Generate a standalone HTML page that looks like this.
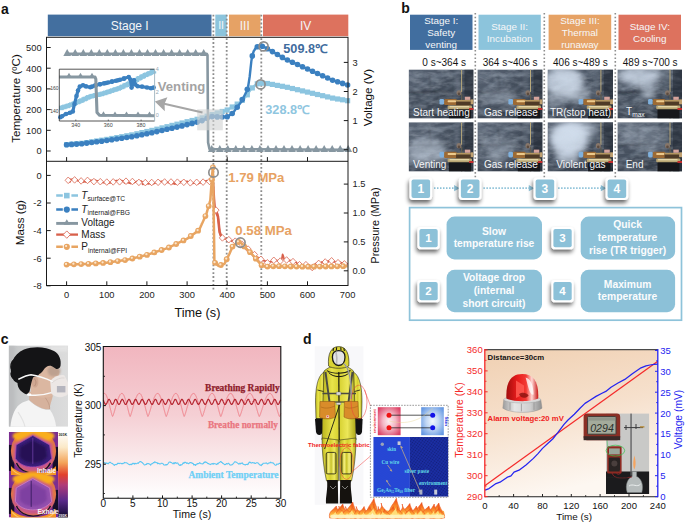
<!DOCTYPE html>
<html lang="en">
<head>
<meta charset="utf-8">
<title>Figure: thermal runaway monitoring, breathing sensing and fire alarm</title>
<style>
html,body{margin:0;padding:0;background:#fff;}
body{width:685px;height:524px;overflow:hidden;font-family:'Liberation Sans',Arial,sans-serif;}
svg{display:block;}
svg text{font-family:'Liberation Sans',Arial,Helvetica,sans-serif;}
.serif{font-family:'Liberation Serif','Times New Roman',serif !important;font-weight:bold;}
.lbl{font-weight:bold;font-size:14px;fill:#111;}
.tk{font-size:9.3px;fill:#222;}
.ax{font-size:11.6px;fill:#111;}
</style>
</head>
<body>
<svg width="685" height="524" viewBox="0 0 685 524">
<rect width="685" height="524" fill="#ffffff"/>
<g id="panel-a">
<text class="lbl" x="1" y="13.5">a</text>
<rect x="47.8" y="14.6" width="163.7" height="21.6" fill="#436f9f"/>
<text x="129.7" y="29.6" font-size="12" fill="#f4f6f8" text-anchor="middle">Stage I</text>
<rect x="215.3" y="14.6" width="11.5" height="21.6" fill="#8cc4dc"/>
<text x="221.1" y="29.2" font-size="10.5" fill="#f4f6f8" text-anchor="middle">II</text>
<rect x="229.0" y="14.6" width="31.5" height="21.6" fill="#e6a265"/>
<text x="244.8" y="29.6" font-size="12" fill="#f4f6f8" text-anchor="middle">III</text>
<rect x="263.0" y="14.6" width="85.3" height="21.6" fill="#dd725e"/>
<text x="305.6" y="29.6" font-size="12" fill="#f4f6f8" text-anchor="middle">IV</text>
<line x1="213.4" y1="14.8" x2="213.4" y2="289.5" stroke="#8c8c8c" stroke-width="1.8" stroke-dasharray="1.8 2.1"/>
<line x1="226.7" y1="14.8" x2="226.7" y2="289.5" stroke="#8c8c8c" stroke-width="1.8" stroke-dasharray="1.8 2.1"/>
<line x1="261.3" y1="14.8" x2="261.3" y2="289.5" stroke="#8c8c8c" stroke-width="1.8" stroke-dasharray="1.8 2.1"/>
<polyline points="66.6,144.6 68.2,144.4 69.8,144.3 71.4,144.2 73.0,144.0 74.6,143.9 76.2,143.8 77.8,143.6 79.4,143.5 81.1,143.3 82.7,143.2 84.3,143.0 85.9,142.7 87.5,142.5 89.1,142.2 90.7,142.0 92.3,141.7 93.9,141.5 95.5,141.2 97.1,140.9 98.7,140.7 100.3,140.4 101.9,140.2 103.5,139.9 105.1,139.7 106.8,139.4 108.4,139.1 110.0,138.8 111.6,138.6 113.2,138.3 114.8,138.0 116.4,137.7 118.0,137.4 119.6,137.1 121.2,136.8 122.8,136.6 124.4,136.3 126.0,136.0 127.6,135.7 129.2,135.4 130.8,135.1 132.4,134.7 134.1,134.4 135.7,134.0 137.3,133.7 138.9,133.3 140.5,132.9 142.1,132.6 143.7,132.2 145.3,131.9 146.9,131.5 148.5,131.2 150.1,130.8 151.7,130.4 153.3,130.1 154.9,129.7 156.5,129.3 158.1,128.9 159.7,128.5 161.4,128.1 163.0,127.7 164.6,127.3 166.2,126.9 167.8,126.5 169.4,126.1 171.0,125.7 172.6,125.3 174.2,124.9 175.8,124.5 177.4,124.1 179.0,123.7 180.6,123.3 182.2,122.9 183.8,122.5 185.4,122.1 187.1,121.7 188.7,121.3 190.3,121.0 191.9,120.6 193.5,120.2 195.1,119.8 196.7,119.4 198.3,119.0 199.9,118.6 201.5,118.1 203.1,117.6 204.7,117.0 206.3,116.5 207.9,115.9 209.5,115.4 211.1,114.9 212.7,114.4 214.4,113.9 216.0,113.4 217.6,112.9 219.2,112.4 220.8,111.9 222.4,111.5 224.0,111.0 225.6,110.5 227.2,110.0 228.8,109.1 230.4,108.1 232.0,107.2 233.6,106.2 235.2,105.2 236.8,104.3 238.4,103.3 240.0,102.4 241.7,100.9 243.3,99.2 244.9,97.6 246.5,95.9 248.1,93.6 249.7,91.2 251.3,88.9 252.9,87.2 254.5,85.6 256.1,84.4 257.7,83.7 259.3,82.9 260.9,83.1 262.5,83.2 264.1,83.3 265.7,83.4 267.4,83.5 269.0,83.8 270.6,84.1 272.2,84.4 273.8,84.7 275.4,85.0 277.0,85.3 278.6,85.6 280.2,85.9 281.8,86.2 283.4,86.5 285.0,86.8 286.6,87.1 288.2,87.5 289.8,87.9 291.4,88.3 293.0,88.6 294.7,89.0 296.3,89.4 297.9,89.8 299.5,90.2 301.1,90.5 302.7,90.9 304.3,91.3 305.9,91.7 307.5,92.1 309.1,92.5 310.7,92.8 312.3,93.2 313.9,93.6 315.5,94.0 317.1,94.4 318.7,94.8 320.3,95.2 322.0,95.6 323.6,96.0 325.2,96.3 326.8,96.7 328.4,97.1 330.0,97.5 331.6,97.9 333.2,98.2 334.8,98.5 336.4,98.8 338.0,99.0 339.6,99.3 341.2,99.6 342.8,99.9 344.4,100.1 346.0,100.4 347.6,100.7" fill="none" stroke="#8cc5e0" stroke-width="2.2" stroke-linejoin="round"/>
<rect x="64.0" y="142.0" width="5.2" height="5.2" fill="#8cc5e0"/>
<rect x="69.0" y="141.6" width="5.2" height="5.2" fill="#8cc5e0"/>
<rect x="74.0" y="141.1" width="5.2" height="5.2" fill="#8cc5e0"/>
<rect x="79.1" y="140.7" width="5.2" height="5.2" fill="#8cc5e0"/>
<rect x="84.1" y="140.0" width="5.2" height="5.2" fill="#8cc5e0"/>
<rect x="89.1" y="139.2" width="5.2" height="5.2" fill="#8cc5e0"/>
<rect x="94.1" y="138.4" width="5.2" height="5.2" fill="#8cc5e0"/>
<rect x="99.1" y="137.6" width="5.2" height="5.2" fill="#8cc5e0"/>
<rect x="104.2" y="136.8" width="5.2" height="5.2" fill="#8cc5e0"/>
<rect x="109.2" y="135.9" width="5.2" height="5.2" fill="#8cc5e0"/>
<rect x="114.2" y="135.0" width="5.2" height="5.2" fill="#8cc5e0"/>
<rect x="119.2" y="134.1" width="5.2" height="5.2" fill="#8cc5e0"/>
<rect x="124.2" y="133.2" width="5.2" height="5.2" fill="#8cc5e0"/>
<rect x="129.2" y="132.3" width="5.2" height="5.2" fill="#8cc5e0"/>
<rect x="134.3" y="131.2" width="5.2" height="5.2" fill="#8cc5e0"/>
<rect x="139.3" y="130.0" width="5.2" height="5.2" fill="#8cc5e0"/>
<rect x="144.3" y="128.9" width="5.2" height="5.2" fill="#8cc5e0"/>
<rect x="149.3" y="127.8" width="5.2" height="5.2" fill="#8cc5e0"/>
<rect x="154.3" y="126.6" width="5.2" height="5.2" fill="#8cc5e0"/>
<rect x="159.4" y="125.3" width="5.2" height="5.2" fill="#8cc5e0"/>
<rect x="164.4" y="124.1" width="5.2" height="5.2" fill="#8cc5e0"/>
<rect x="169.4" y="122.8" width="5.2" height="5.2" fill="#8cc5e0"/>
<rect x="174.4" y="121.6" width="5.2" height="5.2" fill="#8cc5e0"/>
<rect x="179.4" y="120.4" width="5.2" height="5.2" fill="#8cc5e0"/>
<rect x="184.5" y="119.1" width="5.2" height="5.2" fill="#8cc5e0"/>
<rect x="189.5" y="117.9" width="5.2" height="5.2" fill="#8cc5e0"/>
<rect x="194.5" y="116.7" width="5.2" height="5.2" fill="#8cc5e0"/>
<rect x="199.5" y="115.3" width="5.2" height="5.2" fill="#8cc5e0"/>
<rect x="204.5" y="113.6" width="5.2" height="5.2" fill="#8cc5e0"/>
<rect x="209.5" y="112.0" width="5.2" height="5.2" fill="#8cc5e0"/>
<rect x="214.6" y="110.4" width="5.2" height="5.2" fill="#8cc5e0"/>
<rect x="219.6" y="108.9" width="5.2" height="5.2" fill="#8cc5e0"/>
<rect x="224.6" y="107.4" width="5.2" height="5.2" fill="#8cc5e0"/>
<rect x="229.6" y="104.4" width="5.2" height="5.2" fill="#8cc5e0"/>
<rect x="234.6" y="101.5" width="5.2" height="5.2" fill="#8cc5e0"/>
<rect x="239.7" y="97.7" width="5.2" height="5.2" fill="#8cc5e0"/>
<rect x="244.7" y="92.2" width="5.2" height="5.2" fill="#8cc5e0"/>
<rect x="249.7" y="85.3" width="5.2" height="5.2" fill="#8cc5e0"/>
<rect x="254.7" y="81.2" width="5.2" height="5.2" fill="#8cc5e0"/>
<rect x="259.7" y="80.6" width="5.2" height="5.2" fill="#8cc5e0"/>
<rect x="264.8" y="80.9" width="5.2" height="5.2" fill="#8cc5e0"/>
<rect x="269.8" y="81.8" width="5.2" height="5.2" fill="#8cc5e0"/>
<rect x="274.8" y="82.8" width="5.2" height="5.2" fill="#8cc5e0"/>
<rect x="279.8" y="83.7" width="5.2" height="5.2" fill="#8cc5e0"/>
<rect x="284.8" y="84.7" width="5.2" height="5.2" fill="#8cc5e0"/>
<rect x="289.8" y="85.9" width="5.2" height="5.2" fill="#8cc5e0"/>
<rect x="294.9" y="87.1" width="5.2" height="5.2" fill="#8cc5e0"/>
<rect x="299.9" y="88.3" width="5.2" height="5.2" fill="#8cc5e0"/>
<rect x="304.9" y="89.5" width="5.2" height="5.2" fill="#8cc5e0"/>
<rect x="309.9" y="90.7" width="5.2" height="5.2" fill="#8cc5e0"/>
<rect x="314.9" y="91.9" width="5.2" height="5.2" fill="#8cc5e0"/>
<rect x="320.0" y="93.1" width="5.2" height="5.2" fill="#8cc5e0"/>
<rect x="325.0" y="94.3" width="5.2" height="5.2" fill="#8cc5e0"/>
<rect x="330.0" y="95.5" width="5.2" height="5.2" fill="#8cc5e0"/>
<rect x="335.0" y="96.4" width="5.2" height="5.2" fill="#8cc5e0"/>
<rect x="340.0" y="97.2" width="5.2" height="5.2" fill="#8cc5e0"/>
<rect x="345.0" y="98.1" width="5.2" height="5.2" fill="#8cc5e0"/>
<polyline points="66.6,144.8 67.4,144.7 68.2,144.7 69.0,144.6 69.8,144.6 70.6,144.5 71.4,144.4 72.2,144.4 73.0,144.3 73.8,144.3 74.6,144.2 75.4,144.1 76.2,144.1 77.0,144.0 77.8,144.0 78.6,143.9 79.4,143.8 80.3,143.8 81.1,143.7 81.9,143.7 82.7,143.6 83.5,143.5 84.3,143.4 85.1,143.3 85.9,143.2 86.7,143.1 87.5,143.0 88.3,142.9 89.1,142.8 89.9,142.7 90.7,142.6 91.5,142.5 92.3,142.4 93.1,142.3 93.9,142.2 94.7,142.1 95.5,142.0 96.3,141.9 97.1,141.8 97.9,141.7 98.7,141.6 99.5,141.5 100.3,141.4 101.1,141.3 101.9,141.2 102.7,141.1 103.5,141.0 104.3,140.9 105.1,140.8 105.9,140.7 106.8,140.5 107.6,140.4 108.4,140.3 109.2,140.2 110.0,140.1 110.8,139.9 111.6,139.8 112.4,139.7 113.2,139.6 114.0,139.5 114.8,139.3 115.6,139.2 116.4,139.1 117.2,139.0 118.0,138.8 118.8,138.7 119.6,138.6 120.4,138.5 121.2,138.4 122.0,138.2 122.8,138.1 123.6,138.0 124.4,137.9 125.2,137.8 126.0,137.6 126.8,137.5 127.6,137.4 128.4,137.3 129.2,137.1 130.0,137.0 130.8,136.9 131.6,136.7 132.4,136.5 133.2,136.4 134.1,136.2 134.9,136.1 135.7,135.9 136.5,135.7 137.3,135.6 138.1,135.4 138.9,135.3 139.7,135.1 140.5,134.9 141.3,134.8 142.1,134.6 142.9,134.5 143.7,134.3 144.5,134.1 145.3,134.0 146.1,133.8 146.9,133.7 147.7,133.5 148.5,133.3 149.3,133.2 150.1,133.0 150.9,132.9 151.7,132.7 152.5,132.5 153.3,132.4 154.1,132.2 154.9,132.0 155.7,131.8 156.5,131.7 157.3,131.5 158.1,131.3 158.9,131.1 159.7,130.9 160.6,130.8 161.4,130.6 162.2,130.4 163.0,130.2 163.8,130.1 164.6,129.9 165.4,129.7 166.2,129.5 167.0,129.3 167.8,129.2 168.6,129.0 169.4,128.8 170.2,128.6 171.0,128.4 171.8,128.3 172.6,128.1 173.4,127.9 174.2,127.7 175.0,127.6 175.8,127.4 176.6,127.2 177.4,127.0 178.2,126.8 179.0,126.6 179.8,126.4 180.6,126.2 181.4,126.0 182.2,125.8 183.0,125.6 183.8,125.4 184.6,125.2 185.4,125.0 186.2,124.8 187.1,124.6 187.9,124.4 188.7,124.2 189.5,124.1 190.3,123.9 191.1,123.7 191.9,123.5 192.7,123.3 193.5,123.1 194.3,122.9 195.1,122.7 195.9,122.5 196.7,122.3 197.5,122.1 198.3,121.9 199.1,121.7 199.9,121.5 200.7,121.2 201.5,120.9 202.3,120.5 203.1,120.1 203.9,119.8 204.7,119.4 205.5,119.1 206.3,118.7 207.1,118.3 207.9,118.0 208.7,117.6 209.5,117.3 210.3,117.1 211.1,116.8 211.9,116.6 212.7,116.4 213.5,116.5 214.4,116.6 215.2,116.7 216.0,116.7 216.8,116.8 217.6,116.9 218.4,117.0 219.2,117.1 220.0,117.0 220.8,117.0 221.6,117.0 222.4,117.0 223.2,116.9 224.0,116.9 224.8,116.9 225.6,116.9 226.4,116.9 227.2,116.8 228.0,116.3 228.8,115.8 229.6,115.2 230.4,114.7 231.2,114.2 232.0,113.7 232.8,113.1 233.6,112.1 234.4,111.0 235.2,109.9 236.0,108.8 236.8,107.8 237.6,106.7 238.4,105.6 239.2,104.6 240.0,103.5 240.9,102.2 241.7,100.7 242.5,99.2 243.3,97.8 244.1,96.3 244.9,94.8 245.7,93.3 246.5,91.8 247.3,89.3 248.1,86.8 248.9,81.7 249.7,76.5 250.5,69.0 251.3,61.6 252.1,56.5 252.9,53.9 253.7,51.2 254.5,50.0 255.3,48.7 256.1,47.5 256.9,47.0 257.7,46.5 258.5,46.0 259.3,45.5 260.1,45.7 260.9,45.9 261.7,46.1 262.5,46.3 263.3,46.5 264.1,46.9 264.9,47.4 265.7,47.8 266.5,48.3 267.4,48.7 268.2,49.2 269.0,49.7 269.8,50.1 270.6,50.6 271.4,51.0 272.2,51.5 273.0,52.0 273.8,52.4 274.6,52.9 275.4,53.3 276.2,53.8 277.0,54.3 277.8,54.7 278.6,55.2 279.4,55.6 280.2,56.1 281.0,56.6 281.8,57.0 282.6,57.5 283.4,57.9 284.2,58.4 285.0,58.9 285.8,59.3 286.6,59.6 287.4,60.0 288.2,60.4 289.0,60.7 289.8,61.1 290.6,61.4 291.4,61.8 292.2,62.2 293.0,62.5 293.8,62.9 294.7,63.2 295.5,63.6 296.3,64.0 297.1,64.3 297.9,64.7 298.7,65.1 299.5,65.4 300.3,65.8 301.1,66.1 301.9,66.5 302.7,66.9 303.5,67.2 304.3,67.6 305.1,67.9 305.9,68.3 306.7,68.7 307.5,69.0 308.3,69.4 309.1,69.8 309.9,70.1 310.7,70.5 311.5,70.8 312.3,71.2 313.1,71.6 313.9,71.9 314.7,72.3 315.5,72.6 316.3,73.0 317.1,73.4 317.9,73.7 318.7,74.1 319.5,74.4 320.3,74.8 321.2,75.1 322.0,75.5 322.8,75.9 323.6,76.2 324.4,76.6 325.2,76.9 326.0,77.3 326.8,77.7 327.6,78.0 328.4,78.4 329.2,78.7 330.0,79.1 330.8,79.5 331.6,79.8 332.4,80.1 333.2,80.4 334.0,80.6 334.8,80.9 335.6,81.1 336.4,81.4 337.2,81.7 338.0,81.9 338.8,82.2 339.6,82.4 340.4,82.7 341.2,82.9 342.0,83.2 342.8,83.4 343.6,83.7 344.4,83.9 345.2,84.2 346.0,84.5 346.8,84.7 347.6,85.0" fill="none" stroke="#3b80c0" stroke-width="2.4" stroke-linejoin="round"/>
<circle cx="66.6" cy="144.8" r="2.8" fill="#3b80c0"/>
<circle cx="71.6" cy="144.4" r="2.8" fill="#3b80c0"/>
<circle cx="76.6" cy="144.1" r="2.8" fill="#3b80c0"/>
<circle cx="81.7" cy="143.7" r="2.8" fill="#3b80c0"/>
<circle cx="86.7" cy="143.1" r="2.8" fill="#3b80c0"/>
<circle cx="91.7" cy="142.5" r="2.8" fill="#3b80c0"/>
<circle cx="96.7" cy="141.8" r="2.8" fill="#3b80c0"/>
<circle cx="101.7" cy="141.2" r="2.8" fill="#3b80c0"/>
<circle cx="106.8" cy="140.5" r="2.8" fill="#3b80c0"/>
<circle cx="111.8" cy="139.8" r="2.8" fill="#3b80c0"/>
<circle cx="116.8" cy="139.0" r="2.8" fill="#3b80c0"/>
<circle cx="121.8" cy="138.3" r="2.8" fill="#3b80c0"/>
<circle cx="126.8" cy="137.5" r="2.8" fill="#3b80c0"/>
<circle cx="131.8" cy="136.7" r="2.8" fill="#3b80c0"/>
<circle cx="136.9" cy="135.7" r="2.8" fill="#3b80c0"/>
<circle cx="141.9" cy="134.7" r="2.8" fill="#3b80c0"/>
<circle cx="146.9" cy="133.7" r="2.8" fill="#3b80c0"/>
<circle cx="151.9" cy="132.7" r="2.8" fill="#3b80c0"/>
<circle cx="156.9" cy="131.6" r="2.8" fill="#3b80c0"/>
<circle cx="162.0" cy="130.5" r="2.8" fill="#3b80c0"/>
<circle cx="167.0" cy="129.3" r="2.8" fill="#3b80c0"/>
<circle cx="172.0" cy="128.2" r="2.8" fill="#3b80c0"/>
<circle cx="177.0" cy="127.1" r="2.8" fill="#3b80c0"/>
<circle cx="182.0" cy="125.9" r="2.8" fill="#3b80c0"/>
<circle cx="187.1" cy="124.6" r="2.8" fill="#3b80c0"/>
<circle cx="192.1" cy="123.4" r="2.8" fill="#3b80c0"/>
<circle cx="197.1" cy="122.2" r="2.8" fill="#3b80c0"/>
<circle cx="202.1" cy="120.6" r="2.8" fill="#3b80c0"/>
<circle cx="207.1" cy="118.3" r="2.8" fill="#3b80c0"/>
<circle cx="212.1" cy="116.6" r="2.8" fill="#3b80c0"/>
<circle cx="217.2" cy="116.9" r="2.8" fill="#3b80c0"/>
<circle cx="222.2" cy="117.0" r="2.8" fill="#3b80c0"/>
<circle cx="227.2" cy="116.8" r="2.8" fill="#3b80c0"/>
<circle cx="232.2" cy="113.5" r="2.8" fill="#3b80c0"/>
<circle cx="237.2" cy="107.2" r="2.8" fill="#3b80c0"/>
<circle cx="242.3" cy="99.6" r="2.8" fill="#3b80c0"/>
<circle cx="247.3" cy="89.3" r="2.8" fill="#3b80c0"/>
<circle cx="252.3" cy="55.9" r="2.8" fill="#3b80c0"/>
<circle cx="257.3" cy="46.7" r="2.8" fill="#3b80c0"/>
<circle cx="262.3" cy="46.2" r="2.8" fill="#3b80c0"/>
<circle cx="267.4" cy="48.7" r="2.8" fill="#3b80c0"/>
<circle cx="272.4" cy="51.6" r="2.8" fill="#3b80c0"/>
<circle cx="277.4" cy="54.5" r="2.8" fill="#3b80c0"/>
<circle cx="282.4" cy="57.4" r="2.8" fill="#3b80c0"/>
<circle cx="287.4" cy="60.0" r="2.8" fill="#3b80c0"/>
<circle cx="292.4" cy="62.3" r="2.8" fill="#3b80c0"/>
<circle cx="297.5" cy="64.5" r="2.8" fill="#3b80c0"/>
<circle cx="302.5" cy="66.8" r="2.8" fill="#3b80c0"/>
<circle cx="307.5" cy="69.0" r="2.8" fill="#3b80c0"/>
<circle cx="312.5" cy="71.3" r="2.8" fill="#3b80c0"/>
<circle cx="317.5" cy="73.5" r="2.8" fill="#3b80c0"/>
<circle cx="322.6" cy="75.8" r="2.8" fill="#3b80c0"/>
<circle cx="327.6" cy="78.0" r="2.8" fill="#3b80c0"/>
<circle cx="332.6" cy="80.2" r="2.8" fill="#3b80c0"/>
<circle cx="337.6" cy="81.8" r="2.8" fill="#3b80c0"/>
<circle cx="342.6" cy="83.4" r="2.8" fill="#3b80c0"/>
<circle cx="347.6" cy="85.0" r="2.8" fill="#3b80c0"/>
<polyline points="66.6,53.7 206.7,53.7 207.5,55.1 208.1,142.4 209.5,149.1 347.6,149.7" fill="none" stroke="#8797a1" stroke-width="2.6" stroke-linejoin="round"/>
<path d="M67.2 49.0l3.9 6.9h-7.8z" fill="#8797a1"/>
<path d="M75.2 49.0l3.9 6.9h-7.8z" fill="#8797a1"/>
<path d="M83.3 49.0l3.9 6.9h-7.8z" fill="#8797a1"/>
<path d="M91.3 49.0l3.9 6.9h-7.8z" fill="#8797a1"/>
<path d="M99.3 49.0l3.9 6.9h-7.8z" fill="#8797a1"/>
<path d="M107.3 49.0l3.9 6.9h-7.8z" fill="#8797a1"/>
<path d="M115.4 49.0l3.9 6.9h-7.8z" fill="#8797a1"/>
<path d="M123.4 49.0l3.9 6.9h-7.8z" fill="#8797a1"/>
<path d="M131.4 49.0l3.9 6.9h-7.8z" fill="#8797a1"/>
<path d="M139.5 49.0l3.9 6.9h-7.8z" fill="#8797a1"/>
<path d="M147.5 49.0l3.9 6.9h-7.8z" fill="#8797a1"/>
<path d="M155.5 49.0l3.9 6.9h-7.8z" fill="#8797a1"/>
<path d="M163.6 49.0l3.9 6.9h-7.8z" fill="#8797a1"/>
<path d="M171.6 49.0l3.9 6.9h-7.8z" fill="#8797a1"/>
<path d="M179.6 49.0l3.9 6.9h-7.8z" fill="#8797a1"/>
<path d="M187.7 49.0l3.9 6.9h-7.8z" fill="#8797a1"/>
<path d="M195.7 49.0l3.9 6.9h-7.8z" fill="#8797a1"/>
<path d="M203.7 49.0l3.9 6.9h-7.8z" fill="#8797a1"/>
<path d="M211.7 145.0l3.9 6.9h-7.8z" fill="#8797a1"/>
<path d="M219.8 145.0l3.9 6.9h-7.8z" fill="#8797a1"/>
<path d="M227.8 145.0l3.9 6.9h-7.8z" fill="#8797a1"/>
<path d="M235.8 145.0l3.9 6.9h-7.8z" fill="#8797a1"/>
<path d="M243.9 145.0l3.9 6.9h-7.8z" fill="#8797a1"/>
<path d="M251.9 145.0l3.9 6.9h-7.8z" fill="#8797a1"/>
<path d="M259.9 145.0l3.9 6.9h-7.8z" fill="#8797a1"/>
<path d="M268.0 145.0l3.9 6.9h-7.8z" fill="#8797a1"/>
<path d="M276.0 145.0l3.9 6.9h-7.8z" fill="#8797a1"/>
<path d="M284.0 145.0l3.9 6.9h-7.8z" fill="#8797a1"/>
<path d="M292.0 145.0l3.9 6.9h-7.8z" fill="#8797a1"/>
<path d="M300.1 145.0l3.9 6.9h-7.8z" fill="#8797a1"/>
<path d="M308.1 145.0l3.9 6.9h-7.8z" fill="#8797a1"/>
<path d="M316.1 145.0l3.9 6.9h-7.8z" fill="#8797a1"/>
<path d="M324.2 145.0l3.9 6.9h-7.8z" fill="#8797a1"/>
<path d="M332.2 145.0l3.9 6.9h-7.8z" fill="#8797a1"/>
<path d="M340.2 145.0l3.9 6.9h-7.8z" fill="#8797a1"/>
<path d="M348.2 145.0l3.9 6.9h-7.8z" fill="#8797a1"/>
<rect x="197.2" y="109.3" width="25.6" height="21" fill="#d2d4d4" opacity="0.62"/>
<circle cx="263.6" cy="46.4" r="4.5" fill="none" stroke="#8e8e8e" stroke-width="1.7"/>
<circle cx="260.6" cy="84.4" r="4.5" fill="none" stroke="#8e8e8e" stroke-width="1.7"/>
<text x="283.3" y="53.3" font-size="12" font-weight="bold" fill="#3f6c9e" textLength="44.5" lengthAdjust="spacingAndGlyphs">509.8℃</text>
<text x="265.3" y="114" font-size="12" font-weight="bold" fill="#8fc6df" textLength="44.5" lengthAdjust="spacingAndGlyphs">328.8℃</text>
<rect x="59.3" y="69.2" width="95.3" height="51.8" fill="#ffffff"/>
<polyline points="59.3,107.9 62.7,107.9 62.7,106.9 66.1,106.9 66.1,105.9 69.5,105.9 69.5,104.7 72.9,104.7 72.9,103.4 76.3,103.4 76.3,102.0 79.7,102.0 79.7,100.6 83.1,100.6 83.1,99.0 86.5,99.0 86.5,97.4 89.9,97.4 89.9,96.2 93.3,96.2 93.3,95.4 96.7,95.4 96.7,94.7 100.1,94.7 100.1,93.9 103.5,93.9 103.5,92.9 106.9,92.9 106.9,91.8 110.3,91.8 110.3,90.6 113.7,90.6 113.7,89.5 117.1,89.5 117.1,88.4 120.5,88.4 120.5,86.9 123.9,86.9 123.9,85.2 127.3,85.2 127.3,83.6 130.7,83.6 130.7,81.9 134.1,81.9 134.1,80.2 137.5,80.2 137.5,78.3 140.9,78.3 140.9,76.5 144.3,76.5 144.3,74.8 147.7,74.8 147.7,73.4 151.1,73.4 151.1,71.9 154.5,71.9 154.5,71.2 154.6,71.2" fill="none" stroke="#8cc5e0" stroke-width="3.4"/>
<rect x="59.3" y="105.6" width="4.4" height="4.6" fill="#8cc5e0"/>
<rect x="62.2" y="104.6" width="4.4" height="4.6" fill="#8cc5e0"/>
<rect x="65.6" y="103.6" width="4.4" height="4.6" fill="#8cc5e0"/>
<rect x="69.0" y="102.4" width="4.4" height="4.6" fill="#8cc5e0"/>
<rect x="72.4" y="101.1" width="4.4" height="4.6" fill="#8cc5e0"/>
<rect x="75.8" y="99.7" width="4.4" height="4.6" fill="#8cc5e0"/>
<rect x="79.2" y="98.3" width="4.4" height="4.6" fill="#8cc5e0"/>
<rect x="82.6" y="96.7" width="4.4" height="4.6" fill="#8cc5e0"/>
<rect x="86.0" y="95.1" width="4.4" height="4.6" fill="#8cc5e0"/>
<rect x="89.4" y="93.9" width="4.4" height="4.6" fill="#8cc5e0"/>
<rect x="92.8" y="93.1" width="4.4" height="4.6" fill="#8cc5e0"/>
<rect x="96.2" y="92.4" width="4.4" height="4.6" fill="#8cc5e0"/>
<rect x="99.6" y="91.6" width="4.4" height="4.6" fill="#8cc5e0"/>
<rect x="103.0" y="90.6" width="4.4" height="4.6" fill="#8cc5e0"/>
<rect x="106.4" y="89.5" width="4.4" height="4.6" fill="#8cc5e0"/>
<rect x="109.8" y="88.3" width="4.4" height="4.6" fill="#8cc5e0"/>
<rect x="113.2" y="87.2" width="4.4" height="4.6" fill="#8cc5e0"/>
<rect x="116.6" y="86.1" width="4.4" height="4.6" fill="#8cc5e0"/>
<rect x="120.0" y="84.6" width="4.4" height="4.6" fill="#8cc5e0"/>
<rect x="123.4" y="82.9" width="4.4" height="4.6" fill="#8cc5e0"/>
<rect x="126.8" y="81.3" width="4.4" height="4.6" fill="#8cc5e0"/>
<rect x="130.2" y="79.6" width="4.4" height="4.6" fill="#8cc5e0"/>
<rect x="133.6" y="77.9" width="4.4" height="4.6" fill="#8cc5e0"/>
<rect x="137.0" y="76.0" width="4.4" height="4.6" fill="#8cc5e0"/>
<rect x="140.4" y="74.2" width="4.4" height="4.6" fill="#8cc5e0"/>
<rect x="143.8" y="72.5" width="4.4" height="4.6" fill="#8cc5e0"/>
<rect x="147.2" y="71.1" width="4.4" height="4.6" fill="#8cc5e0"/>
<rect x="150.2" y="69.6" width="4.4" height="4.6" fill="#8cc5e0"/>
<rect x="150.2" y="68.9" width="4.4" height="4.6" fill="#8cc5e0"/>
<polyline points="59.3,117.2 62.0,116.2 66.0,114.0 70.0,112.8 72.8,111.5 74.5,104.0 76.5,96.0 78.0,90.5 79.8,86.6 83.0,85.2 86.0,86.4 90.3,87.3 95.0,85.5 100.0,84.3 106.0,83.0 112.0,81.6 118.0,80.2 124.0,78.6 128.8,77.0 130.4,79.5 131.6,87.6 132.8,83.5 134.0,80.2 135.3,84.5 137.6,86.3 142.0,86.6 147.0,87.5 151.0,88.2 154.6,87.6" fill="none" stroke="#3b80c0" stroke-width="3.2" stroke-linejoin="round"/>
<circle cx="60.3" cy="117.2" r="2.3" fill="#3b80c0"/>
<circle cx="62.0" cy="116.2" r="2.3" fill="#3b80c0"/>
<circle cx="66.0" cy="114.0" r="2.3" fill="#3b80c0"/>
<circle cx="70.0" cy="112.8" r="2.3" fill="#3b80c0"/>
<circle cx="72.8" cy="111.5" r="2.3" fill="#3b80c0"/>
<circle cx="74.5" cy="104.0" r="2.3" fill="#3b80c0"/>
<circle cx="76.5" cy="96.0" r="2.3" fill="#3b80c0"/>
<circle cx="78.0" cy="90.5" r="2.3" fill="#3b80c0"/>
<circle cx="79.8" cy="86.6" r="2.3" fill="#3b80c0"/>
<circle cx="83.0" cy="85.2" r="2.3" fill="#3b80c0"/>
<circle cx="86.0" cy="86.4" r="2.3" fill="#3b80c0"/>
<circle cx="90.3" cy="87.3" r="2.3" fill="#3b80c0"/>
<circle cx="95.0" cy="85.5" r="2.3" fill="#3b80c0"/>
<circle cx="100.0" cy="84.3" r="2.3" fill="#3b80c0"/>
<circle cx="106.0" cy="83.0" r="2.3" fill="#3b80c0"/>
<circle cx="112.0" cy="81.6" r="2.3" fill="#3b80c0"/>
<circle cx="118.0" cy="80.2" r="2.3" fill="#3b80c0"/>
<circle cx="124.0" cy="78.6" r="2.3" fill="#3b80c0"/>
<circle cx="128.8" cy="77.0" r="2.3" fill="#3b80c0"/>
<circle cx="130.4" cy="79.5" r="2.3" fill="#3b80c0"/>
<circle cx="131.6" cy="87.6" r="2.3" fill="#3b80c0"/>
<circle cx="132.8" cy="83.5" r="2.3" fill="#3b80c0"/>
<circle cx="134.0" cy="80.2" r="2.3" fill="#3b80c0"/>
<circle cx="135.3" cy="84.5" r="2.3" fill="#3b80c0"/>
<circle cx="137.6" cy="86.3" r="2.3" fill="#3b80c0"/>
<circle cx="142.0" cy="86.6" r="2.3" fill="#3b80c0"/>
<circle cx="147.0" cy="87.5" r="2.3" fill="#3b80c0"/>
<circle cx="151.0" cy="88.2" r="2.3" fill="#3b80c0"/>
<circle cx="153.6" cy="87.6" r="2.3" fill="#3b80c0"/>
<circle cx="92.0" cy="86.6" r="2.3" fill="#3b80c0"/>
<circle cx="96.0" cy="85.3" r="2.3" fill="#3b80c0"/>
<circle cx="100.0" cy="84.3" r="2.3" fill="#3b80c0"/>
<circle cx="104.0" cy="83.4" r="2.3" fill="#3b80c0"/>
<circle cx="108.0" cy="82.5" r="2.3" fill="#3b80c0"/>
<circle cx="112.0" cy="81.6" r="2.3" fill="#3b80c0"/>
<circle cx="116.0" cy="80.7" r="2.3" fill="#3b80c0"/>
<circle cx="120.0" cy="79.7" r="2.3" fill="#3b80c0"/>
<circle cx="124.0" cy="78.6" r="2.3" fill="#3b80c0"/>
<polyline points="59.3,77.0 95.0,77.0 95.8,79.0 97.0,112.5 99.5,115.3 154.6,115.7" fill="none" stroke="#8797a1" stroke-width="3.1" stroke-linejoin="round"/>
<path d="M69.0 72.7l3.1 5.2h-6.2z" fill="#8797a1"/>
<path d="M80.5 72.7l3.1 5.2h-6.2z" fill="#8797a1"/>
<path d="M92.0 72.7l3.1 5.2h-6.2z" fill="#8797a1"/>
<path d="M103.5 111.2l3.1 5.2h-6.2z" fill="#8797a1"/>
<path d="M115.0 111.4l3.1 5.2h-6.2z" fill="#8797a1"/>
<path d="M126.5 111.4l3.1 5.2h-6.2z" fill="#8797a1"/>
<path d="M138.0 111.4l3.1 5.2h-6.2z" fill="#8797a1"/>
<path d="M149.5 111.4l3.1 5.2h-6.2z" fill="#8797a1"/>
<path d="M154.6 69.2H59.3V121.0H154.6" fill="none" stroke="#2a2a2a" stroke-width="0.8"/>
<line x1="154.6" y1="69.2" x2="154.6" y2="121.0" stroke="#9db3c0" stroke-width="0.9"/>
<text x="75.8" y="127.2" font-size="5.4" fill="#444" text-anchor="middle">340</text>
<line x1="75.8" y1="121.0" x2="75.8" y2="119.5" stroke="#2a2a2a" stroke-width="0.6"/>
<text x="108.3" y="127.2" font-size="5.4" fill="#444" text-anchor="middle">360</text>
<line x1="108.3" y1="121.0" x2="108.3" y2="119.5" stroke="#2a2a2a" stroke-width="0.6"/>
<text x="141.1" y="127.2" font-size="5.4" fill="#444" text-anchor="middle">380</text>
<line x1="141.1" y1="121.0" x2="141.1" y2="119.5" stroke="#2a2a2a" stroke-width="0.6"/>
<text x="58.6" y="89.7" font-size="5.0" fill="#444" text-anchor="end">160</text>
<text x="58.6" y="112.5" font-size="5.0" fill="#444" text-anchor="end">140</text>
<text x="155.8" y="71.0" font-size="5.4" fill="#8fa6b4">4</text>
<text x="155.8" y="93.7" font-size="5.4" fill="#8fa6b4">2</text>
<text x="155.8" y="117.4" font-size="5.4" fill="#8fa6b4">0</text>
<line x1="202.5" y1="112.6" x2="163" y2="103.4" stroke="#a6a6a6" stroke-width="2.1"/>
<path d="M154.8 101.5 L167.4 97.2 L164.6 103.8 L164.8 111.2 Z" fill="#a6a6a6"/>
<text x="157.8" y="91" font-size="13" font-weight="bold" fill="#a3a3a3" textLength="47.4" lengthAdjust="spacingAndGlyphs">Venting</text>
<polyline points="66.6,180.1 67.4,180.2 68.2,179.4 69.0,179.9 69.8,179.3 70.6,179.4 71.4,179.7 72.2,179.2 73.0,179.8 73.8,179.4 74.6,180.0 75.4,180.1 76.2,180.0 77.0,179.8 77.8,180.8 78.6,180.9 79.4,180.7 80.3,180.6 81.1,181.2 81.9,181.5 82.7,181.0 83.5,182.1 84.3,181.2 85.1,181.8 85.9,181.9 86.7,181.8 87.5,181.5 88.3,180.7 89.1,181.3 89.9,180.6 90.7,180.4 91.5,180.6 92.3,180.3 93.1,180.8 93.9,180.8 94.7,180.6 95.5,180.2 96.3,180.6 97.1,180.9 97.9,180.8 98.7,181.2 99.5,181.6 100.3,181.3 101.1,181.7 101.9,182.5 102.7,182.4 103.5,182.7 104.3,182.5 105.1,182.8 105.9,183.4 106.8,182.7 107.6,183.6 108.4,183.1 109.2,182.5 110.0,183.0 110.8,182.4 111.6,182.6 112.4,181.6 113.2,181.3 114.0,181.2 114.8,180.7 115.6,181.1 116.4,180.5 117.2,180.5 118.0,180.5 118.8,180.6 119.6,180.2 120.4,180.2 121.2,180.8 122.0,180.7 122.8,181.5 123.6,181.1 124.4,181.4 125.2,181.3 126.0,181.7 126.8,182.5 127.6,182.6 128.4,182.4 129.2,183.2 130.0,182.7 130.8,183.0 131.6,183.0 132.4,183.0 133.2,182.1 134.1,182.6 134.9,182.3 135.7,182.0 136.5,181.4 137.3,182.1 138.1,181.6 138.9,181.5 139.7,181.1 140.5,181.2 141.3,181.2 142.1,182.0 142.9,182.0 143.7,182.3 144.5,182.0 145.3,182.2 146.1,183.3 146.9,183.6 147.7,183.7 148.5,183.8 149.3,183.7 150.1,183.7 150.9,184.1 151.7,184.4 152.5,183.9 153.3,183.8 154.1,183.5 154.9,182.9 155.7,183.0 156.5,182.9 157.3,182.6 158.1,182.3 158.9,182.7 159.7,181.6 160.6,181.6 161.4,181.3 162.2,181.3 163.0,181.7 163.8,181.7 164.6,182.0 165.4,181.5 166.2,182.3 167.0,182.4 167.8,182.5 168.6,182.7 169.4,182.7 170.2,183.2 171.0,183.4 171.8,183.4 172.6,183.6 173.4,183.4 174.2,183.8 175.0,182.9 175.8,183.1 176.6,183.6 177.4,183.3 178.2,183.0 179.0,182.8 179.8,182.9 180.6,181.9 181.4,181.5 182.2,181.9 183.0,181.8 183.8,182.1 184.6,182.0 185.4,181.7 186.2,181.8 187.1,181.2 187.9,182.1 188.7,182.3 189.5,181.5 190.3,182.2 191.1,182.8 191.9,182.6 192.7,183.4 193.5,183.0 194.3,182.7 195.1,183.0 195.9,183.2 196.7,183.7 197.5,183.5 198.3,183.7 199.1,182.9 199.9,183.0 200.7,182.5 201.5,182.7 202.3,182.6 203.1,181.7 203.9,181.2 204.7,181.2 205.5,181.0 206.3,180.8 207.1,180.7 207.9,181.2 208.7,180.8 209.5,181.0 210.3,181.4 211.1,181.5 211.9,181.9 212.7,182.6 213.5,182.7 214.4,198.5 215.2,208.2 216.0,209.6 216.8,211.6 217.6,213.8 218.4,219.7 219.2,228.2 220.0,233.6 220.8,236.1 221.6,238.6 222.4,238.2 223.2,238.0 224.0,238.3 224.8,239.0 225.6,239.0 226.4,239.0 227.2,240.1 228.0,239.6 228.8,239.4 229.6,239.8 230.4,240.1 231.2,240.6 232.0,241.3 232.8,240.6 233.6,241.5 234.4,241.0 235.2,241.0 236.0,242.1 236.8,242.3 237.6,241.9 238.4,242.4 239.2,243.5 240.0,243.8 240.9,244.1 241.7,243.3 242.5,243.7 243.3,244.9 244.1,244.7 244.9,245.3 245.7,246.5 246.5,247.7 247.3,248.2 248.1,249.5 248.9,250.5 249.7,249.9 250.5,251.1 251.3,252.1 252.1,252.3 252.9,253.8 253.7,253.8 254.5,254.4 255.3,255.8 256.1,256.3 256.9,256.8 257.7,257.5 258.5,257.5 259.3,258.5 260.1,258.9 260.9,259.8 261.7,259.2 262.5,260.3 263.3,260.6 264.1,260.8 264.9,260.7 265.7,261.7 266.5,261.4 267.4,262.3 268.2,262.1 269.0,261.9 269.8,262.4 270.6,261.6 271.4,261.7 272.2,261.8 273.0,260.5 273.8,261.1 274.6,260.5 275.4,260.0 276.2,260.3 277.0,260.7 277.8,260.5 278.6,260.6 279.4,260.3 280.2,261.4 281.0,260.8 281.8,259.0 282.6,254.4 283.4,256.4 284.2,259.6 285.0,259.6 285.8,259.5 286.6,259.5 287.4,260.3 288.2,260.2 289.0,260.5 289.8,260.6 290.6,260.5 291.4,261.0 292.2,261.3 293.0,261.7 293.8,261.4 294.7,262.1 295.5,262.2 296.3,262.4 297.1,263.7 297.9,263.6 298.7,263.5 299.5,263.9 300.3,265.0 301.1,265.0 301.9,264.6 302.7,265.2 303.5,265.0 304.3,265.3 305.1,264.5 305.9,264.4 306.7,264.3 307.5,265.4 308.3,264.7 309.1,264.8 309.9,265.6 310.7,267.0 311.5,269.3 312.3,267.9 313.1,264.5 313.9,265.0 314.7,264.6 315.5,263.6 316.3,263.6 317.1,264.2 317.9,263.6 318.7,263.2 319.5,263.2 320.3,263.1 321.2,262.7 322.0,261.9 322.8,262.6 323.6,261.6 324.4,261.7 325.2,262.2 326.0,261.7 326.8,261.2 327.6,261.3 328.4,261.8 329.2,260.5 330.0,260.7 330.8,260.4 331.6,261.5 332.4,261.5 333.2,261.9 334.0,261.1 334.8,262.0 335.6,262.3 336.4,262.1 337.2,261.6 338.0,261.9 338.8,262.8 339.6,263.2 340.4,262.3 341.2,262.9 342.0,262.9 342.8,263.9 343.6,264.2 344.4,263.5 345.2,264.0 346.0,264.7 346.8,263.6 347.6,264.2" fill="none" stroke="#d8604b" stroke-width="1.7" stroke-linejoin="round"/>
<polyline points="216.4,212.7 218.0,216.8 219.6,232.0 221.6,237.5" fill="none" stroke="#d8604b" stroke-width="2.6" stroke-linejoin="round" stroke-linecap="round"/>
<circle cx="69.8" cy="181.4" r="1.3" fill="#d8604b"/>
<circle cx="124.8" cy="182.6" r="1.3" fill="#d8604b"/>
<circle cx="130.8" cy="183.1" r="1.3" fill="#d8604b"/>
<circle cx="142.9" cy="184.0" r="1.3" fill="#d8604b"/>
<circle cx="175.0" cy="183.6" r="1.3" fill="#d8604b"/>
<path d="M68.2 177.0l3.1 3.3l-3.1 3.3l-3.1-3.3z" fill="#ffffff" stroke="#d8604b" stroke-width="0.75"/>
<path d="M74.6 176.6l3.1 3.3l-3.1 3.3l-3.1-3.3z" fill="#ffffff" stroke="#d8604b" stroke-width="0.75"/>
<path d="M81.1 177.6l3.1 3.3l-3.1 3.3l-3.1-3.3z" fill="#ffffff" stroke="#d8604b" stroke-width="0.75"/>
<path d="M87.5 177.1l3.1 3.3l-3.1 3.3l-3.1-3.3z" fill="#ffffff" stroke="#d8604b" stroke-width="0.75"/>
<path d="M93.9 178.3l3.1 3.3l-3.1 3.3l-3.1-3.3z" fill="#ffffff" stroke="#d8604b" stroke-width="0.75"/>
<path d="M100.3 178.4l3.1 3.3l-3.1 3.3l-3.1-3.3z" fill="#ffffff" stroke="#d8604b" stroke-width="0.75"/>
<path d="M106.8 178.8l3.1 3.3l-3.1 3.3l-3.1-3.3z" fill="#ffffff" stroke="#d8604b" stroke-width="0.75"/>
<path d="M113.2 178.6l3.1 3.3l-3.1 3.3l-3.1-3.3z" fill="#ffffff" stroke="#d8604b" stroke-width="0.75"/>
<path d="M119.6 178.5l3.1 3.3l-3.1 3.3l-3.1-3.3z" fill="#ffffff" stroke="#d8604b" stroke-width="0.75"/>
<path d="M126.0 177.9l3.1 3.3l-3.1 3.3l-3.1-3.3z" fill="#ffffff" stroke="#d8604b" stroke-width="0.75"/>
<path d="M132.4 178.2l3.1 3.3l-3.1 3.3l-3.1-3.3z" fill="#ffffff" stroke="#d8604b" stroke-width="0.75"/>
<path d="M138.9 179.1l3.1 3.3l-3.1 3.3l-3.1-3.3z" fill="#ffffff" stroke="#d8604b" stroke-width="0.75"/>
<path d="M145.3 179.3l3.1 3.3l-3.1 3.3l-3.1-3.3z" fill="#ffffff" stroke="#d8604b" stroke-width="0.75"/>
<path d="M151.7 179.2l3.1 3.3l-3.1 3.3l-3.1-3.3z" fill="#ffffff" stroke="#d8604b" stroke-width="0.75"/>
<path d="M158.1 179.0l3.1 3.3l-3.1 3.3l-3.1-3.3z" fill="#ffffff" stroke="#d8604b" stroke-width="0.75"/>
<path d="M164.6 178.7l3.1 3.3l-3.1 3.3l-3.1-3.3z" fill="#ffffff" stroke="#d8604b" stroke-width="0.75"/>
<path d="M171.0 178.7l3.1 3.3l-3.1 3.3l-3.1-3.3z" fill="#ffffff" stroke="#d8604b" stroke-width="0.75"/>
<path d="M177.4 178.9l3.1 3.3l-3.1 3.3l-3.1-3.3z" fill="#ffffff" stroke="#d8604b" stroke-width="0.75"/>
<path d="M183.8 179.0l3.1 3.3l-3.1 3.3l-3.1-3.3z" fill="#ffffff" stroke="#d8604b" stroke-width="0.75"/>
<path d="M190.3 179.5l3.1 3.3l-3.1 3.3l-3.1-3.3z" fill="#ffffff" stroke="#d8604b" stroke-width="0.75"/>
<path d="M196.7 179.0l3.1 3.3l-3.1 3.3l-3.1-3.3z" fill="#ffffff" stroke="#d8604b" stroke-width="0.75"/>
<path d="M203.1 178.8l3.1 3.3l-3.1 3.3l-3.1-3.3z" fill="#ffffff" stroke="#d8604b" stroke-width="0.75"/>
<path d="M209.5 178.1l3.1 3.3l-3.1 3.3l-3.1-3.3z" fill="#ffffff" stroke="#d8604b" stroke-width="0.75"/>
<path d="M216.0 206.8l3.1 3.3l-3.1 3.3l-3.1-3.3z" fill="#ffffff" stroke="#d8604b" stroke-width="0.75"/>
<path d="M222.4 234.6l3.1 3.3l-3.1 3.3l-3.1-3.3z" fill="#ffffff" stroke="#d8604b" stroke-width="0.75"/>
<path d="M228.8 236.4l3.1 3.3l-3.1 3.3l-3.1-3.3z" fill="#ffffff" stroke="#d8604b" stroke-width="0.75"/>
<path d="M235.2 237.9l3.1 3.3l-3.1 3.3l-3.1-3.3z" fill="#ffffff" stroke="#d8604b" stroke-width="0.75"/>
<path d="M241.7 240.8l3.1 3.3l-3.1 3.3l-3.1-3.3z" fill="#ffffff" stroke="#d8604b" stroke-width="0.75"/>
<path d="M248.1 245.8l3.1 3.3l-3.1 3.3l-3.1-3.3z" fill="#ffffff" stroke="#d8604b" stroke-width="0.75"/>
<path d="M254.5 251.3l3.1 3.3l-3.1 3.3l-3.1-3.3z" fill="#ffffff" stroke="#d8604b" stroke-width="0.75"/>
<path d="M260.9 256.0l3.1 3.3l-3.1 3.3l-3.1-3.3z" fill="#ffffff" stroke="#d8604b" stroke-width="0.75"/>
<path d="M267.4 259.5l3.1 3.3l-3.1 3.3l-3.1-3.3z" fill="#ffffff" stroke="#d8604b" stroke-width="0.75"/>
<path d="M273.8 257.0l3.1 3.3l-3.1 3.3l-3.1-3.3z" fill="#ffffff" stroke="#d8604b" stroke-width="0.75"/>
<path d="M280.2 257.8l3.1 3.3l-3.1 3.3l-3.1-3.3z" fill="#ffffff" stroke="#d8604b" stroke-width="0.75"/>
<path d="M286.6 256.7l3.1 3.3l-3.1 3.3l-3.1-3.3z" fill="#ffffff" stroke="#d8604b" stroke-width="0.75"/>
<path d="M293.0 258.3l3.1 3.3l-3.1 3.3l-3.1-3.3z" fill="#ffffff" stroke="#d8604b" stroke-width="0.75"/>
<path d="M299.5 261.4l3.1 3.3l-3.1 3.3l-3.1-3.3z" fill="#ffffff" stroke="#d8604b" stroke-width="0.75"/>
<path d="M305.9 261.4l3.1 3.3l-3.1 3.3l-3.1-3.3z" fill="#ffffff" stroke="#d8604b" stroke-width="0.75"/>
<path d="M312.3 264.2l3.1 3.3l-3.1 3.3l-3.1-3.3z" fill="#ffffff" stroke="#d8604b" stroke-width="0.75"/>
<path d="M318.7 260.1l3.1 3.3l-3.1 3.3l-3.1-3.3z" fill="#ffffff" stroke="#d8604b" stroke-width="0.75"/>
<path d="M325.2 258.7l3.1 3.3l-3.1 3.3l-3.1-3.3z" fill="#ffffff" stroke="#d8604b" stroke-width="0.75"/>
<path d="M331.6 257.5l3.1 3.3l-3.1 3.3l-3.1-3.3z" fill="#ffffff" stroke="#d8604b" stroke-width="0.75"/>
<path d="M338.0 259.4l3.1 3.3l-3.1 3.3l-3.1-3.3z" fill="#ffffff" stroke="#d8604b" stroke-width="0.75"/>
<path d="M344.4 260.6l3.1 3.3l-3.1 3.3l-3.1-3.3z" fill="#ffffff" stroke="#d8604b" stroke-width="0.75"/>
<polyline points="66.6,264.6 66.8,264.6 67.0,264.5 67.2,264.5 67.4,264.5 67.6,264.5 67.8,264.5 68.0,264.5 68.2,264.5 68.4,264.5 68.6,264.5 68.8,264.5 69.0,264.5 69.2,264.5 69.4,264.5 69.6,264.5 69.8,264.5 70.0,264.5 70.2,264.5 70.4,264.4 70.6,264.4 70.8,264.4 71.0,264.4 71.2,264.4 71.4,264.4 71.6,264.4 71.8,264.4 72.0,264.4 72.2,264.4 72.4,264.4 72.6,264.4 72.8,264.4 73.0,264.4 73.2,264.4 73.4,264.4 73.6,264.4 73.8,264.3 74.0,264.3 74.2,264.3 74.4,264.3 74.6,264.3 74.8,264.3 75.0,264.3 75.2,264.3 75.4,264.3 75.6,264.3 75.8,264.3 76.0,264.3 76.2,264.3 76.4,264.3 76.6,264.3 76.8,264.3 77.0,264.3 77.2,264.3 77.4,264.2 77.6,264.2 77.8,264.2 78.0,264.2 78.2,264.2 78.4,264.2 78.6,264.2 78.8,264.2 79.0,264.2 79.2,264.2 79.4,264.2 79.6,264.2 79.8,264.2 80.1,264.2 80.3,264.2 80.5,264.2 80.7,264.2 80.9,264.1 81.1,264.1 81.3,264.1 81.5,264.1 81.7,264.1 81.9,264.1 82.1,264.1 82.3,264.1 82.5,264.1 82.7,264.1 82.9,264.1 83.1,264.1 83.3,264.1 83.5,264.1 83.7,264.1 83.9,264.1 84.1,264.1 84.3,264.0 84.5,264.0 84.7,264.0 84.9,264.0 85.1,264.0 85.3,264.0 85.5,264.0 85.7,264.0 85.9,264.0 86.1,264.0 86.3,264.0 86.5,264.0 86.7,264.0 86.9,264.0 87.1,264.0 87.3,263.9 87.5,263.9 87.7,263.9 87.9,263.9 88.1,263.9 88.3,263.9 88.5,263.9 88.7,263.9 88.9,263.8 89.1,263.8 89.3,263.8 89.5,263.8 89.7,263.8 89.9,263.8 90.1,263.8 90.3,263.8 90.5,263.7 90.7,263.7 90.9,263.7 91.1,263.7 91.3,263.7 91.5,263.7 91.7,263.7 91.9,263.6 92.1,263.6 92.3,263.6 92.5,263.6 92.7,263.6 92.9,263.6 93.1,263.6 93.3,263.6 93.5,263.5 93.7,263.5 93.9,263.5 94.1,263.5 94.3,263.5 94.5,263.5 94.7,263.5 94.9,263.5 95.1,263.4 95.3,263.4 95.5,263.4 95.7,263.4 95.9,263.4 96.1,263.4 96.3,263.4 96.5,263.4 96.7,263.3 96.9,263.3 97.1,263.3 97.3,263.3 97.5,263.3 97.7,263.3 97.9,263.3 98.1,263.3 98.3,263.2 98.5,263.2 98.7,263.2 98.9,263.2 99.1,263.2 99.3,263.2 99.5,263.2 99.7,263.2 99.9,263.1 100.1,263.1 100.3,263.1 100.5,263.1 100.7,263.1 100.9,263.1 101.1,263.1 101.3,263.1 101.5,263.0 101.7,263.0 101.9,263.0 102.1,263.0 102.3,263.0 102.5,263.0 102.7,263.0 102.9,262.9 103.1,262.9 103.3,262.9 103.5,262.9 103.7,262.9 103.9,262.9 104.1,262.9 104.3,262.9 104.5,262.8 104.7,262.8 104.9,262.8 105.1,262.8 105.3,262.8 105.5,262.8 105.7,262.8 105.9,262.8 106.1,262.7 106.3,262.7 106.5,262.7 106.8,262.7 107.0,262.7 107.2,262.7 107.4,262.6 107.6,262.6 107.8,262.6 108.0,262.5 108.2,262.5 108.4,262.5 108.6,262.4 108.8,262.4 109.0,262.4 109.2,262.4 109.4,262.3 109.6,262.3 109.8,262.3 110.0,262.2 110.2,262.2 110.4,262.2 110.6,262.2 110.8,262.1 111.0,262.1 111.2,262.1 111.4,262.0 111.6,262.0 111.8,262.0 112.0,262.0 112.2,261.9 112.4,261.9 112.6,261.9 112.8,261.8 113.0,261.8 113.2,261.8 113.4,261.8 113.6,261.7 113.8,261.7 114.0,261.7 114.2,261.6 114.4,261.6 114.6,261.6 114.8,261.6 115.0,261.5 115.2,261.5 115.4,261.5 115.6,261.4 115.8,261.4 116.0,261.4 116.2,261.3 116.4,261.3 116.6,261.3 116.8,261.3 117.0,261.2 117.2,261.2 117.4,261.2 117.6,261.1 117.8,261.1 118.0,261.1 118.2,261.1 118.4,261.0 118.6,261.0 118.8,261.0 119.0,260.9 119.2,260.9 119.4,260.9 119.6,260.9 119.8,260.8 120.0,260.8 120.2,260.8 120.4,260.7 120.6,260.7 120.8,260.7 121.0,260.7 121.2,260.6 121.4,260.6 121.6,260.6 121.8,260.5 122.0,260.5 122.2,260.5 122.4,260.5 122.6,260.4 122.8,260.4 123.0,260.4 123.2,260.3 123.4,260.3 123.6,260.3 123.8,260.3 124.0,260.2 124.2,260.2 124.4,260.2 124.6,260.1 124.8,260.1 125.0,260.1 125.2,260.0 125.4,260.0 125.6,260.0 125.8,260.0 126.0,259.9 126.2,259.9 126.4,259.9 126.6,259.8 126.8,259.8 127.0,259.8 127.2,259.7 127.4,259.7 127.6,259.6 127.8,259.6 128.0,259.5 128.2,259.5 128.4,259.4 128.6,259.4 128.8,259.3 129.0,259.3 129.2,259.2 129.4,259.2 129.6,259.1 129.8,259.1 130.0,259.0 130.2,259.0 130.4,258.9 130.6,258.9 130.8,258.8 131.0,258.8 131.2,258.7 131.4,258.7 131.6,258.6 131.8,258.6 132.0,258.5 132.2,258.5 132.4,258.4 132.6,258.4 132.8,258.3 133.0,258.3 133.2,258.2 133.4,258.2 133.7,258.1 133.9,258.1 134.1,258.0 134.3,258.0 134.5,258.0 134.7,257.9 134.9,257.9 135.1,257.8 135.3,257.8 135.5,257.7 135.7,257.7 135.9,257.6 136.1,257.6 136.3,257.5 136.5,257.5 136.7,257.4 136.9,257.4 137.1,257.3 137.3,257.3 137.5,257.2 137.7,257.2 137.9,257.1 138.1,257.1 138.3,257.0 138.5,257.0 138.7,256.9 138.9,256.9 139.1,256.8 139.3,256.8 139.5,256.7 139.7,256.7 139.9,256.6 140.1,256.6 140.3,256.5 140.5,256.5 140.7,256.4 140.9,256.4 141.1,256.3 141.3,256.3 141.5,256.2 141.7,256.2 141.9,256.1 142.1,256.1 142.3,256.0 142.5,256.0 142.7,255.9 142.9,255.9 143.1,255.8 143.3,255.8 143.5,255.7 143.7,255.7 143.9,255.6 144.1,255.6 144.3,255.5 144.5,255.5 144.7,255.4 144.9,255.4 145.1,255.3 145.3,255.3 145.5,255.2 145.7,255.2 145.9,255.2 146.1,255.1 146.3,255.1 146.5,255.0 146.7,255.0 146.9,254.9 147.1,254.8 147.3,254.8 147.5,254.7 147.7,254.6 147.9,254.6 148.1,254.5 148.3,254.4 148.5,254.4 148.7,254.3 148.9,254.2 149.1,254.2 149.3,254.1 149.5,254.0 149.7,254.0 149.9,253.9 150.1,253.8 150.3,253.8 150.5,253.7 150.7,253.6 150.9,253.6 151.1,253.5 151.3,253.4 151.5,253.4 151.7,253.3 151.9,253.2 152.1,253.2 152.3,253.1 152.5,253.0 152.7,253.0 152.9,252.9 153.1,252.8 153.3,252.8 153.5,252.7 153.7,252.6 153.9,252.6 154.1,252.5 154.3,252.4 154.5,252.4 154.7,252.3 154.9,252.2 155.1,252.2 155.3,252.1 155.5,252.0 155.7,252.0 155.9,251.9 156.1,251.8 156.3,251.8 156.5,251.7 156.7,251.6 156.9,251.6 157.1,251.5 157.3,251.4 157.5,251.4 157.7,251.3 157.9,251.2 158.1,251.2 158.3,251.1 158.5,251.0 158.7,251.0 158.9,250.9 159.1,250.8 159.3,250.8 159.5,250.7 159.7,250.6 159.9,250.6 160.1,250.5 160.4,250.4 160.6,250.4 160.8,250.3 161.0,250.2 161.2,250.2 161.4,250.1 161.6,250.0 161.8,250.0 162.0,249.9 162.2,249.8 162.4,249.8 162.6,249.7 162.8,249.6 163.0,249.6 163.2,249.5 163.4,249.4 163.6,249.4 163.8,249.3 164.0,249.2 164.2,249.2 164.4,249.1 164.6,249.0 164.8,249.0 165.0,248.9 165.2,248.8 165.4,248.8 165.6,248.7 165.8,248.6 166.0,248.5 166.2,248.5 166.4,248.4 166.6,248.3 166.8,248.3 167.0,248.2 167.2,248.1 167.4,248.1 167.6,248.0 167.8,247.9 168.0,247.9 168.2,247.8 168.4,247.7 168.6,247.7 168.8,247.6 169.0,247.5 169.2,247.4 169.4,247.3 169.6,247.2 169.8,247.1 170.0,247.0 170.2,246.9 170.4,246.8 170.6,246.7 170.8,246.6 171.0,246.5 171.2,246.4 171.4,246.3 171.6,246.2 171.8,246.1 172.0,246.0 172.2,245.9 172.4,245.8 172.6,245.7 172.8,245.6 173.0,245.5 173.2,245.4 173.4,245.3 173.6,245.2 173.8,245.1 174.0,245.1 174.2,245.0 174.4,244.9 174.6,244.8 174.8,244.7 175.0,244.6 175.2,244.5 175.4,244.4 175.6,244.3 175.8,244.2 176.0,244.1 176.2,244.0 176.4,243.9 176.6,243.8 176.8,243.7 177.0,243.6 177.2,243.5 177.4,243.4 177.6,243.3 177.8,243.2 178.0,243.1 178.2,243.0 178.4,242.9 178.6,242.8 178.8,242.7 179.0,242.6 179.2,242.5 179.4,242.4 179.6,242.3 179.8,242.2 180.0,242.1 180.2,242.0 180.4,241.9 180.6,241.8 180.8,241.7 181.0,241.6 181.2,241.5 181.4,241.4 181.6,241.4 181.8,241.3 182.0,241.2 182.2,241.1 182.4,241.0 182.6,240.9 182.8,240.8 183.0,240.7 183.2,240.6 183.4,240.5 183.6,240.4 183.8,240.3 184.0,240.2 184.2,240.1 184.4,240.0 184.6,239.9 184.8,239.8 185.0,239.7 185.2,239.6 185.4,239.5 185.6,239.4 185.8,239.3 186.0,239.2 186.2,239.1 186.4,239.0 186.6,238.9 186.8,238.8 187.1,238.7 187.3,238.6 187.5,238.4 187.7,238.3 187.9,238.1 188.1,238.0 188.3,237.9 188.5,237.7 188.7,237.6 188.9,237.4 189.1,237.3 189.3,237.1 189.5,237.0 189.7,236.8 189.9,236.7 190.1,236.6 190.3,236.4 190.5,236.3 190.7,236.1 190.9,236.0 191.1,235.8 191.3,235.7 191.5,235.5 191.7,235.4 191.9,235.3 192.1,235.1 192.3,235.0 192.5,234.8 192.7,234.7 192.9,234.5 193.1,234.4 193.3,234.2 193.5,234.1 193.7,234.0 193.9,233.8 194.1,233.7 194.3,233.5 194.5,233.4 194.7,233.2 194.9,233.1 195.1,232.9 195.3,232.8 195.5,232.7 195.7,232.5 195.9,232.4 196.1,232.2 196.3,232.1 196.5,231.9 196.7,231.8 196.9,231.6 197.1,231.5 197.3,231.4 197.5,231.2 197.7,231.1 197.9,230.9 198.1,230.8 198.3,230.6 198.5,230.5 198.7,230.3 198.9,230.2 199.1,230.1 199.3,229.6 199.5,229.2 199.7,228.7 199.9,228.3 200.1,227.8 200.3,227.4 200.5,227.0 200.7,226.5 200.9,226.1 201.1,225.6 201.3,225.2 201.5,224.8 201.7,224.3 201.9,223.9 202.1,223.4 202.3,223.0 202.5,222.5 202.7,222.1 202.9,221.7 203.1,221.2 203.3,220.8 203.5,220.3 203.7,219.9 203.9,219.5 204.1,219.0 204.3,218.6 204.5,218.1 204.7,217.7 204.9,217.2 205.1,216.8 205.3,216.4 205.5,215.9 205.7,215.5 205.9,215.0 206.1,214.6 206.3,214.2 206.5,213.5 206.7,212.8 206.9,212.1 207.1,211.4 207.3,210.7 207.5,210.0 207.7,209.3 207.9,208.6 208.1,207.9 208.3,207.2 208.5,206.5 208.7,205.8 208.9,205.1 209.1,204.4 209.3,203.8 209.5,203.1 209.7,202.4 209.9,201.7 210.1,201.0 210.3,200.3 210.5,197.6 210.7,194.9 210.9,192.1 211.1,189.4 211.3,186.7 211.5,184.0 211.7,181.3 211.9,178.6 212.1,175.8 212.3,173.1 212.5,171.2 212.7,169.3 212.9,167.3 213.1,178.7 213.3,190.1 213.5,201.4 213.7,216.6 214.0,231.8 214.2,247.0 214.4,262.1 214.6,262.3 214.8,262.5 215.0,262.7 215.2,262.9 215.4,263.1 215.6,263.3 215.8,263.4 216.0,263.6 216.2,263.8 216.4,264.0 216.6,264.2 216.8,264.4 217.0,264.6 217.2,264.8 217.4,264.9 217.6,265.1 217.8,265.3 218.0,265.5 218.2,265.7 218.4,265.9 218.6,265.8 218.8,265.8 219.0,265.7 219.2,265.6 219.4,265.5 219.6,265.5 219.8,265.4 220.0,265.3 220.2,265.3 220.4,265.2 220.6,265.1 220.8,265.1 221.0,265.0 221.2,264.9 221.4,264.9 221.6,264.8 221.8,264.7 222.0,264.7 222.2,264.6 222.4,264.5 222.6,264.5 222.8,264.4 223.0,264.3 223.2,264.3 223.4,264.2 223.6,264.1 223.8,264.1 224.0,264.0 224.2,263.9 224.4,263.9 224.6,263.5 224.8,263.1 225.0,262.7 225.2,262.3 225.4,261.9 225.6,261.5 225.8,261.1 226.0,260.7 226.2,260.3 226.4,259.9 226.6,259.5 226.8,259.1 227.0,258.7 227.2,258.3 227.4,257.9 227.6,257.5 227.8,257.1 228.0,256.7 228.2,256.3 228.4,255.9 228.6,255.5 228.8,255.1 229.0,254.7 229.2,254.3 229.4,253.9 229.6,253.5 229.8,253.0 230.0,252.5 230.2,252.1 230.4,251.6 230.6,251.1 230.8,250.6 231.0,250.2 231.2,249.7 231.4,249.2 231.6,248.8 231.8,248.3 232.0,247.8 232.2,247.4 232.4,246.9 232.6,246.4 232.8,245.9 233.0,245.8 233.2,245.7 233.4,245.5 233.6,245.4 233.8,245.2 234.0,245.1 234.2,244.9 234.4,244.8 234.6,244.6 234.8,244.5 235.0,244.4 235.2,244.2 235.4,244.1 235.6,243.9 235.8,243.8 236.0,243.6 236.2,243.5 236.4,243.3 236.6,243.2 236.8,243.1 237.0,242.9 237.2,242.8 237.4,242.6 237.6,242.5 237.8,242.3 238.0,242.2 238.2,242.0 238.4,241.9 238.6,241.9 238.8,242.0 239.0,242.0 239.2,242.0 239.4,242.0 239.6,242.1 239.8,242.1 240.0,242.1 240.2,242.2 240.4,242.2 240.7,242.4 240.9,242.6 241.1,242.9 241.3,243.1 241.5,243.3 241.7,243.6 241.9,243.8 242.1,244.0 242.3,244.2 242.5,244.5 242.7,244.7 242.9,244.9 243.1,245.2 243.3,245.4 243.5,245.6 243.7,245.8 243.9,246.1 244.1,246.3 244.3,246.5 244.5,246.8 244.7,247.0 244.9,247.2 245.1,247.5 245.3,247.7 245.5,247.9 245.7,248.1 245.9,248.3 246.1,248.5 246.3,248.6 246.5,248.8 246.7,249.0 246.9,249.2 247.1,249.4 247.3,249.6 247.5,249.8 247.7,250.0 247.9,250.2 248.1,250.4 248.3,250.6 248.5,250.8 248.7,251.0 248.9,251.1 249.1,251.3 249.3,251.5 249.5,251.7 249.7,251.9 249.9,252.1 250.1,252.3 250.3,252.5 250.5,252.7 250.7,252.9 250.9,253.1 251.1,253.3 251.3,253.5 251.5,253.7 251.7,253.9 251.9,254.2 252.1,254.4 252.3,254.6 252.5,254.8 252.7,255.1 252.9,255.3 253.1,255.5 253.3,255.8 253.5,256.0 253.7,256.2 253.9,256.5 254.1,256.7 254.3,256.9 254.5,257.2 254.7,257.4 254.9,257.6 255.1,257.9 255.3,258.1 255.5,258.3 255.7,258.5 255.9,258.8 256.1,259.0 256.3,259.2 256.5,259.5 256.7,259.7 256.9,259.9 257.1,260.2 257.3,260.4 257.5,260.6 257.7,260.9 257.9,261.1 258.1,261.3 258.3,261.6 258.5,261.8 258.7,262.0 258.9,262.2 259.1,262.5 259.3,262.7 259.5,262.9 259.7,263.2 259.9,263.4 260.1,263.6 260.3,263.9 260.5,264.1 260.7,264.3 260.9,264.6 261.1,264.8 261.3,265.0 261.5,265.1 261.7,265.2 261.9,265.3 262.1,265.4 262.3,265.5 262.5,265.5 262.7,265.6 262.9,265.7 263.1,265.8 263.3,265.9 263.5,266.0 263.7,266.1 263.9,266.1 264.1,266.2 264.3,266.3 264.5,266.4 264.7,266.5 264.9,266.6 265.1,266.7 265.3,266.8 265.5,266.7 265.7,266.7 265.9,266.7 266.1,266.7 266.3,266.7 266.5,266.7 266.7,266.7 266.9,266.7 267.1,266.6 267.4,266.6 267.6,266.6 267.8,266.6 268.0,266.6 268.2,266.6 268.4,266.6 268.6,266.6 268.8,266.6 269.0,266.5 269.2,266.5 269.4,266.5 269.6,266.5 269.8,266.5 270.0,266.5 270.2,266.5 270.4,266.5 270.6,266.5 270.8,266.4 271.0,266.4 271.2,266.4 271.4,266.4 271.6,266.4 271.8,266.4 272.0,266.4 272.2,266.4 272.4,266.3 272.6,266.3 272.8,266.3 273.0,266.3 273.2,266.3 273.4,266.3 273.6,266.3 273.8,266.3 274.0,266.3 274.2,266.2 274.4,266.2 274.6,266.2 274.8,266.2 275.0,266.2 275.2,266.2 275.4,266.2 275.6,266.2 275.8,266.2 276.0,266.2 276.2,266.2 276.4,266.2 276.6,266.2 276.8,266.2 277.0,266.2 277.2,266.2 277.4,266.2 277.6,266.2 277.8,266.2 278.0,266.2 278.2,266.2 278.4,266.2 278.6,266.2 278.8,266.2 279.0,266.2 279.2,266.2 279.4,266.2 279.6,266.3 279.8,266.3 280.0,266.3 280.2,266.3 280.4,266.3 280.6,266.3 280.8,266.3 281.0,266.3 281.2,266.3 281.4,266.3 281.6,266.3 281.8,266.3 282.0,266.3 282.2,266.3 282.4,266.3 282.6,266.3 282.8,266.3 283.0,266.3 283.2,266.3 283.4,266.3 283.6,266.3 283.8,266.3 284.0,266.3 284.2,266.3 284.4,266.3 284.6,266.3 284.8,266.3 285.0,266.3 285.2,266.4 285.4,266.4 285.6,266.4 285.8,266.4 286.0,266.4 286.2,266.4 286.4,266.4 286.6,266.4 286.8,266.4 287.0,266.4 287.2,266.4 287.4,266.4 287.6,266.4 287.8,266.4 288.0,266.4 288.2,266.4 288.4,266.4 288.6,266.4 288.8,266.4 289.0,266.4 289.2,266.4 289.4,266.4 289.6,266.4 289.8,266.4 290.0,266.4 290.2,266.4 290.4,266.4 290.6,266.5 290.8,266.5 291.0,266.5 291.2,266.5 291.4,266.5 291.6,266.5 291.8,266.5 292.0,266.5 292.2,266.5 292.4,266.5 292.6,266.5 292.8,266.5 293.0,266.5 293.2,266.5 293.4,266.5 293.6,266.5 293.8,266.5 294.0,266.5 294.3,266.5 294.5,266.5 294.7,266.5 294.9,266.5 295.1,266.5 295.3,266.5 295.5,266.5 295.7,266.5 295.9,266.5 296.1,266.5 296.3,266.6 296.5,266.6 296.7,266.6 296.9,266.6 297.1,266.6 297.3,266.6 297.5,266.6 297.7,266.6 297.9,266.6 298.1,266.6 298.3,266.6 298.5,266.6 298.7,266.6 298.9,266.6 299.1,266.6 299.3,266.6 299.5,266.6 299.7,266.6 299.9,266.6 300.1,266.6 300.3,266.6 300.5,266.6 300.7,266.6 300.9,266.6 301.1,266.6 301.3,266.6 301.5,266.6 301.7,266.6 301.9,266.7 302.1,266.7 302.3,266.7 302.5,266.7 302.7,266.7 302.9,266.7 303.1,266.7 303.3,266.7 303.5,266.7 303.7,266.7 303.9,266.7 304.1,266.7 304.3,266.7 304.5,266.7 304.7,266.7 304.9,266.7 305.1,266.7 305.3,266.7 305.5,266.7 305.7,266.7 305.9,266.7 306.1,266.7 306.3,266.7 306.5,266.7 306.7,266.7 306.9,266.7 307.1,266.7 307.3,266.8 307.5,266.8 307.7,266.8 307.9,266.7 308.1,266.7 308.3,266.7 308.5,266.7 308.7,266.7 308.9,266.7 309.1,266.7 309.3,266.7 309.5,266.7 309.7,266.7 309.9,266.7 310.1,266.7 310.3,266.7 310.5,266.7 310.7,266.7 310.9,266.7 311.1,266.7 311.3,266.7 311.5,266.7 311.7,266.7 311.9,266.7 312.1,266.7 312.3,266.7 312.5,266.7 312.7,266.7 312.9,266.7 313.1,266.7 313.3,266.7 313.5,266.7 313.7,266.7 313.9,266.7 314.1,266.7 314.3,266.7 314.5,266.7 314.7,266.6 314.9,266.6 315.1,266.6 315.3,266.6 315.5,266.6 315.7,266.6 315.9,266.6 316.1,266.6 316.3,266.6 316.5,266.6 316.7,266.6 316.9,266.6 317.1,266.6 317.3,266.6 317.5,266.6 317.7,266.6 317.9,266.6 318.1,266.6 318.3,266.6 318.5,266.6 318.7,266.6 318.9,266.6 319.1,266.6 319.3,266.6 319.5,266.6 319.7,266.6 319.9,266.6 320.1,266.6 320.3,266.6 320.5,266.6 320.7,266.6 321.0,266.6 321.2,266.6 321.4,266.6 321.6,266.6 321.8,266.5 322.0,266.5 322.2,266.5 322.4,266.5 322.6,266.5 322.8,266.5 323.0,266.5 323.2,266.5 323.4,266.5 323.6,266.5 323.8,266.5 324.0,266.5 324.2,266.5 324.4,266.5 324.6,266.5 324.8,266.5 325.0,266.5 325.2,266.5 325.4,266.5 325.6,266.5 325.8,266.5 326.0,266.5 326.2,266.5 326.4,266.5 326.6,266.5 326.8,266.5 327.0,266.5 327.2,266.5 327.4,266.5 327.6,266.5 327.8,266.5 328.0,266.5 328.2,266.5 328.4,266.5 328.6,266.5 328.8,266.4 329.0,266.4 329.2,266.4 329.4,266.4 329.6,266.4 329.8,266.4 330.0,266.4 330.2,266.4 330.4,266.4 330.6,266.4 330.8,266.4 331.0,266.4 331.2,266.4 331.4,266.4 331.6,266.4 331.8,266.4 332.0,266.4 332.2,266.4 332.4,266.4 332.6,266.4 332.8,266.4 333.0,266.4 333.2,266.4 333.4,266.4 333.6,266.4 333.8,266.4 334.0,266.4 334.2,266.4 334.4,266.4 334.6,266.4 334.8,266.4 335.0,266.4 335.2,266.4 335.4,266.4 335.6,266.3 335.8,266.3 336.0,266.3 336.2,266.3 336.4,266.3 336.6,266.3 336.8,266.3 337.0,266.3 337.2,266.3 337.4,266.3 337.6,266.3 337.8,266.3 338.0,266.3 338.2,266.3 338.4,266.3 338.6,266.3 338.8,266.3 339.0,266.3 339.2,266.3 339.4,266.3 339.6,266.3 339.8,266.3 340.0,266.3 340.2,266.3 340.4,266.3 340.6,266.3 340.8,266.3 341.0,266.3 341.2,266.3 341.4,266.3 341.6,266.3 341.8,266.3 342.0,266.3 342.2,266.3 342.4,266.3 342.6,266.2 342.8,266.2 343.0,266.2 343.2,266.2 343.4,266.2 343.6,266.2 343.8,266.2 344.0,266.2 344.2,266.2 344.4,266.2 344.6,266.2 344.8,266.2 345.0,266.2 345.2,266.2 345.4,266.2 345.6,266.2 345.8,266.2 346.0,266.2 346.2,266.2 346.4,266.2 346.6,266.2 346.8,266.2 347.0,266.2 347.2,266.2 347.4,266.2 347.6,266.2" fill="none" stroke="#e8a562" stroke-width="2.5" stroke-linejoin="round"/>
<circle cx="66.6" cy="264.6" r="2.9" fill="#e8a562"/><circle cx="66.0" cy="263.9" r="1.15" fill="#fbe6cc"/>
<circle cx="73.9" cy="264.3" r="2.9" fill="#e8a562"/><circle cx="73.4" cy="263.7" r="1.15" fill="#fbe6cc"/>
<circle cx="81.2" cy="264.1" r="2.9" fill="#e8a562"/><circle cx="80.7" cy="263.5" r="1.15" fill="#fbe6cc"/>
<circle cx="88.5" cy="263.9" r="2.9" fill="#e8a562"/><circle cx="88.0" cy="263.2" r="1.15" fill="#fbe6cc"/>
<circle cx="95.8" cy="263.4" r="2.9" fill="#e8a562"/><circle cx="95.3" cy="262.7" r="1.15" fill="#fbe6cc"/>
<circle cx="103.1" cy="262.9" r="2.9" fill="#e8a562"/><circle cx="102.6" cy="262.3" r="1.15" fill="#fbe6cc"/>
<circle cx="110.4" cy="262.2" r="2.9" fill="#e8a562"/><circle cx="109.9" cy="261.5" r="1.15" fill="#fbe6cc"/>
<circle cx="117.8" cy="261.1" r="2.9" fill="#e8a562"/><circle cx="117.2" cy="260.5" r="1.15" fill="#fbe6cc"/>
<circle cx="125.1" cy="260.1" r="2.9" fill="#e8a562"/><circle cx="124.5" cy="259.4" r="1.15" fill="#fbe6cc"/>
<circle cx="132.4" cy="258.5" r="2.9" fill="#e8a562"/><circle cx="131.8" cy="257.8" r="1.15" fill="#fbe6cc"/>
<circle cx="139.7" cy="256.7" r="2.9" fill="#e8a562"/><circle cx="139.1" cy="256.0" r="1.15" fill="#fbe6cc"/>
<circle cx="147.0" cy="254.9" r="2.9" fill="#e8a562"/><circle cx="146.4" cy="254.2" r="1.15" fill="#fbe6cc"/>
<circle cx="154.3" cy="252.4" r="2.9" fill="#e8a562"/><circle cx="153.7" cy="251.8" r="1.15" fill="#fbe6cc"/>
<circle cx="161.6" cy="250.0" r="2.9" fill="#e8a562"/><circle cx="161.0" cy="249.4" r="1.15" fill="#fbe6cc"/>
<circle cx="168.9" cy="247.5" r="2.9" fill="#e8a562"/><circle cx="168.4" cy="246.9" r="1.15" fill="#fbe6cc"/>
<circle cx="176.2" cy="244.0" r="2.9" fill="#e8a562"/><circle cx="175.7" cy="243.3" r="1.15" fill="#fbe6cc"/>
<circle cx="183.5" cy="240.4" r="2.9" fill="#e8a562"/><circle cx="183.0" cy="239.8" r="1.15" fill="#fbe6cc"/>
<circle cx="190.8" cy="236.0" r="2.9" fill="#e8a562"/><circle cx="190.3" cy="235.4" r="1.15" fill="#fbe6cc"/>
<circle cx="198.1" cy="230.7" r="2.9" fill="#e8a562"/><circle cx="197.6" cy="230.1" r="1.15" fill="#fbe6cc"/>
<circle cx="205.4" cy="216.1" r="2.9" fill="#e8a562"/><circle cx="204.9" cy="215.4" r="1.15" fill="#fbe6cc"/>
<circle cx="208.7" cy="206.1" r="2.9" fill="#e8a562"/><circle cx="208.1" cy="205.5" r="1.15" fill="#fbe6cc"/>
<circle cx="211.9" cy="179.6" r="2.9" fill="#e8a562"/><circle cx="211.3" cy="179.0" r="1.15" fill="#fbe6cc"/>
<circle cx="215.1" cy="262.8" r="2.9" fill="#e8a562"/><circle cx="214.5" cy="262.2" r="1.15" fill="#fbe6cc"/>
<circle cx="220.9" cy="265.0" r="2.9" fill="#e8a562"/><circle cx="220.3" cy="264.4" r="1.15" fill="#fbe6cc"/>
<circle cx="226.7" cy="259.2" r="2.9" fill="#e8a562"/><circle cx="226.2" cy="258.6" r="1.15" fill="#fbe6cc"/>
<circle cx="232.5" cy="246.6" r="2.9" fill="#e8a562"/><circle cx="232.0" cy="246.0" r="1.15" fill="#fbe6cc"/>
<circle cx="238.4" cy="242.0" r="2.9" fill="#e8a562"/><circle cx="237.8" cy="241.3" r="1.15" fill="#fbe6cc"/>
<circle cx="244.2" cy="246.4" r="2.9" fill="#e8a562"/><circle cx="243.6" cy="245.8" r="1.15" fill="#fbe6cc"/>
<circle cx="250.0" cy="252.2" r="2.9" fill="#e8a562"/><circle cx="249.5" cy="251.6" r="1.15" fill="#fbe6cc"/>
<circle cx="255.8" cy="258.7" r="2.9" fill="#e8a562"/><circle cx="255.3" cy="258.0" r="1.15" fill="#fbe6cc"/>
<circle cx="261.6" cy="265.2" r="2.9" fill="#e8a562"/><circle cx="261.1" cy="264.5" r="1.15" fill="#fbe6cc"/>
<circle cx="267.5" cy="266.6" r="2.9" fill="#e8a562"/><circle cx="266.9" cy="266.0" r="1.15" fill="#fbe6cc"/>
<circle cx="273.3" cy="266.3" r="2.9" fill="#e8a562"/><circle cx="272.7" cy="265.6" r="1.15" fill="#fbe6cc"/>
<circle cx="279.1" cy="266.2" r="2.9" fill="#e8a562"/><circle cx="278.6" cy="265.6" r="1.15" fill="#fbe6cc"/>
<circle cx="284.9" cy="266.3" r="2.9" fill="#e8a562"/><circle cx="284.4" cy="265.7" r="1.15" fill="#fbe6cc"/>
<circle cx="290.8" cy="266.5" r="2.9" fill="#e8a562"/><circle cx="290.2" cy="265.8" r="1.15" fill="#fbe6cc"/>
<circle cx="296.6" cy="266.6" r="2.9" fill="#e8a562"/><circle cx="296.0" cy="265.9" r="1.15" fill="#fbe6cc"/>
<circle cx="302.4" cy="266.7" r="2.9" fill="#e8a562"/><circle cx="301.9" cy="266.0" r="1.15" fill="#fbe6cc"/>
<circle cx="308.2" cy="266.7" r="2.9" fill="#e8a562"/><circle cx="307.7" cy="266.1" r="1.15" fill="#fbe6cc"/>
<circle cx="314.0" cy="266.7" r="2.9" fill="#e8a562"/><circle cx="313.5" cy="266.0" r="1.15" fill="#fbe6cc"/>
<circle cx="319.9" cy="266.6" r="2.9" fill="#e8a562"/><circle cx="319.3" cy="265.9" r="1.15" fill="#fbe6cc"/>
<circle cx="325.7" cy="266.5" r="2.9" fill="#e8a562"/><circle cx="325.1" cy="265.8" r="1.15" fill="#fbe6cc"/>
<circle cx="331.5" cy="266.4" r="2.9" fill="#e8a562"/><circle cx="331.0" cy="265.8" r="1.15" fill="#fbe6cc"/>
<circle cx="337.3" cy="266.3" r="2.9" fill="#e8a562"/><circle cx="336.8" cy="265.7" r="1.15" fill="#fbe6cc"/>
<circle cx="343.2" cy="266.2" r="2.9" fill="#e8a562"/><circle cx="342.6" cy="265.6" r="1.15" fill="#fbe6cc"/>
<circle cx="212.9" cy="167.3" r="2.9" fill="#e8a562"/><circle cx="212.4" cy="166.7" r="1.15" fill="#fbe6cc"/>
<circle cx="213.5" cy="172.4" r="4.7" fill="none" stroke="#8e8e8e" stroke-width="1.7"/>
<circle cx="240.4" cy="242.6" r="4.7" fill="none" stroke="#8e8e8e" stroke-width="1.7"/>
<text x="228.2" y="181.5" font-size="12.4" font-weight="bold" fill="#e7a263" textLength="56.2" lengthAdjust="spacingAndGlyphs">1.79 MPa</text>
<text x="235.3" y="235" font-size="12.4" font-weight="bold" fill="#e7a263" textLength="56.5" lengthAdjust="spacingAndGlyphs">0.58 MPa</text>
<line x1="56.2" y1="195.6" x2="78.0" y2="195.6" stroke="#8cc5e0" stroke-width="2.5" stroke-dasharray="6.6 8.6 6.6"/>
<rect x="64.0" y="192.8" width="5.6" height="5.6" fill="#8cc5e0"/>
<line x1="56.2" y1="209.6" x2="78.0" y2="209.6" stroke="#3b80c0" stroke-width="2.5" stroke-dasharray="6.6 8.6 6.6"/>
<circle cx="66.8" cy="209.6" r="3.1" fill="#3b80c0"/>
<line x1="56.2" y1="223.4" x2="78.0" y2="223.4" stroke="#8797a1" stroke-width="2.9"/>
<path d="M66.8 219.3l3.2 5.4h-6.4z" fill="#8797a1"/>
<line x1="56.2" y1="234.6" x2="78.0" y2="234.6" stroke="#d8604b" stroke-width="2.3"/>
<path d="M66.8 230.9l3.6 3.7l-3.6 3.7l-3.6-3.7z" fill="#fff" stroke="#d8604b" stroke-width="0.8"/>
<line x1="56.2" y1="246.8" x2="78.0" y2="246.8" stroke="#e8a562" stroke-width="2.5" stroke-dasharray="6.6 8.6 6.6"/>
<circle cx="66.8" cy="246.8" r="3.1" fill="#e8a562"/><circle cx="66.1" cy="246.0" r="1.1" fill="#fcebd6"/>
<text x="81.3" y="198.8" font-size="10" fill="#222"><tspan font-style="italic">T</tspan><tspan font-size="6.7" dy="2.4">surface@TC</tspan></text>
<text x="81.3" y="212.8" font-size="10" fill="#222"><tspan font-style="italic">T</tspan><tspan font-size="6.7" dy="2.4">internal@FBG</tspan></text>
<text x="81.3" y="226.3" font-size="10" fill="#222">Voltage</text>
<text x="81.3" y="238.1" font-size="10" fill="#222">Mass</text>
<text x="81.3" y="250.1" font-size="10" fill="#222">P<tspan font-size="6.7" dy="2.4">internal@FPI</tspan></text>
<rect x="46.5" y="37.3" width="301.5" height="248.2" fill="none" stroke="#1a1a1a" stroke-width="1"/>
<line x1="46.5" y1="161.3" x2="348.0" y2="161.3" stroke="#1a1a1a" stroke-width="1"/>
<line x1="46.5" y1="151.0" x2="50.7" y2="151.0" stroke="#1a1a1a" stroke-width="1"/>
<text class="tk" x="41.6" y="154.3" text-anchor="end">0</text>
<line x1="46.5" y1="130.3" x2="50.7" y2="130.3" stroke="#1a1a1a" stroke-width="1"/>
<text class="tk" x="41.6" y="133.6" text-anchor="end">100</text>
<line x1="46.5" y1="109.6" x2="50.7" y2="109.6" stroke="#1a1a1a" stroke-width="1"/>
<text class="tk" x="41.6" y="112.9" text-anchor="end">200</text>
<line x1="46.5" y1="88.9" x2="50.7" y2="88.9" stroke="#1a1a1a" stroke-width="1"/>
<text class="tk" x="41.6" y="92.2" text-anchor="end">300</text>
<line x1="46.5" y1="68.2" x2="50.7" y2="68.2" stroke="#1a1a1a" stroke-width="1"/>
<text class="tk" x="41.6" y="71.5" text-anchor="end">400</text>
<line x1="46.5" y1="47.5" x2="50.7" y2="47.5" stroke="#1a1a1a" stroke-width="1"/>
<text class="tk" x="41.6" y="50.8" text-anchor="end">500</text>
<line x1="348.0" y1="149.7" x2="343.8" y2="149.7" stroke="#1a1a1a" stroke-width="1"/>
<text class="tk" x="352.6" y="153.0">0</text>
<line x1="348.0" y1="120.6" x2="343.8" y2="120.6" stroke="#1a1a1a" stroke-width="1"/>
<text class="tk" x="352.6" y="123.9">1</text>
<line x1="348.0" y1="91.5" x2="343.8" y2="91.5" stroke="#1a1a1a" stroke-width="1"/>
<text class="tk" x="352.6" y="94.8">2</text>
<line x1="348.0" y1="62.4" x2="343.8" y2="62.4" stroke="#1a1a1a" stroke-width="1"/>
<text class="tk" x="352.6" y="65.7">3</text>
<line x1="46.5" y1="175.4" x2="50.7" y2="175.4" stroke="#1a1a1a" stroke-width="1"/>
<text class="tk" x="41.6" y="178.7" text-anchor="end">0</text>
<line x1="46.5" y1="203.0" x2="50.7" y2="203.0" stroke="#1a1a1a" stroke-width="1"/>
<text class="tk" x="41.6" y="206.3" text-anchor="end">-2</text>
<line x1="46.5" y1="230.6" x2="50.7" y2="230.6" stroke="#1a1a1a" stroke-width="1"/>
<text class="tk" x="41.6" y="233.9" text-anchor="end">-4</text>
<line x1="46.5" y1="258.2" x2="50.7" y2="258.2" stroke="#1a1a1a" stroke-width="1"/>
<text class="tk" x="41.6" y="261.5" text-anchor="end">-6</text>
<line x1="46.5" y1="285.8" x2="50.7" y2="285.8" stroke="#1a1a1a" stroke-width="1"/>
<text class="tk" x="41.6" y="289.1" text-anchor="end">-8</text>
<line x1="348.0" y1="270.8" x2="343.8" y2="270.8" stroke="#1a1a1a" stroke-width="1"/>
<text class="tk" x="352.6" y="274.1">0.0</text>
<line x1="348.0" y1="241.9" x2="343.8" y2="241.9" stroke="#1a1a1a" stroke-width="1"/>
<text class="tk" x="352.6" y="245.2">0.5</text>
<line x1="348.0" y1="213.0" x2="343.8" y2="213.0" stroke="#1a1a1a" stroke-width="1"/>
<text class="tk" x="352.6" y="216.3">1.0</text>
<line x1="348.0" y1="184.1" x2="343.8" y2="184.1" stroke="#1a1a1a" stroke-width="1"/>
<text class="tk" x="352.6" y="187.4">1.5</text>
<line x1="66.6" y1="161.3" x2="66.6" y2="157.1" stroke="#1a1a1a" stroke-width="1"/>
<line x1="66.6" y1="285.5" x2="66.6" y2="281.3" stroke="#1a1a1a" stroke-width="1"/>
<text class="tk" x="66.6" y="297.9" text-anchor="middle">0</text>
<line x1="106.8" y1="161.3" x2="106.8" y2="157.1" stroke="#1a1a1a" stroke-width="1"/>
<line x1="106.8" y1="285.5" x2="106.8" y2="281.3" stroke="#1a1a1a" stroke-width="1"/>
<text class="tk" x="106.8" y="297.9" text-anchor="middle">100</text>
<line x1="146.9" y1="161.3" x2="146.9" y2="157.1" stroke="#1a1a1a" stroke-width="1"/>
<line x1="146.9" y1="285.5" x2="146.9" y2="281.3" stroke="#1a1a1a" stroke-width="1"/>
<text class="tk" x="146.9" y="297.9" text-anchor="middle">200</text>
<line x1="187.1" y1="161.3" x2="187.1" y2="157.1" stroke="#1a1a1a" stroke-width="1"/>
<line x1="187.1" y1="285.5" x2="187.1" y2="281.3" stroke="#1a1a1a" stroke-width="1"/>
<text class="tk" x="187.1" y="297.9" text-anchor="middle">300</text>
<line x1="227.2" y1="161.3" x2="227.2" y2="157.1" stroke="#1a1a1a" stroke-width="1"/>
<line x1="227.2" y1="285.5" x2="227.2" y2="281.3" stroke="#1a1a1a" stroke-width="1"/>
<text class="tk" x="227.2" y="297.9" text-anchor="middle">400</text>
<line x1="267.4" y1="161.3" x2="267.4" y2="157.1" stroke="#1a1a1a" stroke-width="1"/>
<line x1="267.4" y1="285.5" x2="267.4" y2="281.3" stroke="#1a1a1a" stroke-width="1"/>
<text class="tk" x="267.4" y="297.9" text-anchor="middle">500</text>
<line x1="307.5" y1="161.3" x2="307.5" y2="157.1" stroke="#1a1a1a" stroke-width="1"/>
<line x1="307.5" y1="285.5" x2="307.5" y2="281.3" stroke="#1a1a1a" stroke-width="1"/>
<text class="tk" x="307.5" y="297.9" text-anchor="middle">600</text>
<text class="tk" x="347.6" y="297.9" text-anchor="middle">700</text>
<text class="ax" transform="translate(19.6 98.5) rotate(-90)" text-anchor="middle">Temperature (ºC)</text>
<text class="ax" transform="translate(24.4 222.6) rotate(-90)" text-anchor="middle">Mass (g)</text>
<text class="ax" transform="translate(371.6 97.5) rotate(-90)" text-anchor="middle">Voltage (V)</text>
<text class="ax" style="font-size:10.9px" transform="translate(379.0 225.5) rotate(-90)" text-anchor="middle">Pressure (MPa)</text>
<text x="197.4" y="316.7" font-size="12.7" fill="#111" text-anchor="middle">Time (s)</text>
</g>
<defs>
<filter id="blur3" x="-50%" y="-50%" width="200%" height="200%"><feGaussianBlur stdDeviation="3"/></filter>
<filter id="blur2" x="-50%" y="-50%" width="200%" height="200%"><feGaussianBlur stdDeviation="1.8"/></filter>
<filter id="blur1" x="-50%" y="-50%" width="200%" height="200%"><feGaussianBlur stdDeviation="0.8"/></filter>
<filter id="tex" x="0" y="0" width="100%" height="100%"><feTurbulence type="fractalNoise" baseFrequency="0.09 0.22" numOctaves="3" seed="4" result="n"/><feColorMatrix in="n" type="matrix" values="0 0 0 0 0.62  0 0 0 0 0.68  0 0 0 0 0.76  0 0 0 2.6 -0.95"/><feComposite in2="SourceGraphic" operator="in"/></filter>
<filter id="shadow" x="-40%" y="-40%" width="190%" height="200%"><feGaussianBlur in="SourceAlpha" stdDeviation="2"/><feOffset dx="-0.6" dy="2.8" result="o"/><feComponentTransfer><feFuncA type="linear" slope="0.6"/></feComponentTransfer><feMerge><feMergeNode/><feMergeNode in="SourceGraphic"/></feMerge></filter>
<linearGradient id="phbg" x1="0" y1="0" x2="1" y2="1"><stop offset="0" stop-color="#5b6676"/><stop offset="0.45" stop-color="#434d5b"/><stop offset="1" stop-color="#2a313c"/></linearGradient>
</defs>
<g id="panel-b">
<text class="lbl" x="401.3" y="12.8">b</text>
<rect x="410.0" y="14.7" width="62.5" height="35.2" fill="#416e9f"/>
<text x="441.2" y="24.4" font-size="9.9" fill="#f6f7f8" text-anchor="middle">Stage I:</text>
<text x="441.2" y="36.1" font-size="9.9" fill="#f6f7f8" text-anchor="middle">Safety</text>
<text x="441.2" y="47.9" font-size="9.9" fill="#f6f7f8" text-anchor="middle">venting</text>
<text x="444.2" y="65.7" font-size="10" fill="#151515" text-anchor="middle">0 s~364 s</text>
<rect x="478.5" y="14.7" width="62.3" height="35.2" fill="#8cc4dc"/>
<text x="509.6" y="30.2" font-size="9.9" fill="#f6f7f8" text-anchor="middle">Stage II:</text>
<text x="509.6" y="41.9" font-size="9.9" fill="#f6f7f8" text-anchor="middle">Incubation</text>
<text x="510.1" y="65.7" font-size="10" fill="#151515" text-anchor="middle">364 s~406 s</text>
<rect x="548.6" y="14.7" width="62.6" height="35.2" fill="#e6a265"/>
<text x="579.9" y="24.4" font-size="9.9" fill="#f6f7f8" text-anchor="middle">Stage III:</text>
<text x="579.9" y="36.1" font-size="9.9" fill="#f6f7f8" text-anchor="middle">Thermal</text>
<text x="579.9" y="47.9" font-size="9.9" fill="#f6f7f8" text-anchor="middle">runaway</text>
<text x="580.4" y="65.7" font-size="10" fill="#151515" text-anchor="middle">406 s~489 s</text>
<rect x="618.5" y="14.7" width="62.5" height="35.2" fill="#dd725e"/>
<text x="649.8" y="30.2" font-size="9.9" fill="#f6f7f8" text-anchor="middle">Stage IV:</text>
<text x="649.8" y="41.9" font-size="9.9" fill="#f6f7f8" text-anchor="middle">Cooling</text>
<text x="650.2" y="65.7" font-size="10" fill="#151515" text-anchor="middle">489 s~700 s</text>
<line x1="475.3" y1="13" x2="475.3" y2="200.5" stroke="#8e8e8e" stroke-width="1.6" stroke-dasharray="1.6 2.1"/>
<line x1="544.3" y1="13" x2="544.3" y2="200.5" stroke="#8e8e8e" stroke-width="1.6" stroke-dasharray="1.6 2.1"/>
<line x1="615.3" y1="13" x2="615.3" y2="200.5" stroke="#8e8e8e" stroke-width="1.6" stroke-dasharray="1.6 2.1"/>
<clipPath id="cp00"><rect x="408.6" y="69.4" width="65.0" height="49.2"/></clipPath>
<g clip-path="url(#cp00)">
<rect x="408.6" y="69.4" width="65.0" height="49.2" fill="url(#phbg)"/>
<rect x="408.6" y="69.4" width="65.0" height="49.2" fill="#8fa0b4" opacity="0.28" filter="url(#tex)"/>
<g filter="url(#blur1)" opacity="0.55">
<path d="M441.1 74.3 L413.8 90.1" stroke="#93a0b0" stroke-width="1.6"/>
<path d="M448.9 72.4 L428.1 86.1" stroke="#8592a2" stroke-width="1.2"/>
<path d="M454.1 84.2 L422.9 103.8" stroke="#7a8797" stroke-width="1.4"/>
<path d="M434.6 94.0 L411.9 108.8" stroke="#748191" stroke-width="1.3"/>
<path d="M409.9 76.3 L455.4 74.3" stroke="#9aa7b6" stroke-width="1.3"/>
<path d="M408.6 92.5 L448.9 91.5" stroke="#1d232c" stroke-width="1.8"/>
<path d="M429.4 75.3 L430.7 92.0" stroke="#222832" stroke-width="1.2"/>
<path d="M444.4 99.9 L421.6 116.1" stroke="#687585" stroke-width="1.2"/>
</g>
<rect x="464.5" y="69.4" width="9.1" height="49.2" fill="#232a34" opacity="0.55"/>
<rect x="454.1" y="69.4" width="5.8" height="29.5" fill="#6f7b8a" opacity="0.35" filter="url(#blur1)"/>
<rect x="461.1" y="69.4" width="1.0" height="22.6" fill="#b9a97c"/>
<rect x="461.0" y="94.0" width="1.3" height="24.6" fill="#5f5c50"/>
<ellipse cx="459.0" cy="92.8" rx="2.5" ry="2.6" fill="#86766a"/>
<ellipse cx="459.0" cy="94.0" rx="1.3" ry="1.4" fill="#5d4c40"/>
<rect x="448.9" y="108.8" width="22.1" height="9.8" fill="#16171b"/>
<rect x="444.0" y="98.9" width="13.0" height="6.1" rx="1.6" fill="#9c6a34"/>
<rect x="447.6" y="100.2" width="8.5" height="2.0" rx="0.8" fill="#ecca8c"/>
<rect x="439.5" y="98.9" width="4.6" height="5.7" rx="1.4" fill="#7fb0dc"/>
<rect x="456.1" y="100.6" width="14.6" height="5.4" fill="#4e3a26"/>
<rect x="456.1" y="99.9" width="14.6" height="1.7" fill="#b39660"/>
<rect x="447.6" y="105.6" width="24.4" height="3.7" rx="1" fill="#b9a674"/>
<rect x="449.6" y="106.2" width="19.5" height="1.1" fill="#efe2b4"/>
<rect x="464.8" y="96.7" width="5.5" height="3.2" fill="#d6a49c"/>
<rect x="470.7" y="99.4" width="2.9" height="4.9" fill="#c0a070"/>
<rect x="469.1" y="108.0" width="4.6" height="2.0" fill="#c22c2c"/>
</g>
<text x="413.0" y="116.3" font-size="10" fill="#f3f5f7">Start heating</text>
<clipPath id="cp01"><rect x="477.4" y="69.4" width="65.2" height="49.2"/></clipPath>
<g clip-path="url(#cp01)">
<rect x="477.4" y="69.4" width="65.2" height="49.2" fill="url(#phbg)"/>
<rect x="477.4" y="69.4" width="65.2" height="49.2" fill="#8fa0b4" opacity="0.28" filter="url(#tex)"/>
<g filter="url(#blur1)" opacity="0.55">
<path d="M510.0 74.3 L482.6 90.1" stroke="#93a0b0" stroke-width="1.6"/>
<path d="M517.8 72.4 L497.0 86.1" stroke="#8592a2" stroke-width="1.2"/>
<path d="M523.0 84.2 L491.7 103.8" stroke="#7a8797" stroke-width="1.4"/>
<path d="M503.5 94.0 L480.7 108.8" stroke="#748191" stroke-width="1.3"/>
<path d="M478.7 76.3 L524.3 74.3" stroke="#9aa7b6" stroke-width="1.3"/>
<path d="M477.4 92.5 L517.8 91.5" stroke="#1d232c" stroke-width="1.8"/>
<path d="M498.3 75.3 L499.6 92.0" stroke="#222832" stroke-width="1.2"/>
<path d="M513.3 99.9 L490.4 116.1" stroke="#687585" stroke-width="1.2"/>
</g>
<rect x="533.5" y="69.4" width="9.1" height="49.2" fill="#232a34" opacity="0.55"/>
<rect x="523.0" y="69.4" width="5.9" height="29.5" fill="#6f7b8a" opacity="0.35" filter="url(#blur1)"/>
<ellipse cx="500.2" cy="96.5" rx="18.3" ry="7.9" fill="#d3dfee" opacity="0.30" filter="url(#blur3)"/>
<ellipse cx="513.3" cy="104.8" rx="7.8" ry="4.9" fill="#d3dfee" opacity="0.28" filter="url(#blur3)"/>
<rect x="530.0" y="69.4" width="1.0" height="22.6" fill="#b9a97c"/>
<rect x="529.9" y="94.0" width="1.3" height="24.6" fill="#5f5c50"/>
<ellipse cx="527.9" cy="92.8" rx="2.5" ry="2.6" fill="#86766a"/>
<ellipse cx="527.9" cy="94.0" rx="1.3" ry="1.4" fill="#5d4c40"/>
<rect x="517.8" y="108.8" width="22.2" height="9.8" fill="#16171b"/>
<rect x="512.9" y="98.9" width="13.0" height="6.1" rx="1.6" fill="#9c6a34"/>
<rect x="516.5" y="100.2" width="8.5" height="2.0" rx="0.8" fill="#ecca8c"/>
<rect x="508.4" y="98.9" width="4.6" height="5.7" rx="1.4" fill="#7fb0dc"/>
<rect x="525.0" y="100.6" width="14.7" height="5.4" fill="#4e3a26"/>
<rect x="525.0" y="99.9" width="14.7" height="1.7" fill="#b39660"/>
<rect x="516.5" y="105.6" width="24.5" height="3.7" rx="1" fill="#b9a674"/>
<rect x="518.5" y="106.2" width="19.6" height="1.1" fill="#efe2b4"/>
<rect x="533.8" y="96.7" width="5.5" height="3.2" fill="#d6a49c"/>
<rect x="539.7" y="99.4" width="2.9" height="4.9" fill="#c0a070"/>
<rect x="538.0" y="108.0" width="4.6" height="2.0" fill="#c22c2c"/>
</g>
<text x="484.0" y="116.3" font-size="10" fill="#f3f5f7">Gas release</text>
<clipPath id="cp02"><rect x="547.5" y="69.4" width="65.5" height="49.2"/></clipPath>
<g clip-path="url(#cp02)">
<rect x="547.5" y="69.4" width="65.5" height="49.2" fill="url(#phbg)"/>
<rect x="547.5" y="69.4" width="65.5" height="49.2" fill="#8fa0b4" opacity="0.28" filter="url(#tex)"/>
<g filter="url(#blur1)" opacity="0.55">
<path d="M580.2 74.3 L552.7 90.1" stroke="#93a0b0" stroke-width="1.6"/>
<path d="M588.1 72.4 L567.1 86.1" stroke="#8592a2" stroke-width="1.2"/>
<path d="M593.4 84.2 L561.9 103.8" stroke="#7a8797" stroke-width="1.4"/>
<path d="M573.7 94.0 L550.8 108.8" stroke="#748191" stroke-width="1.3"/>
<path d="M548.8 76.3 L594.7 74.3" stroke="#9aa7b6" stroke-width="1.3"/>
<path d="M547.5 92.5 L588.1 91.5" stroke="#1d232c" stroke-width="1.8"/>
<path d="M568.5 75.3 L569.8 92.0" stroke="#222832" stroke-width="1.2"/>
<path d="M583.5 99.9 L560.6 116.1" stroke="#687585" stroke-width="1.2"/>
</g>
<rect x="603.8" y="69.4" width="9.2" height="49.2" fill="#232a34" opacity="0.55"/>
<rect x="593.4" y="69.4" width="5.9" height="29.5" fill="#6f7b8a" opacity="0.35" filter="url(#blur1)"/>
<ellipse cx="563.9" cy="81.7" rx="19.6" ry="14.8" fill="#d3dfee" opacity="0.80" filter="url(#blur3)"/>
<ellipse cx="577.0" cy="94.0" rx="14.4" ry="8.9" fill="#d3dfee" opacity="0.50" filter="url(#blur3)"/>
<ellipse cx="555.4" cy="98.9" rx="9.2" ry="9.8" fill="#d3dfee" opacity="0.35" filter="url(#blur3)"/>
<ellipse cx="567.1" cy="79.2" rx="9.8" ry="5.9" fill="#d3dfee" opacity="0.50" filter="url(#blur3)"/>
<rect x="600.4" y="69.4" width="1.0" height="22.6" fill="#b9a97c"/>
<rect x="600.3" y="94.0" width="1.3" height="24.6" fill="#5f5c50"/>
<ellipse cx="598.3" cy="92.8" rx="2.5" ry="2.6" fill="#86766a"/>
<ellipse cx="598.3" cy="94.0" rx="1.3" ry="1.4" fill="#5d4c40"/>
<rect x="588.1" y="108.8" width="22.3" height="9.8" fill="#16171b"/>
<rect x="583.2" y="98.9" width="13.1" height="6.1" rx="1.6" fill="#9c6a34"/>
<rect x="586.8" y="100.2" width="8.5" height="2.0" rx="0.8" fill="#ecca8c"/>
<rect x="578.6" y="98.9" width="4.6" height="5.7" rx="1.4" fill="#7fb0dc"/>
<rect x="595.3" y="100.6" width="14.7" height="5.4" fill="#4e3a26"/>
<rect x="595.3" y="99.9" width="14.7" height="1.7" fill="#b39660"/>
<rect x="586.8" y="105.6" width="24.6" height="3.7" rx="1" fill="#b9a674"/>
<rect x="588.8" y="106.2" width="19.6" height="1.1" fill="#efe2b4"/>
<rect x="604.2" y="96.7" width="5.6" height="3.2" fill="#d6a49c"/>
<rect x="610.1" y="99.4" width="2.9" height="4.9" fill="#c0a070"/>
<rect x="608.4" y="108.0" width="4.6" height="2.0" fill="#c22c2c"/>
</g>
<text x="549.9" y="116.3" font-size="10" fill="#f3f5f7">TR(stop heat)</text>
<clipPath id="cp03"><rect x="617.4" y="69.4" width="64.6" height="49.2"/></clipPath>
<g clip-path="url(#cp03)">
<rect x="617.4" y="69.4" width="64.6" height="49.2" fill="url(#phbg)"/>
<rect x="617.4" y="69.4" width="64.6" height="49.2" fill="#8fa0b4" opacity="0.28" filter="url(#tex)"/>
<g filter="url(#blur1)" opacity="0.55">
<path d="M649.7 74.3 L622.6 90.1" stroke="#93a0b0" stroke-width="1.6"/>
<path d="M657.5 72.4 L636.8 86.1" stroke="#8592a2" stroke-width="1.2"/>
<path d="M662.6 84.2 L631.6 103.8" stroke="#7a8797" stroke-width="1.4"/>
<path d="M643.2 94.0 L620.6 108.8" stroke="#748191" stroke-width="1.3"/>
<path d="M618.7 76.3 L663.9 74.3" stroke="#9aa7b6" stroke-width="1.3"/>
<path d="M617.4 92.5 L657.5 91.5" stroke="#1d232c" stroke-width="1.8"/>
<path d="M638.1 75.3 L639.4 92.0" stroke="#222832" stroke-width="1.2"/>
<path d="M652.9 99.9 L630.3 116.1" stroke="#687585" stroke-width="1.2"/>
</g>
<rect x="673.0" y="69.4" width="9.0" height="49.2" fill="#232a34" opacity="0.55"/>
<rect x="662.6" y="69.4" width="5.8" height="29.5" fill="#6f7b8a" opacity="0.35" filter="url(#blur1)"/>
<ellipse cx="640.0" cy="76.8" rx="19.4" ry="8.9" fill="#d3dfee" opacity="0.75" filter="url(#blur3)"/>
<ellipse cx="648.4" cy="90.1" rx="7.8" ry="9.8" fill="#d3dfee" opacity="0.55" filter="url(#blur3)"/>
<ellipse cx="625.2" cy="74.3" rx="9.7" ry="4.9" fill="#d3dfee" opacity="0.40" filter="url(#blur3)"/>
<ellipse cx="657.5" cy="74.3" rx="9.7" ry="4.9" fill="#d3dfee" opacity="0.30" filter="url(#blur3)"/>
<rect x="669.5" y="69.4" width="1.0" height="22.6" fill="#b9a97c"/>
<rect x="669.4" y="94.0" width="1.3" height="24.6" fill="#5f5c50"/>
<ellipse cx="667.5" cy="92.8" rx="2.5" ry="2.6" fill="#86766a"/>
<ellipse cx="667.5" cy="94.0" rx="1.3" ry="1.4" fill="#5d4c40"/>
<rect x="657.5" y="108.8" width="22.0" height="9.8" fill="#16171b"/>
<rect x="652.6" y="98.9" width="12.9" height="6.1" rx="1.6" fill="#9c6a34"/>
<rect x="656.2" y="100.2" width="8.4" height="2.0" rx="0.8" fill="#ecca8c"/>
<rect x="648.1" y="98.9" width="4.5" height="5.7" rx="1.4" fill="#7fb0dc"/>
<rect x="664.6" y="100.6" width="14.5" height="5.4" fill="#4e3a26"/>
<rect x="664.6" y="99.9" width="14.5" height="1.7" fill="#b39660"/>
<rect x="656.2" y="105.6" width="24.2" height="3.7" rx="1" fill="#b9a674"/>
<rect x="658.1" y="106.2" width="19.4" height="1.1" fill="#efe2b4"/>
<rect x="673.3" y="96.7" width="5.5" height="3.2" fill="#d6a49c"/>
<rect x="679.1" y="99.4" width="2.9" height="4.9" fill="#c0a070"/>
<rect x="677.5" y="108.0" width="4.5" height="2.0" fill="#c22c2c"/>
</g>
<text x="626.1" y="115.1" font-size="10" fill="#f3f5f7">T<tspan font-size="6.6" dy="2.2">max</tspan></text>
<clipPath id="cp10"><rect x="408.6" y="122.2" width="65.0" height="49.4"/></clipPath>
<g clip-path="url(#cp10)">
<rect x="408.6" y="122.2" width="65.0" height="49.4" fill="url(#phbg)"/>
<rect x="408.6" y="122.2" width="65.0" height="49.4" fill="#8fa0b4" opacity="0.28" filter="url(#tex)"/>
<g filter="url(#blur1)" opacity="0.55">
<path d="M441.1 127.1 L413.8 142.9" stroke="#93a0b0" stroke-width="1.6"/>
<path d="M448.9 125.2 L428.1 139.0" stroke="#8592a2" stroke-width="1.2"/>
<path d="M454.1 137.0 L422.9 156.8" stroke="#7a8797" stroke-width="1.4"/>
<path d="M434.6 146.9 L411.9 161.7" stroke="#748191" stroke-width="1.3"/>
<path d="M409.9 129.1 L455.4 127.1" stroke="#9aa7b6" stroke-width="1.3"/>
<path d="M408.6 145.4 L448.9 144.4" stroke="#1d232c" stroke-width="1.8"/>
<path d="M429.4 128.1 L430.7 144.9" stroke="#222832" stroke-width="1.2"/>
<path d="M444.4 152.8 L421.6 169.1" stroke="#687585" stroke-width="1.2"/>
</g>
<rect x="464.5" y="122.2" width="9.1" height="49.4" fill="#232a34" opacity="0.55"/>
<rect x="454.1" y="122.2" width="5.8" height="29.6" fill="#6f7b8a" opacity="0.35" filter="url(#blur1)"/>
<ellipse cx="426.8" cy="149.4" rx="19.5" ry="11.9" fill="#d3dfee" opacity="0.50" filter="url(#blur3)"/>
<ellipse cx="441.1" cy="156.8" rx="9.1" ry="4.9" fill="#d3dfee" opacity="0.40" filter="url(#blur3)"/>
<ellipse cx="417.1" cy="159.2" rx="10.4" ry="6.9" fill="#d3dfee" opacity="0.35" filter="url(#blur3)"/>
<rect x="461.1" y="122.2" width="1.0" height="22.7" fill="#b9a97c"/>
<rect x="461.0" y="146.9" width="1.3" height="24.7" fill="#5f5c50"/>
<ellipse cx="459.0" cy="145.7" rx="2.5" ry="2.6" fill="#86766a"/>
<ellipse cx="459.0" cy="146.9" rx="1.3" ry="1.4" fill="#5d4c40"/>
<rect x="448.9" y="161.7" width="22.1" height="9.9" fill="#16171b"/>
<rect x="444.0" y="151.8" width="13.0" height="6.2" rx="1.6" fill="#9c6a34"/>
<rect x="447.6" y="153.1" width="8.5" height="2.0" rx="0.8" fill="#ecca8c"/>
<rect x="439.5" y="151.8" width="4.6" height="5.7" rx="1.4" fill="#7fb0dc"/>
<rect x="456.1" y="153.6" width="14.6" height="5.4" fill="#4e3a26"/>
<rect x="456.1" y="152.8" width="14.6" height="1.7" fill="#b39660"/>
<rect x="447.6" y="158.5" width="24.4" height="3.7" rx="1" fill="#b9a674"/>
<rect x="449.6" y="159.2" width="19.5" height="1.1" fill="#efe2b4"/>
<rect x="464.8" y="149.6" width="5.5" height="3.2" fill="#d6a49c"/>
<rect x="470.7" y="152.3" width="2.9" height="4.9" fill="#c0a070"/>
<rect x="469.1" y="161.0" width="4.6" height="2.0" fill="#c22c2c"/>
</g>
<text x="413.0" y="168.4" font-size="10" fill="#f3f5f7">Venting</text>
<clipPath id="cp11"><rect x="477.4" y="122.2" width="65.2" height="49.4"/></clipPath>
<g clip-path="url(#cp11)">
<rect x="477.4" y="122.2" width="65.2" height="49.4" fill="url(#phbg)"/>
<rect x="477.4" y="122.2" width="65.2" height="49.4" fill="#8fa0b4" opacity="0.28" filter="url(#tex)"/>
<g filter="url(#blur1)" opacity="0.55">
<path d="M510.0 127.1 L482.6 142.9" stroke="#93a0b0" stroke-width="1.6"/>
<path d="M517.8 125.2 L497.0 139.0" stroke="#8592a2" stroke-width="1.2"/>
<path d="M523.0 137.0 L491.7 156.8" stroke="#7a8797" stroke-width="1.4"/>
<path d="M503.5 146.9 L480.7 161.7" stroke="#748191" stroke-width="1.3"/>
<path d="M478.7 129.1 L524.3 127.1" stroke="#9aa7b6" stroke-width="1.3"/>
<path d="M477.4 145.4 L517.8 144.4" stroke="#1d232c" stroke-width="1.8"/>
<path d="M498.3 128.1 L499.6 144.9" stroke="#222832" stroke-width="1.2"/>
<path d="M513.3 152.8 L490.4 169.1" stroke="#687585" stroke-width="1.2"/>
</g>
<rect x="533.5" y="122.2" width="9.1" height="49.4" fill="#232a34" opacity="0.55"/>
<rect x="523.0" y="122.2" width="5.9" height="29.6" fill="#6f7b8a" opacity="0.35" filter="url(#blur1)"/>
<ellipse cx="500.2" cy="146.9" rx="17.0" ry="9.9" fill="#d3dfee" opacity="0.32" filter="url(#blur3)"/>
<ellipse cx="497.0" cy="159.2" rx="11.7" ry="5.9" fill="#d3dfee" opacity="0.25" filter="url(#blur3)"/>
<rect x="530.0" y="122.2" width="1.0" height="22.7" fill="#b9a97c"/>
<rect x="529.9" y="146.9" width="1.3" height="24.7" fill="#5f5c50"/>
<ellipse cx="527.9" cy="145.7" rx="2.5" ry="2.6" fill="#86766a"/>
<ellipse cx="527.9" cy="146.9" rx="1.3" ry="1.4" fill="#5d4c40"/>
<rect x="517.8" y="161.7" width="22.2" height="9.9" fill="#16171b"/>
<rect x="512.9" y="151.8" width="13.0" height="6.2" rx="1.6" fill="#9c6a34"/>
<rect x="516.5" y="153.1" width="8.5" height="2.0" rx="0.8" fill="#ecca8c"/>
<rect x="508.4" y="151.8" width="4.6" height="5.7" rx="1.4" fill="#7fb0dc"/>
<rect x="525.0" y="153.6" width="14.7" height="5.4" fill="#4e3a26"/>
<rect x="525.0" y="152.8" width="14.7" height="1.7" fill="#b39660"/>
<rect x="516.5" y="158.5" width="24.5" height="3.7" rx="1" fill="#b9a674"/>
<rect x="518.5" y="159.2" width="19.6" height="1.1" fill="#efe2b4"/>
<rect x="533.8" y="149.6" width="5.5" height="3.2" fill="#d6a49c"/>
<rect x="539.7" y="152.3" width="2.9" height="4.9" fill="#c0a070"/>
<rect x="538.0" y="161.0" width="4.6" height="2.0" fill="#c22c2c"/>
</g>
<text x="484.0" y="168.4" font-size="10" fill="#f3f5f7">Gas release</text>
<clipPath id="cp12"><rect x="547.5" y="122.2" width="65.5" height="49.4"/></clipPath>
<g clip-path="url(#cp12)">
<rect x="547.5" y="122.2" width="65.5" height="49.4" fill="url(#phbg)"/>
<rect x="547.5" y="122.2" width="65.5" height="49.4" fill="#8fa0b4" opacity="0.28" filter="url(#tex)"/>
<g filter="url(#blur1)" opacity="0.55">
<path d="M580.2 127.1 L552.7 142.9" stroke="#93a0b0" stroke-width="1.6"/>
<path d="M588.1 125.2 L567.1 139.0" stroke="#8592a2" stroke-width="1.2"/>
<path d="M593.4 137.0 L561.9 156.8" stroke="#7a8797" stroke-width="1.4"/>
<path d="M573.7 146.9 L550.8 161.7" stroke="#748191" stroke-width="1.3"/>
<path d="M548.8 129.1 L594.7 127.1" stroke="#9aa7b6" stroke-width="1.3"/>
<path d="M547.5 145.4 L588.1 144.4" stroke="#1d232c" stroke-width="1.8"/>
<path d="M568.5 128.1 L569.8 144.9" stroke="#222832" stroke-width="1.2"/>
<path d="M583.5 152.8 L560.6 169.1" stroke="#687585" stroke-width="1.2"/>
</g>
<rect x="603.8" y="122.2" width="9.2" height="49.4" fill="#232a34" opacity="0.55"/>
<rect x="593.4" y="122.2" width="5.9" height="29.6" fill="#6f7b8a" opacity="0.35" filter="url(#blur1)"/>
<ellipse cx="569.1" cy="138.5" rx="19.6" ry="16.8" fill="#d3dfee" opacity="0.90" filter="url(#blur3)"/>
<ellipse cx="580.2" cy="129.6" rx="17.0" ry="7.9" fill="#d3dfee" opacity="0.60" filter="url(#blur3)"/>
<ellipse cx="567.1" cy="155.8" rx="11.8" ry="6.9" fill="#d3dfee" opacity="0.70" filter="url(#blur3)"/>
<ellipse cx="567.1" cy="137.0" rx="11.8" ry="9.9" fill="#d3dfee" opacity="0.60" filter="url(#blur3)"/>
<rect x="600.4" y="122.2" width="1.0" height="22.7" fill="#b9a97c"/>
<rect x="600.3" y="146.9" width="1.3" height="24.7" fill="#5f5c50"/>
<ellipse cx="598.3" cy="145.7" rx="2.5" ry="2.6" fill="#86766a"/>
<ellipse cx="598.3" cy="146.9" rx="1.3" ry="1.4" fill="#5d4c40"/>
<rect x="588.1" y="161.7" width="22.3" height="9.9" fill="#16171b"/>
<rect x="583.2" y="151.8" width="13.1" height="6.2" rx="1.6" fill="#9c6a34"/>
<rect x="586.8" y="153.1" width="8.5" height="2.0" rx="0.8" fill="#ecca8c"/>
<rect x="578.6" y="151.8" width="4.6" height="5.7" rx="1.4" fill="#7fb0dc"/>
<rect x="595.3" y="153.6" width="14.7" height="5.4" fill="#4e3a26"/>
<rect x="595.3" y="152.8" width="14.7" height="1.7" fill="#b39660"/>
<rect x="586.8" y="158.5" width="24.6" height="3.7" rx="1" fill="#b9a674"/>
<rect x="588.8" y="159.2" width="19.6" height="1.1" fill="#efe2b4"/>
<rect x="604.2" y="149.6" width="5.6" height="3.2" fill="#d6a49c"/>
<rect x="610.1" y="152.3" width="2.9" height="4.9" fill="#c0a070"/>
<rect x="608.4" y="161.0" width="4.6" height="2.0" fill="#c22c2c"/>
</g>
<text x="556.3" y="168.4" font-size="10" fill="#f3f5f7">Violent gas</text>
<clipPath id="cp13"><rect x="617.4" y="122.2" width="64.6" height="49.4"/></clipPath>
<g clip-path="url(#cp13)">
<rect x="617.4" y="122.2" width="64.6" height="49.4" fill="url(#phbg)"/>
<rect x="617.4" y="122.2" width="64.6" height="49.4" fill="#8fa0b4" opacity="0.28" filter="url(#tex)"/>
<g filter="url(#blur1)" opacity="0.55">
<path d="M649.7 127.1 L622.6 142.9" stroke="#93a0b0" stroke-width="1.6"/>
<path d="M657.5 125.2 L636.8 139.0" stroke="#8592a2" stroke-width="1.2"/>
<path d="M662.6 137.0 L631.6 156.8" stroke="#7a8797" stroke-width="1.4"/>
<path d="M643.2 146.9 L620.6 161.7" stroke="#748191" stroke-width="1.3"/>
<path d="M618.7 129.1 L663.9 127.1" stroke="#9aa7b6" stroke-width="1.3"/>
<path d="M617.4 145.4 L657.5 144.4" stroke="#1d232c" stroke-width="1.8"/>
<path d="M638.1 128.1 L639.4 144.9" stroke="#222832" stroke-width="1.2"/>
<path d="M652.9 152.8 L630.3 169.1" stroke="#687585" stroke-width="1.2"/>
</g>
<rect x="673.0" y="122.2" width="9.0" height="49.4" fill="#232a34" opacity="0.55"/>
<rect x="662.6" y="122.2" width="5.8" height="29.6" fill="#6f7b8a" opacity="0.35" filter="url(#blur1)"/>
<ellipse cx="643.2" cy="137.0" rx="22.6" ry="10.9" fill="#d3dfee" opacity="0.25" filter="url(#blur3)"/>
<ellipse cx="652.9" cy="149.4" rx="9.7" ry="5.9" fill="#d3dfee" opacity="0.25" filter="url(#blur3)"/>
<rect x="669.5" y="122.2" width="1.0" height="22.7" fill="#b9a97c"/>
<rect x="669.4" y="146.9" width="1.3" height="24.7" fill="#5f5c50"/>
<ellipse cx="667.5" cy="145.7" rx="2.5" ry="2.6" fill="#86766a"/>
<ellipse cx="667.5" cy="146.9" rx="1.3" ry="1.4" fill="#5d4c40"/>
<rect x="657.5" y="161.7" width="22.0" height="9.9" fill="#16171b"/>
<rect x="652.6" y="151.8" width="12.9" height="6.2" rx="1.6" fill="#9c6a34"/>
<rect x="656.2" y="153.1" width="8.4" height="2.0" rx="0.8" fill="#ecca8c"/>
<rect x="648.1" y="151.8" width="4.5" height="5.7" rx="1.4" fill="#7fb0dc"/>
<rect x="664.6" y="153.6" width="14.5" height="5.4" fill="#4e3a26"/>
<rect x="664.6" y="152.8" width="14.5" height="1.7" fill="#b39660"/>
<rect x="656.2" y="158.5" width="24.2" height="3.7" rx="1" fill="#b9a674"/>
<rect x="658.1" y="159.2" width="19.4" height="1.1" fill="#efe2b4"/>
<rect x="673.3" y="149.6" width="5.5" height="3.2" fill="#d6a49c"/>
<rect x="679.1" y="152.3" width="2.9" height="4.9" fill="#c0a070"/>
<rect x="677.5" y="161.0" width="4.5" height="2.0" fill="#c22c2c"/>
</g>
<text x="625.7" y="168.4" font-size="10" fill="#f3f5f7">End</text>
<line x1="434.0" y1="188.2" x2="455.4" y2="188.2" stroke="#8cc1d8" stroke-width="1.7" stroke-dasharray="1.5 1.5"/>
<path d="M459.7 188.2l-5.6 -3.1v6.2z" fill="#8cc1d8"/>
<line x1="483.4" y1="188.2" x2="530.1" y2="188.2" stroke="#8cc1d8" stroke-width="1.7" stroke-dasharray="1.5 1.5"/>
<path d="M534.4 188.2l-5.6 -3.1v6.2z" fill="#8cc1d8"/>
<line x1="558.1" y1="188.2" x2="602.1" y2="188.2" stroke="#8cc1d8" stroke-width="1.7" stroke-dasharray="1.5 1.5"/>
<path d="M606.4 188.2l-5.6 -3.1v6.2z" fill="#8cc1d8"/>
<rect x="409.5" y="177.4" width="22.6" height="22.6" rx="3.4" fill="#ffffff" filter="url(#shadow)"/>
<rect x="411.5" y="179.4" width="18.6" height="18.6" rx="2" fill="#8cc1d8"/>
<text x="420.8" y="193.0" font-size="12" font-weight="bold" fill="#ffffff" text-anchor="middle">1</text>
<rect x="458.9" y="177.4" width="22.6" height="22.6" rx="3.4" fill="#ffffff" filter="url(#shadow)"/>
<rect x="460.9" y="179.4" width="18.6" height="18.6" rx="2" fill="#8cc1d8"/>
<text x="470.2" y="193.0" font-size="12" font-weight="bold" fill="#ffffff" text-anchor="middle">2</text>
<rect x="533.6" y="177.4" width="22.6" height="22.6" rx="3.4" fill="#ffffff" filter="url(#shadow)"/>
<rect x="535.6" y="179.4" width="18.6" height="18.6" rx="2" fill="#8cc1d8"/>
<text x="544.9" y="193.0" font-size="12" font-weight="bold" fill="#ffffff" text-anchor="middle">3</text>
<rect x="605.6" y="177.4" width="22.6" height="22.6" rx="3.4" fill="#ffffff" filter="url(#shadow)"/>
<rect x="607.6" y="179.4" width="18.6" height="18.6" rx="2" fill="#8cc1d8"/>
<text x="616.9" y="193.0" font-size="12" font-weight="bold" fill="#ffffff" text-anchor="middle">4</text>
<rect x="409.6" y="207.6" width="271.9" height="112.6" fill="#ffffff" stroke="#8ec3da" stroke-width="1.7"/>
<rect x="446.6" y="216.6" width="95.4" height="42.8" rx="8" fill="#8cc1d8"/>
<text x="494.0" y="234.5" font-size="10.3" font-weight="bold" fill="#fbfcfd" text-anchor="middle">Slow</text>
<text x="494.0" y="247.2" font-size="10.3" font-weight="bold" fill="#fbfcfd" text-anchor="middle">temperature rise</text>
<rect x="580.7" y="216.6" width="94.4" height="42.8" rx="8" fill="#8cc1d8"/>
<text x="627.6" y="228.4" font-size="10.3" font-weight="bold" fill="#fbfcfd" text-anchor="middle">Quick</text>
<text x="627.6" y="241.1" font-size="10.3" font-weight="bold" fill="#fbfcfd" text-anchor="middle">temperature</text>
<text x="627.6" y="253.8" font-size="10.3" font-weight="bold" fill="#fbfcfd" text-anchor="middle">rise (TR trigger)</text>
<rect x="446.6" y="269.8" width="95.4" height="42.4" rx="8" fill="#8cc1d8"/>
<text x="494.0" y="281.4" font-size="10.3" font-weight="bold" fill="#fbfcfd" text-anchor="middle">Voltage drop</text>
<text x="494.0" y="294.1" font-size="10.3" font-weight="bold" fill="#fbfcfd" text-anchor="middle">(internal</text>
<text x="494.0" y="306.8" font-size="10.3" font-weight="bold" fill="#fbfcfd" text-anchor="middle">short circuit)</text>
<rect x="580.7" y="269.8" width="94.4" height="42.4" rx="8" fill="#8cc1d8"/>
<text x="627.6" y="287.5" font-size="10.3" font-weight="bold" fill="#fbfcfd" text-anchor="middle">Maximum</text>
<text x="627.6" y="300.2" font-size="10.3" font-weight="bold" fill="#fbfcfd" text-anchor="middle">temperature</text>
<rect x="417.4" y="227.0" width="22.3" height="22.3" rx="3.4" fill="#ffffff" filter="url(#shadow)"/>
<rect x="419.4" y="229.0" width="18.3" height="18.3" rx="2" fill="#8cc1d8"/>
<text x="428.5" y="242.3" font-size="11.5" font-weight="bold" fill="#ffffff" text-anchor="middle">1</text>
<rect x="551.4" y="227.0" width="22.3" height="22.3" rx="3.4" fill="#ffffff" filter="url(#shadow)"/>
<rect x="553.4" y="229.0" width="18.3" height="18.3" rx="2" fill="#8cc1d8"/>
<text x="562.5" y="242.3" font-size="11.5" font-weight="bold" fill="#ffffff" text-anchor="middle">3</text>
<rect x="417.4" y="280.0" width="22.3" height="22.3" rx="3.4" fill="#ffffff" filter="url(#shadow)"/>
<rect x="419.4" y="282.0" width="18.3" height="18.3" rx="2" fill="#8cc1d8"/>
<text x="428.5" y="295.3" font-size="11.5" font-weight="bold" fill="#ffffff" text-anchor="middle">2</text>
<rect x="551.4" y="280.0" width="22.3" height="22.3" rx="3.4" fill="#ffffff" filter="url(#shadow)"/>
<rect x="553.4" y="282.0" width="18.3" height="18.3" rx="2" fill="#8cc1d8"/>
<text x="562.5" y="295.3" font-size="11.5" font-weight="bold" fill="#ffffff" text-anchor="middle">4</text>
</g>
<defs>
<linearGradient id="cbg" x1="0" y1="0" x2="0" y2="1"><stop offset="0" stop-color="#f1b6bf"/><stop offset="0.45" stop-color="#f5cfd4"/><stop offset="0.8" stop-color="#fbeff0"/><stop offset="1" stop-color="#ffffff"/></linearGradient>
<linearGradient id="cbar" x1="0" y1="0" x2="0" y2="1"><stop offset="0" stop-color="#ffffff"/><stop offset="0.18" stop-color="#fbe9c8"/><stop offset="0.36" stop-color="#f3a45a"/><stop offset="0.5" stop-color="#e2402c"/><stop offset="0.62" stop-color="#b03a78"/><stop offset="0.8" stop-color="#5a2a8a"/><stop offset="0.93" stop-color="#2a1550"/><stop offset="1" stop-color="#0d0820"/></linearGradient>
<radialGradient id="thface" cx="0.5" cy="0.5" r="0.6"><stop offset="0" stop-color="#f6a21e"/><stop offset="0.7" stop-color="#f08a2a"/><stop offset="1" stop-color="#c0507a"/></radialGradient>
<linearGradient id="pbg" x1="0" y1="0" x2="1" y2="0"><stop offset="0" stop-color="#c4c6c7"/><stop offset="0.6" stop-color="#d4d5d6"/><stop offset="1" stop-color="#dcdcdc"/></linearGradient>
<clipPath id="cpc1"><rect x="8.8" y="345.4" width="59.3" height="81.4"/></clipPath>
<clipPath id="cpc2"><rect x="8.8" y="431.9" width="49.3" height="85.6"/></clipPath>
</defs>
<g id="panel-c">
<text class="lbl" x="0.8" y="344.2">c</text>
<g clip-path="url(#cpc1)">
<rect x="8.8" y="345.4" width="59.3" height="81.4" fill="url(#pbg)"/>
<rect x="6" y="345.4" width="9" height="81.4" fill="#b9bbbd" opacity="0.8" filter="url(#blur2)"/>
<rect x="50" y="345.4" width="18" height="6" fill="#e6e6e6" opacity="0.8" filter="url(#blur2)"/>
<path d="M10.4 427 C11.5 416 15 406 22.5 402.4 L29.2 400 C36 406.5 44 410 49.6 409.2 C53.5 414 55.6 421 56.2 427 Z" fill="#f4f4f4"/>
<path d="M29.2 400 C36 406.5 44 410 49.6 409.2" fill="none" stroke="#d2d2d2" stroke-width="1"/>
<path d="M18 412 C22 418 24 422 25 427" fill="none" stroke="#e2e2e2" stroke-width="1.2"/>
<path d="M29 392 L29.2 400 C36 406.5 44 410 49.6 409.2 C50 404 52 400 52.8 396 L50 390 Z" fill="#d6b29d"/>
<path d="M44 396 C47 400 50 404 49.6 409.2" fill="none" stroke="#b8917c" stroke-width="0.9" opacity="0.7"/>
<path d="M30 370 C36 364 56 362 59.5 372 L58 380 L52 396 C46 399 36 398 31 393 Z" fill="#dbb7a1"/>
<ellipse cx="54" cy="371" rx="6.5" ry="5.5" fill="#b89c8c" opacity="0.85" filter="url(#blur1)"/>
<ellipse cx="35" cy="382" rx="3.4" ry="5.6" fill="#cfa792"/>
<path d="M34 378.5 C36.5 380 36.5 384 34.5 386" fill="none" stroke="#b08872" stroke-width="0.7"/>
<path d="M12 377 C8.5 366 13 354 24 349.5 C33 346 46 346.5 54 351 C59.5 354 61.5 360 60.5 366 C59 370 56 369.5 54 367.5 C50 364 46 366 43.5 370 C41 374 39.5 373 38 376 L33.5 377 C31.5 380 31 386 29.5 391.5 L27 394.5 C21 392.5 17.5 388 17.5 383 C14.5 382 13 380 12 377 Z" fill="#141416"/>
<path d="M12.5 371 C10.5 373 11 377 13.5 378.5 M14 360 C11 362 10.5 366 11.5 369" stroke="#141416" stroke-width="1.6" fill="none"/>
<path d="M50.2 381 C54 376.5 60 374 64.5 375.5 L68.2 383 L68.2 394 C63 398.5 56 398 51.2 393.5 Z" fill="#ece7e5"/>
<path d="M52 383 C56 379 61 377.5 64.5 378" fill="none" stroke="#d8d2cf" stroke-width="0.8"/>
<rect x="56.9" y="386" width="8.5" height="6.4" fill="#b5b5be"/>
<path d="M18.3 379.4 C24 376.5 28 375 31 374.8 C38 375.8 46 378.5 52.7 381.6" fill="none" stroke="#f9f9f9" stroke-width="1.5"/>
<path d="M26.7 394.4 C34 396 44 395 51.4 392.6" fill="none" stroke="#f9f9f9" stroke-width="1.5"/>
<rect x="27.6" y="393.6" width="3.6" height="2.2" rx="0.6" fill="#ffffff"/>
</g>
<g clip-path="url(#cpc2)">
<rect x="8.8" y="431.9" width="49.3" height="85.6" fill="#7b2d90"/>
<rect x="8.8" y="444.9" width="5.5" height="26" fill="#140e28"/>
<rect x="52.6" y="446.9" width="5.5" height="24" fill="#140e28"/>
<ellipse cx="33.5" cy="450.9" rx="22.6" ry="22.5" fill="url(#thface)"/>
<ellipse cx="33.5" cy="436.1" rx="21" ry="6.5" fill="#f9ae1c" filter="url(#blur1)"/>
<path d="M13.6 443.4 L33 433.7 L52.6 443.4 L53.4 459.9 C49 468.4 40 471.4 33 471.4 C26 471.4 18 468.4 13 459.9 Z" fill="#c24f9c" opacity="0.85" filter="url(#blur1)"/>
<path d="M16.2 444.9 L32.8 435.5 L49.6 444.9 L51.6 458.4 C47 464.4 40 466.9 32.8 466.9 C26 466.9 19 464.4 15.4 458.4 Z" fill="#3a1e78" stroke="#a04ab8" stroke-width="0.7"/>
<path d="M20 446.9 L32.8 439.9 L46 446.9 L47 456.9 C43 461.4 38 462.9 32.8 462.9 C28 462.9 23 461.4 19.6 456.9 Z" fill="#22104e" opacity="0.8" filter="url(#blur1)"/>
<line x1="32.8" y1="437.9" x2="32.8" y2="463.9" stroke="#7040a8" stroke-width="0.8"/>
<path d="M11 465.9 C20 476.9 46 476.9 56 465.9 L56 475.1 L11 475.1 Z" fill="#f59526"/>
<path d="M16.5 462.9 C22 476.4 44 476.4 50.5 462.9" fill="none" stroke="#15102a" stroke-width="1.3"/>
<path d="M12 469.4 C22 479.9 45 479.9 55 469.4" fill="none" stroke="#fbd070" stroke-width="1.2" opacity="0.8"/>
<rect x="8.8" y="487.9" width="5.5" height="26" fill="#140e28"/>
<rect x="52.6" y="489.9" width="5.5" height="24" fill="#140e28"/>
<ellipse cx="33.5" cy="493.9" rx="22.6" ry="22.5" fill="url(#thface)"/>
<ellipse cx="33.5" cy="479.1" rx="21" ry="6.5" fill="#f9ae1c" filter="url(#blur1)"/>
<path d="M13.6 486.4 L33 476.7 L52.6 486.4 L53.4 502.9 C49 511.4 40 514.4 33 514.4 C26 514.4 18 511.4 13 502.9 Z" fill="#c24f9c" opacity="0.85" filter="url(#blur1)"/>
<path d="M16.2 487.9 L32.8 478.5 L49.6 487.9 L51.6 501.4 C47 507.4 40 509.9 32.8 509.9 C26 509.9 19 507.4 15.4 501.4 Z" fill="#9350ae" stroke="#d088cc" stroke-width="0.7"/>
<path d="M20 489.9 L32.8 482.9 L46 489.9 L47 499.9 C43 504.4 38 505.9 32.8 505.9 C28 505.9 23 504.4 19.6 499.9 Z" fill="#7a3c9e" opacity="0.8" filter="url(#blur1)"/>
<line x1="31.2" y1="480.9" x2="31.2" y2="506.9" stroke="#2e1658" stroke-width="0.8"/>
<path d="M11 508.9 C20 519.9 46 519.9 56 508.9 L56 518.1 L11 518.1 Z" fill="#f59526"/>
<path d="M16.5 505.9 C22 519.4 44 519.4 50.5 505.9" fill="none" stroke="#15102a" stroke-width="1.3"/>
<path d="M12 512.4 C22 522.9 45 522.9 55 512.4" fill="none" stroke="#fbd070" stroke-width="1.2" opacity="0.8"/>
</g>
<rect x="58.1" y="431.9" width="9.8" height="85.6" fill="url(#cbar)"/>
<text x="58.4" y="435.6" font-size="3.6" font-weight="bold" fill="#222">301K</text>
<text x="58.4" y="517.2" font-size="3.6" font-weight="bold" fill="#eee">295K</text>
<text x="37.0" y="473.2" font-size="6.6" font-weight="bold" fill="#f4f0f6">Inhale</text>
<text x="37.4" y="514.2" font-size="6.6" font-weight="bold" fill="#f4f0f6">Exhale</text>
<rect x="103.3" y="346.5" width="177.5" height="151.7" fill="url(#cbg)"/>
<polyline points="103.3,393.9 103.4,393.8 103.5,393.7 103.7,393.6 103.8,393.5 103.9,393.5 104.0,393.5 104.1,393.4 104.2,393.4 104.4,393.4 104.5,393.4 104.6,393.4 104.7,393.5 104.8,393.5 105.0,393.6 105.1,393.7 105.2,393.8 105.3,393.9 105.4,394.0 105.5,394.1 105.7,394.3 105.8,394.5 105.9,394.6 106.0,394.8 106.1,395.0 106.3,395.3 106.4,395.5 106.5,395.7 106.6,396.0 106.7,396.3 106.8,396.6 107.0,396.8 107.1,397.2 107.2,397.5 107.3,397.8 107.4,398.1 107.6,398.5 107.7,398.8 107.8,399.2 107.9,399.6 108.0,400.0 108.2,400.4 108.3,400.8 108.4,401.2 108.5,401.6 108.6,402.0 108.7,402.5 108.9,402.9 109.0,403.4 109.1,403.8 109.2,404.3 109.3,404.7 109.5,405.2 109.6,405.7 109.7,406.1 109.8,406.6 109.9,407.1 110.0,407.6 110.2,408.0 110.3,408.5 110.4,409.0 110.5,409.5 110.6,409.9 110.8,410.4 110.9,410.9 111.0,411.3 111.1,411.8 111.2,412.3 111.3,412.7 111.5,413.1 111.6,413.6 111.7,414.0 111.8,414.4 111.9,414.8 112.1,415.2 112.2,415.5 112.3,415.8 112.4,416.1 112.5,416.4 112.6,416.4 112.8,416.2 112.9,416.0 113.0,415.7 113.1,415.4 113.2,415.1 113.4,414.7 113.5,414.4 113.6,414.0 113.7,413.6 113.8,413.3 114.0,412.9 114.1,412.5 114.2,412.1 114.3,411.7 114.4,411.3 114.5,410.9 114.7,410.5 114.8,410.0 114.9,409.6 115.0,409.2 115.1,408.8 115.3,408.4 115.4,407.9 115.5,407.5 115.6,407.1 115.7,406.7 115.8,406.2 116.0,405.8 116.1,405.4 116.2,405.0 116.3,404.6 116.4,404.2 116.6,403.8 116.7,403.4 116.8,403.0 116.9,402.6 117.0,402.2 117.1,401.8 117.3,401.4 117.4,401.1 117.5,400.7 117.6,400.4 117.7,400.0 117.9,399.7 118.0,399.3 118.1,399.0 118.2,398.7 118.3,398.3 118.4,398.0 118.6,397.7 118.7,397.5 118.8,397.2 118.9,396.9 119.0,396.6 119.2,396.4 119.3,396.1 119.4,395.9 119.5,395.7 119.6,395.5 119.7,395.3 119.9,395.1 120.0,394.9 120.1,394.7 120.2,394.5 120.3,394.4 120.5,394.2 120.6,394.1 120.7,394.0 120.8,393.9 120.9,393.8 121.0,393.7 121.2,393.6 121.3,393.6 121.4,393.5 121.5,393.5 121.6,393.4 121.8,393.4 121.9,393.4 122.0,393.4 122.1,393.4 122.2,393.5 122.4,393.5 122.5,393.6 122.6,393.7 122.7,393.8 122.8,393.9 122.9,394.0 123.1,394.1 123.2,394.3 123.3,394.5 123.4,394.6 123.5,394.8 123.7,395.0 123.8,395.3 123.9,395.5 124.0,395.7 124.1,396.0 124.2,396.3 124.4,396.6 124.5,396.8 124.6,397.2 124.7,397.5 124.8,397.8 125.0,398.1 125.1,398.5 125.2,398.8 125.3,399.2 125.4,399.6 125.5,400.0 125.7,400.4 125.8,400.8 125.9,401.2 126.0,401.6 126.1,402.0 126.3,402.5 126.4,402.9 126.5,403.4 126.6,403.8 126.7,404.3 126.8,404.7 127.0,405.2 127.1,405.7 127.2,406.1 127.3,406.6 127.4,407.1 127.6,407.6 127.7,408.0 127.8,408.5 127.9,409.0 128.0,409.5 128.2,409.9 128.3,410.4 128.4,410.9 128.5,411.3 128.6,411.8 128.7,412.3 128.9,412.7 129.0,413.1 129.1,413.6 129.2,414.0 129.3,414.4 129.5,414.8 129.6,415.2 129.7,415.5 129.8,415.8 129.9,416.1 130.0,416.4 130.2,416.4 130.3,416.2 130.4,416.0 130.5,415.7 130.6,415.4 130.8,415.1 130.9,414.7 131.0,414.4 131.1,414.0 131.2,413.6 131.3,413.3 131.5,412.9 131.6,412.5 131.7,412.1 131.8,411.7 131.9,411.3 132.1,410.9 132.2,410.5 132.3,410.0 132.4,409.6 132.5,409.2 132.6,408.8 132.8,408.4 132.9,407.9 133.0,407.5 133.1,407.1 133.2,406.7 133.4,406.2 133.5,405.8 133.6,405.4 133.7,405.0 133.8,404.6 133.9,404.2 134.1,403.8 134.2,403.4 134.3,403.0 134.4,402.6 134.5,402.2 134.7,401.8 134.8,401.4 134.9,401.1 135.0,400.7 135.1,400.4 135.2,400.0 135.4,399.7 135.5,399.3 135.6,399.0 135.7,398.7 135.8,398.3 136.0,398.0 136.1,397.7 136.2,397.5 136.3,397.2 136.4,396.9 136.6,396.6 136.7,396.4 136.8,396.1 136.9,395.9 137.0,395.7 137.1,395.5 137.3,395.3 137.4,395.1 137.5,394.9 137.6,394.7 137.7,394.5 137.9,394.4 138.0,394.2 138.1,394.1 138.2,394.0 138.3,393.9 138.4,393.8 138.6,393.7 138.7,393.6 138.8,393.6 138.9,393.5 139.0,393.5 139.2,393.4 139.3,393.4 139.4,393.4 139.5,393.4 139.6,393.4 139.7,393.5 139.9,393.5 140.0,393.6 140.1,393.7 140.2,393.7 140.3,393.8 140.5,394.0 140.6,394.1 140.7,394.2 140.8,394.4 140.9,394.5 141.0,394.7 141.2,394.9 141.3,395.1 141.4,395.3 141.5,395.6 141.6,395.8 141.8,396.0 141.9,396.3 142.0,396.6 142.1,396.9 142.2,397.1 142.3,397.5 142.5,397.8 142.6,398.1 142.7,398.4 142.8,398.8 142.9,399.1 143.1,399.5 143.2,399.9 143.3,400.2 143.4,400.6 143.5,401.0 143.7,401.4 143.8,401.8 143.9,402.2 144.0,402.6 144.1,403.1 144.2,403.5 144.4,403.9 144.5,404.4 144.6,404.8 144.7,405.3 144.8,405.7 145.0,406.2 145.1,406.6 145.2,407.1 145.3,407.5 145.4,408.0 145.5,408.4 145.7,408.9 145.8,409.3 145.9,409.8 146.0,410.2 146.1,410.7 146.3,411.1 146.4,411.6 146.5,412.0 146.6,412.4 146.7,412.9 146.8,413.3 147.0,413.7 147.1,414.1 147.2,414.5 147.3,414.8 147.4,415.2 147.6,415.5 147.7,415.9 147.8,416.2 147.9,416.4 148.0,416.4 148.1,416.3 148.3,416.0 148.4,415.7 148.5,415.5 148.6,415.2 148.7,414.8 148.9,414.5 149.0,414.2 149.1,413.8 149.2,413.5 149.3,413.1 149.4,412.7 149.6,412.3 149.7,412.0 149.8,411.6 149.9,411.2 150.0,410.8 150.2,410.4 150.3,410.0 150.4,409.6 150.5,409.2 150.6,408.8 150.8,408.4 150.9,408.0 151.0,407.6 151.1,407.2 151.2,406.8 151.3,406.4 151.5,406.0 151.6,405.6 151.7,405.2 151.8,404.8 151.9,404.4 152.1,404.0 152.2,403.6 152.3,403.2 152.4,402.8 152.5,402.5 152.6,402.1 152.8,401.7 152.9,401.4 153.0,401.0 153.1,400.7 153.2,400.3 153.4,400.0 153.5,399.7 153.6,399.3 153.7,399.0 153.8,398.7 153.9,398.4 154.1,398.1 154.2,397.8 154.3,397.5 154.4,397.3 154.5,397.0 154.7,396.7 154.8,396.5 154.9,396.3 155.0,396.0 155.1,395.8 155.2,395.6 155.4,395.4 155.5,395.2 155.6,395.0 155.7,394.8 155.8,394.7 156.0,394.5 156.1,394.4 156.2,394.2 156.3,394.1 156.4,394.0 156.6,393.9 156.7,393.8 156.8,393.7 156.9,393.6 157.0,393.6 157.1,393.5 157.3,393.5 157.4,393.4 157.5,393.4 157.6,393.4 157.7,393.4 157.9,393.4 158.0,393.5 158.1,393.5 158.2,393.5 158.3,393.6 158.4,393.7 158.6,393.8 158.7,393.9 158.8,394.0 158.9,394.2 159.0,394.3 159.2,394.5 159.3,394.6 159.4,394.8 159.5,395.0 159.6,395.2 159.7,395.4 159.9,395.7 160.0,395.9 160.1,396.2 160.2,396.5 160.3,396.7 160.5,397.0 160.6,397.3 160.7,397.6 160.8,398.0 160.9,398.3 161.0,398.6 161.2,399.0 161.3,399.3 161.4,399.7 161.5,400.1 161.6,400.5 161.8,400.9 161.9,401.2 162.0,401.7 162.1,402.1 162.2,402.5 162.3,402.9 162.5,403.3 162.6,403.8 162.7,404.2 162.8,404.6 162.9,405.1 163.1,405.5 163.2,406.0 163.3,406.4 163.4,406.9 163.5,407.4 163.6,407.8 163.8,408.3 163.9,408.7 164.0,409.2 164.1,409.6 164.2,410.1 164.4,410.6 164.5,411.0 164.6,411.4 164.7,411.9 164.8,412.3 165.0,412.7 165.1,413.2 165.2,413.6 165.3,414.0 165.4,414.4 165.5,414.7 165.7,415.1 165.8,415.5 165.9,415.8 166.0,416.1 166.1,416.3 166.3,416.5 166.4,416.3 166.5,416.1 166.6,415.8 166.7,415.5 166.8,415.2 167.0,414.9 167.1,414.6 167.2,414.2 167.3,413.9 167.4,413.5 167.6,413.2 167.7,412.8 167.8,412.4 167.9,412.0 168.0,411.7 168.1,411.3 168.3,410.9 168.4,410.5 168.5,410.1 168.6,409.7 168.7,409.3 168.9,408.9 169.0,408.5 169.1,408.0 169.2,407.6 169.3,407.2 169.4,406.8 169.6,406.4 169.7,406.0 169.8,405.6 169.9,405.2 170.0,404.8 170.2,404.4 170.3,404.0 170.4,403.7 170.5,403.3 170.6,402.9 170.8,402.5 170.9,402.1 171.0,401.8 171.1,401.4 171.2,401.1 171.3,400.7 171.5,400.4 171.6,400.0 171.7,399.7 171.8,399.4 171.9,399.1 172.1,398.7 172.2,398.4 172.3,398.1 172.4,397.8 172.5,397.6 172.6,397.3 172.8,397.0 172.9,396.8 173.0,396.5 173.1,396.3 173.2,396.0 173.4,395.8 173.5,395.6 173.6,395.4 173.7,395.2 173.8,395.0 173.9,394.8 174.1,394.7 174.2,394.5 174.3,394.4 174.4,394.2 174.5,394.1 174.7,394.0 174.8,393.9 174.9,393.8 175.0,393.7 175.1,393.6 175.2,393.6 175.4,393.5 175.5,393.5 175.6,393.4 175.7,393.4 175.8,393.4 176.0,393.4 176.1,393.4 176.2,393.5 176.3,393.5 176.4,393.6 176.5,393.6 176.7,393.7 176.8,393.8 176.9,393.9 177.0,394.1 177.1,394.2 177.3,394.4 177.4,394.5 177.5,394.7 177.6,394.9 177.7,395.1 177.8,395.3 178.0,395.6 178.1,395.8 178.2,396.1 178.3,396.4 178.4,396.7 178.6,397.0 178.7,397.3 178.8,397.6 178.9,397.9 179.0,398.3 179.2,398.6 179.3,399.0 179.4,399.3 179.5,399.7 179.6,400.1 179.7,400.5 179.9,400.9 180.0,401.3 180.1,401.7 180.2,402.2 180.3,402.6 180.5,403.0 180.6,403.5 180.7,403.9 180.8,404.4 180.9,404.8 181.0,405.3 181.2,405.8 181.3,406.2 181.4,406.7 181.5,407.2 181.6,407.6 181.8,408.1 181.9,408.6 182.0,409.1 182.1,409.5 182.2,410.0 182.3,410.5 182.5,410.9 182.6,411.4 182.7,411.9 182.8,412.3 182.9,412.7 183.1,413.2 183.2,413.6 183.3,414.0 183.4,414.4 183.5,414.8 183.6,415.2 183.8,415.5 183.9,415.9 184.0,416.2 184.1,416.4 184.2,416.4 184.4,416.2 184.5,416.0 184.6,415.7 184.7,415.4 184.8,415.1 184.9,414.7 185.1,414.4 185.2,414.0 185.3,413.7 185.4,413.3 185.5,412.9 185.7,412.5 185.8,412.1 185.9,411.7 186.0,411.3 186.1,410.9 186.3,410.5 186.4,410.1 186.5,409.7 186.6,409.2 186.7,408.8 186.8,408.4 187.0,408.0 187.1,407.6 187.2,407.1 187.3,406.7 187.4,406.3 187.6,405.9 187.7,405.5 187.8,405.1 187.9,404.7 188.0,404.3 188.1,403.9 188.3,403.5 188.4,403.1 188.5,402.7 188.6,402.3 188.7,401.9 188.9,401.5 189.0,401.2 189.1,400.8 189.2,400.4 189.3,400.1 189.4,399.7 189.6,399.4 189.7,399.1 189.8,398.8 189.9,398.4 190.0,398.1 190.2,397.8 190.3,397.5 190.4,397.3 190.5,397.0 190.6,396.7 190.7,396.5 190.9,396.2 191.0,396.0 191.1,395.8 191.2,395.5 191.3,395.3 191.5,395.1 191.6,394.9 191.7,394.8 191.8,394.6 191.9,394.4 192.1,394.3 192.2,394.2 192.3,394.0 192.4,393.9 192.5,393.8 192.6,393.7 192.8,393.7 192.9,393.6 193.0,393.5 193.1,393.5 193.2,393.4 193.4,393.4 193.5,393.4 193.6,393.4 193.7,393.4 193.8,393.5 193.9,393.5 194.1,393.5 194.2,393.6 194.3,393.7 194.4,393.8 194.5,393.9 194.7,394.0 194.8,394.1 194.9,394.3 195.0,394.4 195.1,394.6 195.2,394.8 195.4,395.0 195.5,395.2 195.6,395.4 195.7,395.6 195.8,395.8 196.0,396.1 196.1,396.3 196.2,396.6 196.3,396.9 196.4,397.2 196.5,397.5 196.7,397.8 196.8,398.1 196.9,398.4 197.0,398.8 197.1,399.1 197.3,399.5 197.4,399.8 197.5,400.2 197.6,400.6 197.7,401.0 197.8,401.4 198.0,401.8 198.1,402.2 198.2,402.6 198.3,403.0 198.4,403.4 198.6,403.9 198.7,404.3 198.8,404.7 198.9,405.2 199.0,405.6 199.1,406.0 199.3,406.5 199.4,406.9 199.5,407.4 199.6,407.8 199.7,408.3 199.9,408.7 200.0,409.2 200.1,409.6 200.2,410.1 200.3,410.5 200.5,410.9 200.6,411.4 200.7,411.8 200.8,412.2 200.9,412.7 201.0,413.1 201.2,413.5 201.3,413.9 201.4,414.3 201.5,414.6 201.6,415.0 201.8,415.3 201.9,415.7 202.0,416.0 202.1,416.2 202.2,416.5 202.3,416.4 202.5,416.2 202.6,415.9 202.7,415.7 202.8,415.4 202.9,415.1 203.1,414.8 203.2,414.4 203.3,414.1 203.4,413.7 203.5,413.4 203.6,413.0 203.8,412.7 203.9,412.3 204.0,411.9 204.1,411.5 204.2,411.2 204.4,410.8 204.5,410.4 204.6,410.0 204.7,409.6 204.8,409.2 204.9,408.8 205.1,408.4 205.2,408.0 205.3,407.6 205.4,407.2 205.5,406.8 205.7,406.4 205.8,406.0 205.9,405.6 206.0,405.2 206.1,404.8 206.2,404.5 206.4,404.1 206.5,403.7 206.6,403.3 206.7,402.9 206.8,402.6 207.0,402.2 207.1,401.8 207.2,401.5 207.3,401.1 207.4,400.8 207.6,400.5 207.7,400.1 207.8,399.8 207.9,399.5 208.0,399.2 208.1,398.9 208.3,398.5 208.4,398.3 208.5,398.0 208.6,397.7 208.7,397.4 208.9,397.1 209.0,396.9 209.1,396.6 209.2,396.4 209.3,396.2 209.4,395.9 209.6,395.7 209.7,395.5 209.8,395.3 209.9,395.1 210.0,395.0 210.2,394.8 210.3,394.6 210.4,394.5 210.5,394.3 210.6,394.2 210.7,394.1 210.9,394.0 211.0,393.9 211.1,393.8 211.2,393.7 211.3,393.6 211.5,393.6 211.6,393.5 211.7,393.5 211.8,393.4 211.9,393.4 212.0,393.4 212.2,393.4 212.3,393.4 212.4,393.5 212.5,393.5 212.6,393.5 212.8,393.6 212.9,393.7 213.0,393.8 213.1,393.9 213.2,394.0 213.4,394.1 213.5,394.3 213.6,394.4 213.7,394.6 213.8,394.8 213.9,395.0 214.1,395.2 214.2,395.4 214.3,395.6 214.4,395.9 214.5,396.1 214.7,396.4 214.8,396.7 214.9,396.9 215.0,397.2 215.1,397.5 215.2,397.8 215.4,398.2 215.5,398.5 215.6,398.8 215.7,399.2 215.8,399.6 216.0,399.9 216.1,400.3 216.2,400.7 216.3,401.1 216.4,401.5 216.5,401.9 216.7,402.3 216.8,402.7 216.9,403.1 217.0,403.5 217.1,404.0 217.3,404.4 217.4,404.8 217.5,405.3 217.6,405.7 217.7,406.2 217.8,406.6 218.0,407.1 218.1,407.5 218.2,408.0 218.3,408.4 218.4,408.9 218.6,409.3 218.7,409.8 218.8,410.2 218.9,410.7 219.0,411.1 219.1,411.5 219.3,412.0 219.4,412.4 219.5,412.8 219.6,413.2 219.7,413.6 219.9,414.0 220.0,414.4 220.1,414.8 220.2,415.2 220.3,415.5 220.4,415.8 220.6,416.1 220.7,416.4 220.8,416.5 220.9,416.3 221.0,416.1 221.2,415.8 221.3,415.5 221.4,415.2 221.5,414.9 221.6,414.6 221.8,414.3 221.9,413.9 222.0,413.6 222.1,413.2 222.2,412.8 222.3,412.5 222.5,412.1 222.6,411.7 222.7,411.3 222.8,410.9 222.9,410.5 223.1,410.1 223.2,409.7 223.3,409.3 223.4,408.9 223.5,408.5 223.6,408.1 223.8,407.7 223.9,407.3 224.0,406.9 224.1,406.5 224.2,406.1 224.4,405.8 224.5,405.4 224.6,405.0 224.7,404.6 224.8,404.2 224.9,403.8 225.1,403.4 225.2,403.0 225.3,402.7 225.4,402.3 225.5,401.9 225.7,401.6 225.8,401.2 225.9,400.9 226.0,400.5 226.1,400.2 226.2,399.9 226.4,399.5 226.5,399.2 226.6,398.9 226.7,398.6 226.8,398.3 227.0,398.0 227.1,397.7 227.2,397.5 227.3,397.2 227.4,396.9 227.6,396.7 227.7,396.4 227.8,396.2 227.9,396.0 228.0,395.8 228.1,395.6 228.3,395.4 228.4,395.2 228.5,395.0 228.6,394.8 228.7,394.6 228.9,394.5 229.0,394.4 229.1,394.2 229.2,394.1 229.3,394.0 229.4,393.9 229.6,393.8 229.7,393.7 229.8,393.6 229.9,393.6 230.0,393.5 230.2,393.5 230.3,393.4 230.4,393.4 230.5,393.4 230.6,393.4 230.7,393.4 230.9,393.4 231.0,393.5 231.1,393.5 231.2,393.6 231.3,393.7 231.5,393.8 231.6,393.8 231.7,394.0 231.8,394.1 231.9,394.2 232.0,394.4 232.2,394.5 232.3,394.7 232.4,394.8 232.5,395.0 232.6,395.2 232.8,395.4 232.9,395.7 233.0,395.9 233.1,396.1 233.2,396.4 233.3,396.6 233.5,396.9 233.6,397.2 233.7,397.5 233.8,397.8 233.9,398.1 234.1,398.4 234.2,398.7 234.3,399.1 234.4,399.4 234.5,399.8 234.6,400.1 234.8,400.5 234.9,400.8 235.0,401.2 235.1,401.6 235.2,402.0 235.4,402.4 235.5,402.8 235.6,403.2 235.7,403.6 235.8,404.0 236.0,404.4 236.1,404.8 236.2,405.3 236.3,405.7 236.4,406.1 236.5,406.5 236.7,407.0 236.8,407.4 236.9,407.8 237.0,408.3 237.1,408.7 237.3,409.1 237.4,409.6 237.5,410.0 237.6,410.4 237.7,410.8 237.8,411.3 238.0,411.7 238.1,412.1 238.2,412.5 238.3,412.9 238.4,413.3 238.6,413.7 238.7,414.1 238.8,414.4 238.9,414.8 239.0,415.1 239.1,415.5 239.3,415.8 239.4,416.0 239.5,416.3 239.6,416.5 239.7,416.4 239.9,416.2 240.0,415.9 240.1,415.7 240.2,415.4 240.3,415.1 240.4,414.8 240.6,414.5 240.7,414.1 240.8,413.8 240.9,413.5 241.0,413.1 241.2,412.8 241.3,412.4 241.4,412.1 241.5,411.7 241.6,411.3 241.8,411.0 241.9,410.6 242.0,410.2 242.1,409.8 242.2,409.4 242.3,409.1 242.5,408.7 242.6,408.3 242.7,407.9 242.8,407.5 242.9,407.1 243.1,406.8 243.2,406.4 243.3,406.0 243.4,405.6 243.5,405.2 243.6,404.9 243.8,404.5 243.9,404.1 244.0,403.8 244.1,403.4 244.2,403.0 244.4,402.7 244.5,402.3 244.6,402.0 244.7,401.6 244.8,401.3 244.9,401.0 245.1,400.6 245.2,400.3 245.3,400.0 245.4,399.7 245.5,399.4 245.7,399.1 245.8,398.8 245.9,398.5 246.0,398.2 246.1,397.9 246.2,397.7 246.4,397.4 246.5,397.1 246.6,396.9 246.7,396.6 246.8,396.4 247.0,396.2 247.1,396.0 247.2,395.8 247.3,395.6 247.4,395.4 247.5,395.2 247.7,395.0 247.8,394.9 247.9,394.7 248.0,394.5 248.1,394.4 248.3,394.3 248.4,394.2 248.5,394.0 248.6,393.9 248.7,393.8 248.9,393.8 249.0,393.7 249.1,393.6 249.2,393.6 249.3,393.5 249.4,393.5 249.6,393.4 249.7,393.4 249.8,393.4 249.9,393.4 250.0,393.4 250.2,393.4 250.3,393.5 250.4,393.5 250.5,393.6 250.6,393.6 250.7,393.7 250.9,393.8 251.0,393.9 251.1,394.0 251.2,394.1 251.3,394.3 251.5,394.4 251.6,394.6 251.7,394.7 251.8,394.9 251.9,395.1 252.0,395.3 252.2,395.5 252.3,395.7 252.4,395.9 252.5,396.2 252.6,396.4 252.8,396.7 252.9,396.9 253.0,397.2 253.1,397.5 253.2,397.8 253.3,398.1 253.5,398.4 253.6,398.7 253.7,399.0 253.8,399.3 253.9,399.6 254.1,400.0 254.2,400.3 254.3,400.7 254.4,401.0 254.5,401.4 254.6,401.8 254.8,402.2 254.9,402.5 255.0,402.9 255.1,403.3 255.2,403.7 255.4,404.1 255.5,404.5 255.6,404.9 255.7,405.3 255.8,405.7 255.9,406.1 256.1,406.5 256.2,407.0 256.3,407.4 256.4,407.8 256.5,408.2 256.7,408.6 256.8,409.0 256.9,409.4 257.0,409.9 257.1,410.3 257.3,410.7 257.4,411.1 257.5,411.5 257.6,411.9 257.7,412.3 257.8,412.7 258.0,413.1 258.1,413.4 258.2,413.8 258.3,414.2 258.4,414.5 258.6,414.8 258.7,415.2 258.8,415.5 258.9,415.8 259.0,416.1 259.1,416.3 259.3,416.5 259.4,416.4 259.5,416.2 259.6,416.0 259.7,415.7 259.9,415.4 260.0,415.2 260.1,414.9 260.2,414.6 260.3,414.3 260.4,414.0 260.6,413.6 260.7,413.3 260.8,413.0 260.9,412.6 261.0,412.3 261.2,411.9 261.3,411.6 261.4,411.2 261.5,410.9 261.6,410.5 261.7,410.1 261.9,409.8 262.0,409.4 262.1,409.0 262.2,408.7 262.3,408.3 262.5,407.9 262.6,407.6 262.7,407.2 262.8,406.8 262.9,406.5 263.1,406.1 263.2,405.7 263.3,405.4 263.4,405.0 263.5,404.7 263.6,404.3 263.8,403.9 263.9,403.6 264.0,403.2 264.1,402.9 264.2,402.6 264.4,402.2 264.5,401.9 264.6,401.6 264.7,401.2 264.8,400.9 264.9,400.6 265.1,400.3 265.2,400.0 265.3,399.7 265.4,399.4 265.5,399.1 265.7,398.8 265.8,398.5 265.9,398.3 266.0,398.0 266.1,397.7 266.2,397.5 266.4,397.2 266.5,397.0 266.6,396.8 266.7,396.5 266.8,396.3 267.0,396.1 267.1,395.9 267.2,395.7 267.3,395.5 267.4,395.3 267.5,395.1 267.7,395.0 267.8,394.8 267.9,394.7 268.0,394.5 268.1,394.4 268.3,394.3 268.4,394.2 268.5,394.0 268.6,393.9 268.7,393.9 268.8,393.8 269.0,393.7 269.1,393.6 269.2,393.6 269.3,393.5 269.4,393.5 269.6,393.5 269.7,393.4 269.8,393.4 269.9,393.4 270.0,393.4 270.1,393.4 270.3,393.5 270.4,393.5 270.5,393.5 270.6,393.6 270.7,393.7 270.9,393.8 271.0,393.9 271.1,394.0 271.2,394.1 271.3,394.2 271.5,394.3 271.6,394.5 271.7,394.6 271.8,394.8 271.9,395.0 272.0,395.1 272.2,395.3 272.3,395.5 272.4,395.8 272.5,396.0 272.6,396.2 272.8,396.5 272.9,396.7 273.0,397.0 273.1,397.2 273.2,397.5 273.3,397.8 273.5,398.1 273.6,398.4 273.7,398.7 273.8,399.0 273.9,399.3 274.1,399.6 274.2,400.0 274.3,400.3 274.4,400.7 274.5,401.0 274.6,401.4 274.8,401.7 274.9,402.1 275.0,402.5 275.1,402.9 275.2,403.2 275.4,403.6 275.5,404.0 275.6,404.4 275.7,404.8 275.8,405.2 275.9,405.6 276.1,406.0 276.2,406.4 276.3,406.8 276.4,407.2 276.5,407.7 276.7,408.1 276.8,408.5 276.9,408.9 277.0,409.3 277.1,409.7 277.2,410.1 277.4,410.5 277.5,410.9 277.6,411.3 277.7,411.7 277.8,412.1 278.0,412.5 278.1,412.9 278.2,413.2 278.3,413.6 278.4,414.0 278.6,414.3 278.7,414.7 278.8,415.0 278.9,415.3 279.0,415.6 279.1,415.9 279.3,416.1 279.4,416.4 279.5,416.5 279.6,416.3 279.7,416.1 279.9,415.9 280.0,415.6 280.1,415.4 280.2,415.1 280.3,414.8 280.4,414.5 280.6,414.2 280.7,413.9 280.8,413.6" fill="none" stroke="#f17f88" stroke-width="1.0" stroke-linejoin="round"/>
<polyline points="103.3,400.2 103.4,400.5 103.6,400.8 103.7,401.1 103.9,401.5 104.0,401.8 104.2,402.2 104.3,402.5 104.5,402.9 104.6,403.2 104.8,403.5 104.9,403.7 105.1,404.0 105.2,404.1 105.4,404.3 105.5,404.4 105.7,404.4 105.8,404.4 106.0,404.4 106.1,404.3 106.3,404.1 106.4,403.9 106.6,403.7 106.7,403.4 106.8,403.1 107.0,402.8 107.1,402.5 107.3,402.1 107.4,401.8 107.6,401.4 107.7,401.1 107.9,400.7 108.0,400.4 108.2,400.2 108.3,399.9 108.5,399.7 108.6,399.6 108.8,399.5 108.9,399.4 109.1,399.4 109.2,399.4 109.4,399.5 109.5,399.6 109.7,399.8 109.8,400.0 110.0,400.3 110.1,400.6 110.3,400.9 110.4,401.2 110.5,401.5 110.7,401.9 110.8,402.2 111.0,402.6 111.1,402.9 111.3,403.2 111.4,403.5 111.6,403.8 111.7,404.0 111.9,404.2 112.0,404.3 112.2,404.4 112.3,404.4 112.5,404.4 112.6,404.3 112.8,404.2 112.9,404.1 113.1,403.9 113.2,403.6 113.4,403.4 113.5,403.1 113.7,402.7 113.8,402.4 114.0,402.0 114.1,401.7 114.2,401.3 114.4,401.0 114.5,400.7 114.7,400.4 114.8,400.1 115.0,399.9 115.1,399.7 115.3,399.5 115.4,399.4 115.6,399.4 115.7,399.4 115.9,399.4 116.0,399.5 116.2,399.7 116.3,399.8 116.5,400.1 116.6,400.3 116.8,400.6 116.9,400.9 117.1,401.3 117.2,401.6 117.4,402.0 117.5,402.3 117.6,402.7 117.8,403.0 117.9,403.3 118.1,403.6 118.2,403.8 118.4,404.0 118.5,404.2 118.7,404.3 118.8,404.4 119.0,404.4 119.1,404.4 119.3,404.3 119.4,404.2 119.6,404.0 119.7,403.8 119.9,403.6 120.0,403.3 120.2,403.0 120.3,402.7 120.5,402.3 120.6,402.0 120.8,401.6 120.9,401.3 121.0,400.9 121.2,400.6 121.3,400.3 121.5,400.1 121.6,399.8 121.8,399.7 121.9,399.5 122.1,399.4 122.2,399.4 122.4,399.4 122.5,399.4 122.7,399.5 122.8,399.7 123.0,399.9 123.1,400.1 123.3,400.4 123.4,400.7 123.6,401.0 123.7,401.3 123.9,401.7 124.0,402.0 124.2,402.4 124.3,402.7 124.5,403.1 124.6,403.4 124.7,403.6 124.9,403.9 125.0,404.1 125.2,404.2 125.3,404.3 125.5,404.4 125.6,404.4 125.8,404.4 125.9,404.3 126.1,404.2 126.2,404.0 126.4,403.8 126.5,403.5 126.7,403.2 126.8,402.9 127.0,402.6 127.1,402.2 127.3,401.9 127.4,401.5 127.6,401.2 127.7,400.9 127.9,400.6 128.0,400.3 128.2,400.0 128.3,399.8 128.4,399.6 128.6,399.5 128.7,399.4 128.9,399.4 129.0,399.4 129.2,399.5 129.3,399.6 129.5,399.7 129.6,399.9 129.8,400.2 129.9,400.4 130.1,400.7 130.2,401.1 130.4,401.4 130.5,401.8 130.7,402.1 130.8,402.5 131.0,402.8 131.1,403.1 131.3,403.4 131.4,403.7 131.6,403.9 131.7,404.1 131.8,404.3 132.0,404.4 132.1,404.4 132.3,404.4 132.4,404.4 132.6,404.3 132.7,404.1 132.9,404.0 133.0,403.7 133.2,403.5 133.3,403.2 133.5,402.9 133.6,402.5 133.8,402.2 133.9,401.8 134.1,401.5 134.2,401.1 134.4,400.8 134.5,400.5 134.7,400.2 134.8,400.0 135.0,399.8 135.1,399.6 135.2,399.5 135.4,399.4 135.5,399.4 135.7,399.4 135.8,399.5 136.0,399.6 136.1,399.8 136.3,400.0 136.4,400.2 136.6,400.5 136.7,400.8 136.9,401.1 137.0,401.5 137.2,401.8 137.3,402.2 137.5,402.5 137.6,402.9 137.8,403.2 137.9,403.5 138.1,403.7 138.2,404.0 138.4,404.1 138.5,404.3 138.7,404.4 138.8,404.4 138.9,404.4 139.1,404.4 139.2,404.3 139.4,404.1 139.5,403.9 139.7,403.7 139.8,403.4 140.0,403.1 140.1,402.8 140.3,402.5 140.4,402.1 140.6,401.8 140.7,401.4 140.9,401.1 141.0,400.7 141.2,400.4 141.3,400.2 141.5,399.9 141.6,399.7 141.8,399.6 141.9,399.5 142.1,399.4 142.2,399.4 142.3,399.4 142.5,399.5 142.6,399.6 142.8,399.8 142.9,400.0 143.1,400.3 143.2,400.6 143.4,400.9 143.5,401.2 143.7,401.5 143.8,401.9 144.0,402.2 144.1,402.6 144.3,402.9 144.4,403.2 144.6,403.5 144.7,403.8 144.9,404.0 145.0,404.2 145.2,404.3 145.3,404.4 145.5,404.4 145.6,404.4 145.8,404.3 145.9,404.2 146.0,404.1 146.2,403.9 146.3,403.6 146.5,403.4 146.6,403.1 146.8,402.7 146.9,402.4 147.1,402.0 147.2,401.7 147.4,401.3 147.5,401.0 147.7,400.7 147.8,400.4 148.0,400.1 148.1,399.9 148.3,399.7 148.4,399.5 148.6,399.4 148.7,399.4 148.9,399.4 149.0,399.4 149.2,399.5 149.3,399.7 149.4,399.8 149.6,400.1 149.7,400.3 149.9,400.6 150.0,400.9 150.2,401.3 150.3,401.6 150.5,402.0 150.6,402.3 150.8,402.7 150.9,403.0 151.1,403.3 151.2,403.6 151.4,403.8 151.5,404.0 151.7,404.2 151.8,404.3 152.0,404.4 152.1,404.4 152.3,404.4 152.4,404.3 152.6,404.2 152.7,404.0 152.9,403.8 153.0,403.6 153.1,403.3 153.3,403.0 153.4,402.7 153.6,402.3 153.7,402.0 153.9,401.6 154.0,401.3 154.2,400.9 154.3,400.6 154.5,400.3 154.6,400.1 154.8,399.8 154.9,399.7 155.1,399.5 155.2,399.4 155.4,399.4 155.5,399.4 155.7,399.4 155.8,399.5 156.0,399.7 156.1,399.9 156.3,400.1 156.4,400.4 156.6,400.7 156.7,401.0 156.8,401.3 157.0,401.7 157.1,402.0 157.3,402.4 157.4,402.7 157.6,403.1 157.7,403.4 157.9,403.6 158.0,403.9 158.2,404.1 158.3,404.2 158.5,404.3 158.6,404.4 158.8,404.4 158.9,404.4 159.1,404.3 159.2,404.2 159.4,404.0 159.5,403.8 159.7,403.5 159.8,403.2 160.0,402.9 160.1,402.6 160.2,402.2 160.4,401.9 160.5,401.5 160.7,401.2 160.8,400.9 161.0,400.6 161.1,400.3 161.3,400.0 161.4,399.8 161.6,399.6 161.7,399.5 161.9,399.4 162.0,399.4 162.2,399.4 162.3,399.5 162.5,399.6 162.6,399.7 162.8,399.9 162.9,400.2 163.1,400.4 163.2,400.7 163.4,401.1 163.5,401.4 163.6,401.8 163.8,402.1 163.9,402.5 164.1,402.8 164.2,403.1 164.4,403.4 164.5,403.7 164.7,403.9 164.8,404.1 165.0,404.3 165.1,404.4 165.3,404.4 165.4,404.4 165.6,404.4 165.7,404.3 165.9,404.1 166.0,404.0 166.2,403.7 166.3,403.5 166.5,403.2 166.6,402.9 166.8,402.5 166.9,402.2 167.1,401.8 167.2,401.5 167.3,401.1 167.5,400.8 167.6,400.5 167.8,400.2 167.9,400.0 168.1,399.8 168.2,399.6 168.4,399.5 168.5,399.4 168.7,399.4 168.8,399.4 169.0,399.5 169.1,399.6 169.3,399.8 169.4,400.0 169.6,400.2 169.7,400.5 169.9,400.8 170.0,401.1 170.2,401.5 170.3,401.8 170.5,402.2 170.6,402.5 170.8,402.9 170.9,403.2 171.0,403.5 171.2,403.7 171.3,404.0 171.5,404.1 171.6,404.3 171.8,404.4 171.9,404.4 172.1,404.4 172.2,404.4 172.4,404.3 172.5,404.1 172.7,403.9 172.8,403.7 173.0,403.4 173.1,403.1 173.3,402.8 173.4,402.5 173.6,402.1 173.7,401.8 173.9,401.4 174.0,401.1 174.2,400.7 174.3,400.4 174.4,400.2 174.6,399.9 174.7,399.7 174.9,399.6 175.0,399.5 175.2,399.4 175.3,399.4 175.5,399.4 175.6,399.5 175.8,399.6 175.9,399.8 176.1,400.0 176.2,400.3 176.4,400.6 176.5,400.9 176.7,401.2 176.8,401.5 177.0,401.9 177.1,402.2 177.3,402.6 177.4,402.9 177.6,403.2 177.7,403.5 177.8,403.8 178.0,404.0 178.1,404.2 178.3,404.3 178.4,404.4 178.6,404.4 178.7,404.4 178.9,404.3 179.0,404.2 179.2,404.1 179.3,403.9 179.5,403.6 179.6,403.4 179.8,403.1 179.9,402.7 180.1,402.4 180.2,402.0 180.4,401.7 180.5,401.3 180.7,401.0 180.8,400.7 181.0,400.4 181.1,400.1 181.3,399.9 181.4,399.7 181.5,399.5 181.7,399.4 181.8,399.4 182.0,399.4 182.1,399.4 182.3,399.5 182.4,399.7 182.6,399.8 182.7,400.1 182.9,400.3 183.0,400.6 183.2,400.9 183.3,401.3 183.5,401.6 183.6,402.0 183.8,402.3 183.9,402.7 184.1,403.0 184.2,403.3 184.4,403.6 184.5,403.8 184.7,404.0 184.8,404.2 184.9,404.3 185.1,404.4 185.2,404.4 185.4,404.4 185.5,404.3 185.7,404.2 185.8,404.0 186.0,403.8 186.1,403.6 186.3,403.3 186.4,403.0 186.6,402.7 186.7,402.3 186.9,402.0 187.0,401.6 187.2,401.3 187.3,400.9 187.5,400.6 187.6,400.3 187.8,400.1 187.9,399.8 188.1,399.7 188.2,399.5 188.4,399.4 188.5,399.4 188.6,399.4 188.8,399.4 188.9,399.5 189.1,399.7 189.2,399.9 189.4,400.1 189.5,400.4 189.7,400.7 189.8,401.0 190.0,401.3 190.1,401.7 190.3,402.0 190.4,402.4 190.6,402.7 190.7,403.1 190.9,403.4 191.0,403.6 191.2,403.9 191.3,404.1 191.5,404.2 191.6,404.3 191.8,404.4 191.9,404.4 192.1,404.4 192.2,404.3 192.3,404.2 192.5,404.0 192.6,403.8 192.8,403.5 192.9,403.2 193.1,402.9 193.2,402.6 193.4,402.2 193.5,401.9 193.7,401.5 193.8,401.2 194.0,400.9 194.1,400.6 194.3,400.3 194.4,400.0 194.6,399.8 194.7,399.6 194.9,399.5 195.0,399.4 195.2,399.4 195.3,399.4 195.5,399.5 195.6,399.6 195.7,399.7 195.9,399.9 196.0,400.2 196.2,400.4 196.3,400.7 196.5,401.1 196.6,401.4 196.8,401.8 196.9,402.1 197.1,402.5 197.2,402.8 197.4,403.1 197.5,403.4 197.7,403.7 197.8,403.9 198.0,404.1 198.1,404.3 198.3,404.4 198.4,404.4 198.6,404.4 198.7,404.4 198.9,404.3 199.0,404.1 199.1,404.0 199.3,403.7 199.4,403.5 199.6,403.2 199.7,402.9 199.9,402.5 200.0,402.2 200.2,401.8 200.3,401.5 200.5,401.1 200.6,400.8 200.8,400.5 200.9,400.2 201.1,400.0 201.2,399.8 201.4,399.6 201.5,399.5 201.7,399.4 201.8,399.4 202.0,399.4 202.1,399.5 202.3,399.6 202.4,399.8 202.6,400.0 202.7,400.2 202.8,400.5 203.0,400.8 203.1,401.1 203.3,401.5 203.4,401.8 203.6,402.2 203.7,402.5 203.9,402.9 204.0,403.2 204.2,403.5 204.3,403.7 204.5,404.0 204.6,404.1 204.8,404.3 204.9,404.4 205.1,404.4 205.2,404.4 205.4,404.4 205.5,404.3 205.7,404.1 205.8,403.9 206.0,403.7 206.1,403.4 206.2,403.1 206.4,402.8 206.5,402.5 206.7,402.1 206.8,401.8 207.0,401.4 207.1,401.1 207.3,400.7 207.4,400.4 207.6,400.2 207.7,399.9 207.9,399.7 208.0,399.6 208.2,399.5 208.3,399.4 208.5,399.4 208.6,399.4 208.8,399.5 208.9,399.6 209.1,399.8 209.2,400.0 209.4,400.3 209.5,400.6 209.7,400.9 209.8,401.2 209.9,401.5 210.1,401.9 210.2,402.2 210.4,402.6 210.5,402.9 210.7,403.2 210.8,403.5 211.0,403.8 211.1,404.0 211.3,404.2 211.4,404.3 211.6,404.4 211.7,404.4 211.9,404.4 212.0,404.3 212.2,404.2 212.3,404.1 212.5,403.9 212.6,403.6 212.8,403.4 212.9,403.1 213.1,402.7 213.2,402.4 213.4,402.0 213.5,401.7 213.6,401.3 213.8,401.0 213.9,400.7 214.1,400.4 214.2,400.1 214.4,399.9 214.5,399.7 214.7,399.5 214.8,399.4 215.0,399.4 215.1,399.4 215.3,399.4 215.4,399.5 215.6,399.7 215.7,399.8 215.9,400.1 216.0,400.3 216.2,400.6 216.3,400.9 216.5,401.3 216.6,401.6 216.8,402.0 216.9,402.3 217.0,402.7 217.2,403.0 217.3,403.3 217.5,403.6 217.6,403.8 217.8,404.0 217.9,404.2 218.1,404.3 218.2,404.4 218.4,404.4 218.5,404.4 218.7,404.3 218.8,404.2 219.0,404.0 219.1,403.8 219.3,403.6 219.4,403.3 219.6,403.0 219.7,402.7 219.9,402.3 220.0,402.0 220.2,401.6 220.3,401.3 220.4,400.9 220.6,400.6 220.7,400.3 220.9,400.1 221.0,399.8 221.2,399.7 221.3,399.5 221.5,399.4 221.6,399.4 221.8,399.4 221.9,399.4 222.1,399.5 222.2,399.7 222.4,399.9 222.5,400.1 222.7,400.4 222.8,400.7 223.0,401.0 223.1,401.3 223.3,401.7 223.4,402.0 223.6,402.4 223.7,402.7 223.9,403.1 224.0,403.4 224.1,403.6 224.3,403.9 224.4,404.1 224.6,404.2 224.7,404.3 224.9,404.4 225.0,404.4 225.2,404.4 225.3,404.3 225.5,404.2 225.6,404.0 225.8,403.8 225.9,403.5 226.1,403.2 226.2,402.9 226.4,402.6 226.5,402.2 226.7,401.9 226.8,401.5 227.0,401.2 227.1,400.9 227.3,400.6 227.4,400.3 227.6,400.0 227.7,399.8 227.8,399.6 228.0,399.5 228.1,399.4 228.3,399.4 228.4,399.4 228.6,399.5 228.7,399.6 228.9,399.7 229.0,399.9 229.2,400.2 229.3,400.4 229.5,400.7 229.6,401.1 229.8,401.4 229.9,401.8 230.1,402.1 230.2,402.5 230.4,402.8 230.5,403.1 230.7,403.4 230.8,403.7 231.0,403.9 231.1,404.1 231.2,404.3 231.4,404.4 231.5,404.4 231.7,404.4 231.8,404.4 232.0,404.3 232.1,404.1 232.3,404.0 232.4,403.7 232.6,403.5 232.7,403.2 232.9,402.9 233.0,402.5 233.2,402.2 233.3,401.8 233.5,401.5 233.6,401.1 233.8,400.8 233.9,400.5 234.1,400.2 234.2,400.0 234.4,399.8 234.5,399.6 234.6,399.5 234.8,399.4 234.9,399.4 235.1,399.4 235.2,399.5 235.4,399.6 235.5,399.8 235.7,400.0 235.8,400.2 236.0,400.5 236.1,400.8 236.3,401.1 236.4,401.5 236.6,401.8 236.7,402.2 236.9,402.5 237.0,402.9 237.2,403.2 237.3,403.5 237.5,403.7 237.6,404.0 237.8,404.1 237.9,404.3 238.1,404.4 238.2,404.4 238.3,404.4 238.5,404.4 238.6,404.3 238.8,404.1 238.9,403.9 239.1,403.7 239.2,403.4 239.4,403.1 239.5,402.8 239.7,402.5 239.8,402.1 240.0,401.8 240.1,401.4 240.3,401.1 240.4,400.7 240.6,400.4 240.7,400.2 240.9,399.9 241.0,399.7 241.2,399.6 241.3,399.5 241.5,399.4 241.6,399.4 241.8,399.4 241.9,399.5 242.0,399.6 242.2,399.8 242.3,400.0 242.5,400.3 242.6,400.6 242.8,400.9 242.9,401.2 243.1,401.5 243.2,401.9 243.4,402.2 243.5,402.6 243.7,402.9 243.8,403.2 244.0,403.5 244.1,403.8 244.3,404.0 244.4,404.2 244.6,404.3 244.7,404.4 244.9,404.4 245.0,404.4 245.2,404.3 245.3,404.2 245.4,404.1 245.6,403.9 245.7,403.6 245.9,403.4 246.0,403.1 246.2,402.7 246.3,402.4 246.5,402.0 246.6,401.7 246.8,401.3 246.9,401.0 247.1,400.7 247.2,400.4 247.4,400.1 247.5,399.9 247.7,399.7 247.8,399.5 248.0,399.4 248.1,399.4 248.3,399.4 248.4,399.4 248.6,399.5 248.7,399.7 248.9,399.8 249.0,400.1 249.1,400.3 249.3,400.6 249.4,400.9 249.6,401.3 249.7,401.6 249.9,402.0 250.0,402.3 250.2,402.7 250.3,403.0 250.5,403.3 250.6,403.6 250.8,403.8 250.9,404.0 251.1,404.2 251.2,404.3 251.4,404.4 251.5,404.4 251.7,404.4 251.8,404.3 252.0,404.2 252.1,404.0 252.3,403.8 252.4,403.6 252.5,403.3 252.7,403.0 252.8,402.7 253.0,402.3 253.1,402.0 253.3,401.6 253.4,401.3 253.6,400.9 253.7,400.6 253.9,400.3 254.0,400.1 254.2,399.8 254.3,399.7 254.5,399.5 254.6,399.4 254.8,399.4 254.9,399.4 255.1,399.4 255.2,399.5 255.4,399.7 255.5,399.9 255.7,400.1 255.8,400.4 255.9,400.7 256.1,401.0 256.2,401.3 256.4,401.7 256.5,402.0 256.7,402.4 256.8,402.7 257.0,403.1 257.1,403.4 257.3,403.6 257.4,403.9 257.6,404.1 257.7,404.2 257.9,404.3 258.0,404.4 258.2,404.4 258.3,404.4 258.5,404.3 258.6,404.2 258.8,404.0 258.9,403.8 259.1,403.5 259.2,403.2 259.4,402.9 259.5,402.6 259.6,402.2 259.8,401.9 259.9,401.5 260.1,401.2 260.2,400.9 260.4,400.6 260.5,400.3 260.7,400.0 260.8,399.8 261.0,399.6 261.1,399.5 261.3,399.4 261.4,399.4 261.6,399.4 261.7,399.5 261.9,399.6 262.0,399.7 262.2,399.9 262.3,400.2 262.5,400.4 262.6,400.7 262.8,401.1 262.9,401.4 263.1,401.8 263.2,402.1 263.3,402.5 263.5,402.8 263.6,403.1 263.8,403.4 263.9,403.7 264.1,403.9 264.2,404.1 264.4,404.3 264.5,404.4 264.7,404.4 264.8,404.4 265.0,404.4 265.1,404.3 265.3,404.1 265.4,404.0 265.6,403.7 265.7,403.5 265.9,403.2 266.0,402.9 266.2,402.5 266.3,402.2 266.5,401.8 266.6,401.5 266.7,401.1 266.9,400.8 267.0,400.5 267.2,400.2 267.3,400.0 267.5,399.8 267.6,399.6 267.8,399.5 267.9,399.4 268.1,399.4 268.2,399.4 268.4,399.5 268.5,399.6 268.7,399.8 268.8,400.0 269.0,400.2 269.1,400.5 269.3,400.8 269.4,401.1 269.6,401.5 269.7,401.8 269.9,402.2 270.0,402.5 270.1,402.9 270.3,403.2 270.4,403.5 270.6,403.7 270.7,404.0 270.9,404.1 271.0,404.3 271.2,404.4 271.3,404.4 271.5,404.4 271.6,404.4 271.8,404.3 271.9,404.1 272.1,403.9 272.2,403.7 272.4,403.4 272.5,403.1 272.7,402.8 272.8,402.5 273.0,402.1 273.1,401.8 273.3,401.4 273.4,401.1 273.6,400.7 273.7,400.4 273.8,400.2 274.0,399.9 274.1,399.7 274.3,399.6 274.4,399.5 274.6,399.4 274.7,399.4 274.9,399.4 275.0,399.5 275.2,399.6 275.3,399.8 275.5,400.0 275.6,400.3 275.8,400.6 275.9,400.9 276.1,401.2 276.2,401.5 276.4,401.9 276.5,402.2 276.7,402.6 276.8,402.9 277.0,403.2 277.1,403.5 277.2,403.8 277.4,404.0 277.5,404.2 277.7,404.3 277.8,404.4 278.0,404.4 278.1,404.4 278.3,404.3 278.4,404.2 278.6,404.1 278.7,403.9 278.9,403.6 279.0,403.4 279.2,403.1 279.3,402.7 279.5,402.4 279.6,402.0 279.8,401.7 279.9,401.3 280.1,401.0 280.2,400.7 280.4,400.4 280.5,400.1 280.7,399.9 280.8,399.7" fill="none" stroke="#b5242f" stroke-width="1.2" stroke-linejoin="round"/>
<polyline points="103.3,462.7 103.9,462.7 104.5,462.6 105.1,463.0 105.7,463.1 106.3,463.4 106.8,462.9 107.4,463.5 108.0,463.6 108.6,463.6 109.2,462.5 109.8,462.3 110.4,462.4 111.0,462.9 111.6,463.2 112.2,463.5 112.8,463.8 113.4,464.7 114.0,464.8 114.5,465.3 115.1,464.6 115.7,464.4 116.3,464.6 116.9,464.5 117.5,463.2 118.1,463.5 118.7,463.2 119.3,463.6 119.9,463.2 120.5,463.2 121.0,463.3 121.6,463.8 122.2,463.4 122.8,463.8 123.4,463.2 124.0,463.1 124.6,462.4 125.2,462.7 125.8,462.8 126.4,462.7 127.0,463.2 127.6,463.3 128.2,464.0 128.7,464.2 129.3,464.6 129.9,464.6 130.5,464.3 131.1,464.7 131.7,464.4 132.3,463.3 132.9,464.0 133.5,463.3 134.1,463.4 134.7,464.2 135.2,463.4 135.8,463.5 136.4,463.7 137.0,463.4 137.6,463.0 138.2,463.4 138.8,462.5 139.4,462.1 140.0,461.5 140.6,461.6 141.2,461.8 141.8,462.5 142.3,462.6 142.9,463.4 143.5,463.8 144.1,464.7 144.7,465.0 145.3,464.8 145.9,464.4 146.5,464.4 147.1,463.4 147.7,463.7 148.3,463.6 148.9,463.8 149.4,464.0 150.0,464.4 150.6,465.1 151.2,464.1 151.8,463.8 152.4,463.7 153.0,463.1 153.6,462.5 154.2,462.7 154.8,461.7 155.4,462.2 156.0,462.6 156.6,462.7 157.1,462.6 157.7,463.7 158.3,463.4 158.9,463.3 159.5,463.9 160.1,463.9 160.7,463.7 161.3,463.3 161.9,463.2 162.5,463.5 163.1,463.7 163.6,464.7 164.2,464.9 164.8,465.1 165.4,464.6 166.0,465.1 166.6,464.5 167.2,464.7 167.8,464.0 168.4,463.2 169.0,462.3 169.6,462.0 170.2,462.0 170.8,462.5 171.3,462.5 171.9,462.9 172.5,463.2 173.1,463.8 173.7,462.9 174.3,463.7 174.9,462.6 175.5,462.5 176.1,463.5 176.7,463.1 177.3,462.9 177.8,463.1 178.4,464.2 179.0,464.8 179.6,465.3 180.2,464.6 180.8,465.4 181.4,464.7 182.0,464.8 182.6,463.8 183.2,462.8 183.8,463.4 184.4,462.3 184.9,462.6 185.5,462.3 186.1,462.7 186.7,463.4 187.3,462.8 187.9,463.3 188.5,463.7 189.1,463.5 189.7,462.7 190.3,462.5 190.9,462.6 191.5,462.9 192.1,463.0 192.6,463.5 193.2,463.5 193.8,465.0 194.4,464.5 195.0,464.6 195.6,465.5 196.2,464.3 196.8,464.2 197.4,463.6 198.0,463.9 198.6,463.5 199.1,463.4 199.7,462.7 200.3,463.2 200.9,463.7 201.5,463.7 202.1,463.8 202.7,463.9 203.3,463.6 203.9,462.4 204.5,462.6 205.1,461.6 205.7,462.3 206.2,462.4 206.8,462.4 207.4,463.3 208.0,463.6 208.6,463.5 209.2,464.0 209.8,464.3 210.4,464.6 211.0,464.1 211.6,463.8 212.2,464.0 212.8,463.5 213.4,464.2 213.9,463.4 214.5,463.8 215.1,463.7 215.7,463.9 216.3,464.4 216.9,464.6 217.5,463.3 218.1,463.8 218.7,462.9 219.3,462.6 219.9,462.3 220.4,461.6 221.0,461.4 221.6,462.5 222.2,462.5 222.8,463.4 223.4,463.6 224.0,464.1 224.6,464.6 225.2,464.6 225.8,464.4 226.4,463.5 227.0,463.8 227.6,464.0 228.1,463.3 228.7,463.3 229.3,464.2 229.9,464.9 230.5,465.0 231.1,465.2 231.7,464.7 232.3,464.7 232.9,464.0 233.5,463.4 234.1,462.5 234.6,461.7 235.2,461.7 235.8,462.1 236.4,462.3 237.0,462.6 237.6,463.1 238.2,463.5 238.8,464.1 239.4,463.9 240.0,463.1 240.6,463.9 241.2,463.4 241.8,463.1 242.3,462.9 242.9,463.9 243.5,464.2 244.1,464.6 244.7,464.8 245.3,465.0 245.9,464.5 246.5,464.5 247.1,464.1 247.7,464.6 248.3,464.0 248.9,462.7 249.4,462.1 250.0,462.4 250.6,462.3 251.2,463.1 251.8,462.9 252.4,462.5 253.0,462.8 253.6,462.9 254.2,462.7 254.8,463.4 255.4,463.4 255.9,463.2 256.5,462.7 257.1,462.7 257.7,462.7 258.3,463.4 258.9,464.0 259.5,464.4 260.1,465.1 260.7,465.1 261.3,465.6 261.9,464.4 262.5,464.6 263.1,463.3 263.6,463.2 264.2,463.3 264.8,463.3 265.4,463.2 266.0,462.9 266.6,463.0 267.2,463.8 267.8,463.9 268.4,463.2 269.0,462.9 269.6,462.9 270.1,462.8 270.7,462.1 271.3,462.8 271.9,462.7 272.5,462.9 273.1,462.8 273.7,463.7 274.3,464.0 274.9,464.8 275.5,465.3 276.1,465.2 276.7,464.1 277.2,464.1 277.8,464.2 278.4,464.2 279.0,463.5 279.6,463.2 280.2,463.6 280.8,463.9" fill="none" stroke="#5cc7f3" stroke-width="1.1" stroke-linejoin="round"/>
<text class="serif" x="279.6" y="390.7" font-size="9.4" fill="#8f1c2b" stroke="#8f1c2b" stroke-width="0.25" text-anchor="end" textLength="74.5" lengthAdjust="spacingAndGlyphs">Breathing Rapidly</text>
<text class="serif" x="277.9" y="428.1" font-size="9.4" fill="#ea7680" stroke="#ea7680" stroke-width="0.25" text-anchor="end" textLength="70" lengthAdjust="spacingAndGlyphs">Breathe normally</text>
<text class="serif" x="278.6" y="478.1" font-size="9.4" fill="#6fd0f6" stroke="#6fd0f6" stroke-width="0.25" text-anchor="end" textLength="90.2" lengthAdjust="spacingAndGlyphs">Ambient Temperature</text>
<path d="M103.3 346.5H280.8V498.2H103.3Z" fill="none" stroke="#111" stroke-width="1.1"/>
<text x="101.4" y="350.7" font-size="10" fill="#111" text-anchor="end">305</text>
<text x="101.4" y="409.3" font-size="10" fill="#111" text-anchor="end">300</text>
<line x1="103.3" y1="405.6" x2="105.9" y2="405.6" stroke="#111" stroke-width="1"/>
<text x="101.4" y="467.9" font-size="10" fill="#111" text-anchor="end">295</text>
<line x1="103.3" y1="464.2" x2="105.9" y2="464.2" stroke="#111" stroke-width="1"/>
<line x1="103.3" y1="376.3" x2="104.9" y2="376.3" stroke="#111" stroke-width="0.9"/>
<line x1="103.3" y1="434.9" x2="104.9" y2="434.9" stroke="#111" stroke-width="0.9"/>
<line x1="103.3" y1="493.5" x2="104.9" y2="493.5" stroke="#111" stroke-width="0.9"/>
<text x="103.3" y="507.3" font-size="10" fill="#111" text-anchor="middle">0</text>
<text x="132.9" y="507.3" font-size="10" fill="#111" text-anchor="middle">5</text>
<line x1="132.9" y1="498.2" x2="132.9" y2="495.4" stroke="#111" stroke-width="1"/>
<text x="162.5" y="507.3" font-size="10" fill="#111" text-anchor="middle">10</text>
<line x1="162.5" y1="498.2" x2="162.5" y2="495.4" stroke="#111" stroke-width="1"/>
<text x="192.1" y="507.3" font-size="10" fill="#111" text-anchor="middle">15</text>
<line x1="192.1" y1="498.2" x2="192.1" y2="495.4" stroke="#111" stroke-width="1"/>
<text x="221.6" y="507.3" font-size="10" fill="#111" text-anchor="middle">20</text>
<line x1="221.6" y1="498.2" x2="221.6" y2="495.4" stroke="#111" stroke-width="1"/>
<text x="251.2" y="507.3" font-size="10" fill="#111" text-anchor="middle">25</text>
<line x1="251.2" y1="498.2" x2="251.2" y2="495.4" stroke="#111" stroke-width="1"/>
<text x="280.8" y="507.3" font-size="10" fill="#111" text-anchor="middle">30</text>
<line x1="118.1" y1="498.2" x2="118.1" y2="496.6" stroke="#111" stroke-width="0.9"/>
<line x1="147.7" y1="498.2" x2="147.7" y2="496.6" stroke="#111" stroke-width="0.9"/>
<line x1="177.3" y1="498.2" x2="177.3" y2="496.6" stroke="#111" stroke-width="0.9"/>
<line x1="206.8" y1="498.2" x2="206.8" y2="496.6" stroke="#111" stroke-width="0.9"/>
<line x1="236.4" y1="498.2" x2="236.4" y2="496.6" stroke="#111" stroke-width="0.9"/>
<line x1="266.0" y1="498.2" x2="266.0" y2="496.6" stroke="#111" stroke-width="0.9"/>
<text transform="translate(81.6 420.6) rotate(-90)" font-size="10.3" fill="#111" text-anchor="middle">Temperature (K)</text>
<text x="192" y="517.6" font-size="10.6" fill="#111" text-anchor="middle">Time (s)</text>
</g>
<defs>
<linearGradient id="dbg" x1="0" y1="0" x2="0.25" y2="1"><stop offset="0" stop-color="#f0d0b2"/><stop offset="0.5" stop-color="#f6e0cc"/><stop offset="1" stop-color="#fdf7f1"/></linearGradient>
<linearGradient id="suit" x1="0" y1="0" x2="1" y2="0"><stop offset="0" stop-color="#b9b31c"/><stop offset="0.3" stop-color="#e9e44a"/><stop offset="0.5" stop-color="#d6d030"/><stop offset="0.75" stop-color="#ece758"/><stop offset="1" stop-color="#aaa418"/></linearGradient>
<linearGradient id="pad" x1="0" y1="0" x2="1" y2="0"><stop offset="0" stop-color="#b7b020"/><stop offset="0.25" stop-color="#f4ef7e"/><stop offset="0.5" stop-color="#c9c32a"/><stop offset="0.75" stop-color="#f4ef7e"/><stop offset="1" stop-color="#b7b020"/></linearGradient>
<radialGradient id="hot" cx="0.5" cy="0.5" r="0.8"><stop offset="0" stop-color="#fdeef1"/><stop offset="0.35" stop-color="#f4b8c6"/><stop offset="0.75" stop-color="#de4a6c"/><stop offset="1" stop-color="#cf2f58"/></radialGradient>
<radialGradient id="cold" cx="0.5" cy="0.5" r="0.8"><stop offset="0" stop-color="#f2f7fd"/><stop offset="0.35" stop-color="#c2d8f4"/><stop offset="0.75" stop-color="#6c9de4"/><stop offset="1" stop-color="#4a80d8"/></radialGradient>
<linearGradient id="dome" x1="0" y1="0" x2="1" y2="0"><stop offset="0" stop-color="#a30d0d"/><stop offset="0.35" stop-color="#e81c1c"/><stop offset="0.62" stop-color="#f23a34"/><stop offset="0.8" stop-color="#ffd8d4"/><stop offset="1" stop-color="#c81414"/></linearGradient>
<linearGradient id="sbase" x1="0" y1="0" x2="1" y2="0"><stop offset="0" stop-color="#9c9c9c"/><stop offset="0.3" stop-color="#e6e6e6"/><stop offset="0.7" stop-color="#cfcfcf"/><stop offset="1" stop-color="#8e8e8e"/></linearGradient>
<linearGradient id="flameg" x1="0" y1="1" x2="0" y2="0"><stop offset="0" stop-color="#fff0a0"/><stop offset="0.35" stop-color="#ffb23c"/><stop offset="0.8" stop-color="#f4681e"/><stop offset="1" stop-color="#e2401a"/></linearGradient>
<pattern id="mesh" width="2.4" height="2.4" patternUnits="userSpaceOnUse" patternTransform="rotate(35)"><rect width="2.4" height="2.4" fill="#1a2c9c"/><circle cx="1.2" cy="1.2" r="0.75" fill="#0e175e"/></pattern>
<pattern id="mesh2" width="1.8" height="1.8" patternUnits="userSpaceOnUse" patternTransform="rotate(35)"><rect width="1.8" height="1.8" fill="#2447d6"/><circle cx="0.9" cy="0.9" r="0.45" fill="#3c62e8"/></pattern>
</defs>
<g id="panel-d">
<text class="lbl" x="303" y="343.8">d</text>
<rect x="314.7" y="346.3" width="48.7" height="158.5" fill="#f8f8fa"/>
<g stroke-linejoin="round">
<path d="M324 372 C317 376 315.5 390 315.5 402 L316 420 L322.5 420 L324.5 398 Z" fill="url(#suit)" stroke="#1a1a12" stroke-width="0.5"/>
<path d="M353.5 372 C360.5 376 362 390 362 402 L361.5 420 L355 420 L353 398 Z" fill="url(#suit)" stroke="#1a1a12" stroke-width="0.5"/>
<path d="M315 419 L322.6 419 L323 431 C322 436 317 436 316 432 Z" fill="#121212"/>
<path d="M355 419 L362.6 419 L362 432 C361 436 356 436 355.4 431 Z" fill="#121212"/>
<path d="M324 371 C330 366 334 365.5 338.7 365.5 C343.5 365.5 348 366 353.5 371 L355.5 420 L356 440 L339.5 442 L338 442 L322 440 L322.3 420 Z" fill="url(#suit)" stroke="#1a1a12" stroke-width="0.5"/>
<path d="M322 438 L338.6 440 L338.4 481 L331 482 L326.5 481 C323.5 468 322 452 322 438 Z" fill="url(#suit)" stroke="#1a1a12" stroke-width="0.5"/>
<path d="M356 438 L339.6 440 L339.8 481 L347 482 L351.5 481 C354.5 468 356 452 356 438 Z" fill="url(#suit)" stroke="#1a1a12" stroke-width="0.5"/>
<rect x="326.2" y="452.4" width="9.8" height="21.5" rx="1.6" fill="url(#pad)" stroke="#1a1a12" stroke-width="0.8"/>
<rect x="341.8" y="452.4" width="9.8" height="21.5" rx="1.6" fill="url(#pad)" stroke="#1a1a12" stroke-width="0.8"/>
<path d="M327 480 L337.8 480 L338.2 503.5 L326 503.5 C325.5 496 328 490 327 480 Z" fill="#15120f"/>
<path d="M351 480 L340.2 480 L339.8 503.5 L352 503.5 C352.5 496 350 490 351 480 Z" fill="#15120f"/>
<path d="M330 486 l3 3 l3 -3 M342 486 l3 3 l3 -3" stroke="#c9c9c9" stroke-width="0.6" fill="none"/>
<path d="M328.6 366 C327.5 354 331 346.6 338.7 346.6 C346.4 346.6 349.6 354 348.8 366 C345 369 332 369 328.6 366 Z" fill="#d9d334" stroke="#1a1a12" stroke-width="0.6"/>
<path d="M333.6 348.2 L333 351 M336.6 347.2 L336.4 350.2 M340.8 347.2 L341 350.2 M343.8 348.2 L344.4 351" stroke="#1a1a12" stroke-width="1.1"/>
<path d="M332.4 357 C332.4 351.6 335 350.6 338.7 350.6 C342.4 350.6 345 351.6 345 357 C345 362 342.5 365.5 338.7 365.5 C335 365.5 332.4 362 332.4 357 Z" fill="#e4e4e6" stroke="#1a1a12" stroke-width="1.3"/>
<path d="M336 352 C337 356 337 360 336.5 364" stroke="#b8b8bc" stroke-width="1.6" fill="none"/>
<path d="M327 370.6 C333 374.2 344 374.2 350.5 370.6" fill="none" stroke="#1a1a12" stroke-width="1.1"/>
<path d="M328.6 372.4 C333 378 345 378 349.4 372.4" fill="none" stroke="#1a1a12" stroke-width="1.0"/>
<path d="M338.8 372 L339.2 440" stroke="#1a1a12" stroke-width="1.2"/>
<path d="M325.5 372 L329.5 402 M352.5 372 L348.5 402" stroke="#4a4a44" stroke-width="1.9"/>
<path d="M322.5 393.5 L356 393.5" stroke="#4a4a44" stroke-width="1.6"/>
<rect x="336.3" y="392" width="4.6" height="3.2" fill="#d8d8d8" stroke="#555" stroke-width="0.3"/>
<rect x="336.3" y="402.2" width="4.6" height="2.6" fill="#d8d8d8" stroke="#555" stroke-width="0.3"/>
<path d="M329.5 402 L349 402" stroke="#4a4a44" stroke-width="1.2"/>
<path d="M317.5 390 L323.5 391.5 M360 390 L354.5 391.5 M316 418.5 L322.8 418.5 M355 418.5 L362 418.5" stroke="#1a1a12" stroke-width="0.8"/>
<path d="M343.8 363.5 C349 368 351.5 380 351.2 399" fill="none" stroke="#b5b7b8" stroke-width="1.5"/>
<path d="M343.8 363.5 C349 368 351.5 380 351.2 399" fill="none" stroke="#555" stroke-width="0.4"/>
<path d="M320 401.5 L334.8 401.5 L335.4 417 C331 419.5 323.5 419.5 319.6 417 Z" fill="#d98c2a" stroke="#8a5312" stroke-width="0.5"/>
<path d="M344.4 401.5 L358 401.5 L358.6 417 C354 419.5 348 419.5 344 417 Z" fill="#d98c2a" stroke="#8a5312" stroke-width="0.5"/>
<path d="M321 407 C326 409 330 408 335 406 M345 407 C349 409 354 408 358 406" stroke="#a8641a" stroke-width="0.6" fill="none"/>
<circle cx="327.6" cy="416.4" r="1.5" fill="#f3f3f3"/><path d="M326.6 416.4h2M327.6 415.4v2" stroke="#d22" stroke-width="0.6"/>
<path d="M339.5 405 L324.6 449" stroke="#1a1a12" stroke-width="0.9"/>
</g>
<ellipse cx="359" cy="402" rx="8" ry="17" fill="none" stroke="#ee3a3a" stroke-width="0.5"/>
<ellipse cx="346.6" cy="463.5" rx="6.8" ry="16" fill="none" stroke="#ee3a3a" stroke-width="0.5"/>
<path d="M364.5 390 L370.5 406 M353 471 L370.5 456" stroke="#ee3a3a" stroke-width="0.5" fill="none"/>
<text x="308" y="447" font-size="6.2" font-weight="bold" fill="#f01e1e" textLength="61.6" lengthAdjust="spacingAndGlyphs">Thermoelectric fabric</text>
<rect x="330.4" y="510.6" width="114" height="7.4" rx="2.4" fill="#fbae42"/>
<path d="M389.4 518.0 C388.1 507.1 392.7 506.1 396.4 498.2 C397.2 505.7 401.4 508.1 399.8 518.0 Z" fill="url(#flameg)" stroke="#ec5522" stroke-width="0.6"/>
<path d="M367.0 518.0 C365.7 507.2 370.3 506.2 374.0 498.4 C374.8 505.8 379.0 508.2 377.4 518.0 Z" fill="url(#flameg)" stroke="#ec5522" stroke-width="0.6"/>
<path d="M345.8 518.0 C344.5 509.2 349.1 508.4 352.8 502.0 C353.6 508.1 357.8 510.0 356.2 518.0 Z" fill="url(#flameg)" stroke="#ec5522" stroke-width="0.6"/>
<path d="M414.8 518.0 C413.5 509.5 418.1 508.7 421.8 502.5 C422.6 508.4 426.8 510.2 425.2 518.0 Z" fill="url(#flameg)" stroke="#ec5522" stroke-width="0.6"/>
<path d="M431.8 518.0 C430.5 509.8 435.1 509.0 438.8 503.0 C439.6 508.7 443.8 510.5 442.2 518.0 Z" fill="url(#flameg)" stroke="#ec5522" stroke-width="0.6"/>
<path d="M377.8 518.0 C376.5 509.8 383.3 509.0 381.2 503.0 C381.2 508.7 389.8 510.5 388.2 518.0 Z" fill="url(#flameg)" stroke="#ec5522" stroke-width="0.6"/>
<path d="M402.8 518.0 C401.5 510.0 406.1 509.3 409.8 503.5 C410.6 509.0 414.8 510.8 413.2 518.0 Z" fill="url(#flameg)" stroke="#ec5522" stroke-width="0.6"/>
<path d="M371.1 518.0 C370.2 510.3 374.8 509.6 373.6 504.0 C373.8 509.3 379.4 511.0 378.3 518.0 Z" fill="url(#flameg)" stroke="#ec5522" stroke-width="0.6"/>
<path d="M399.5 518.0 C398.5 510.3 404.1 509.6 402.2 504.0 C402.2 509.3 409.4 511.0 408.1 518.0 Z" fill="url(#flameg)" stroke="#ec5522" stroke-width="0.6"/>
<path d="M429.3 518.0 C428.3 510.3 431.6 509.6 434.2 504.0 C434.9 509.3 437.6 511.0 436.5 518.0 Z" fill="url(#flameg)" stroke="#ec5522" stroke-width="0.6"/>
<path d="M335.8 518.0 C334.5 510.3 339.1 509.6 342.8 504.0 C343.6 509.3 347.8 511.0 346.2 518.0 Z" fill="url(#flameg)" stroke="#ec5522" stroke-width="0.6"/>
<path d="M349.4 518.0 C348.5 510.6 353.5 509.9 351.9 504.5 C352.1 509.6 358.2 511.2 357.1 518.0 Z" fill="url(#flameg)" stroke="#ec5522" stroke-width="0.6"/>
<path d="M329.6 518.0 C328.4 511.4 332.5 510.8 336.3 506.0 C337.1 510.6 340.7 512.0 339.3 518.0 Z" fill="url(#flameg)" stroke="#ec5522" stroke-width="0.6"/>
<path d="M335.3 518.0 C333.9 511.4 341.2 510.8 338.8 506.0 C338.8 510.6 347.9 512.0 346.3 518.0 Z" fill="url(#flameg)" stroke="#ec5522" stroke-width="0.6"/>
<path d="M411.2 518.0 C410.1 511.4 414.1 510.8 416.4 506.0 C417.1 510.6 420.9 512.0 419.6 518.0 Z" fill="url(#flameg)" stroke="#ec5522" stroke-width="0.6"/>
<path d="M421.5 518.0 C420.1 511.4 424.9 510.8 428.9 506.0 C429.7 510.6 434.1 512.0 432.4 518.0 Z" fill="url(#flameg)" stroke="#ec5522" stroke-width="0.6"/>
<path d="M342.3 518.0 C341.0 511.7 348.0 511.1 345.4 506.5 C345.4 510.9 354.2 512.2 352.6 518.0 Z" fill="url(#flameg)" stroke="#ec5522" stroke-width="0.6"/>
<path d="M354.2 518.0 C353.3 511.7 358.6 511.1 356.2 506.5 C356.2 510.9 363.0 512.2 361.8 518.0 Z" fill="url(#flameg)" stroke="#ec5522" stroke-width="0.6"/>
<path d="M358.7 518.0 C357.6 511.7 361.8 511.1 364.1 506.5 C364.7 510.9 368.8 512.2 367.5 518.0 Z" fill="url(#flameg)" stroke="#ec5522" stroke-width="0.6"/>
<path d="M363.8 518.0 C362.5 511.7 367.6 511.1 370.0 506.5 C370.6 510.9 375.8 512.2 374.2 518.0 Z" fill="url(#flameg)" stroke="#ec5522" stroke-width="0.6"/>
<path d="M375.4 518.0 C374.4 511.7 379.5 511.1 378.2 506.5 C378.4 510.9 384.7 512.2 383.5 518.0 Z" fill="url(#flameg)" stroke="#ec5522" stroke-width="0.6"/>
<path d="M386.6 518.0 C385.2 511.7 390.6 511.1 393.3 506.5 C394.0 510.9 399.3 512.2 397.7 518.0 Z" fill="url(#flameg)" stroke="#ec5522" stroke-width="0.6"/>
<path d="M394.1 518.0 C393.0 511.7 398.5 511.1 397.3 506.5 C397.4 510.9 404.1 512.2 402.8 518.0 Z" fill="url(#flameg)" stroke="#ec5522" stroke-width="0.6"/>
<path d="M416.3 518.0 C415.1 511.7 420.8 511.1 419.7 506.5 C419.8 510.9 426.7 512.2 425.4 518.0 Z" fill="url(#flameg)" stroke="#ec5522" stroke-width="0.6"/>
<path d="M436.5 518.0 C435.5 511.7 441.0 511.1 438.6 506.5 C438.7 510.9 445.7 512.2 444.5 518.0 Z" fill="url(#flameg)" stroke="#ec5522" stroke-width="0.6"/>
<path d="M404.5 518.0 C403.2 512.5 408.0 512.0 410.8 508.0 C411.5 511.8 416.0 513.0 414.5 518.0 Z" fill="url(#flameg)" stroke="#ec5522" stroke-width="0.6"/>
<path d="M433.2 518.0 C432.0 512.5 436.8 512.0 438.9 508.0 C439.4 511.8 444.2 513.0 442.7 518.0 Z" fill="url(#flameg)" stroke="#ec5522" stroke-width="0.6"/>
<path d="M379.7 518.0 C378.3 513.0 385.0 512.6 384.2 509.0 C384.3 512.4 392.4 513.5 390.7 518.0 Z" fill="url(#flameg)" stroke="#ec5522" stroke-width="0.6"/>
<path d="M331.7 518.3 C331.0 514.9 333.6 514.6 335.6 512.1 C336.2 514.4 338.4 515.2 337.5 518.3 Z" fill="#ffe07a" opacity="0.95"/>
<path d="M337.7 518.3 C336.9 514.9 341.1 514.6 340.0 512.1 C340.2 514.4 345.3 515.2 344.3 518.3 Z" fill="#ffe07a" opacity="0.95"/>
<path d="M344.6 518.3 C343.8 515.0 347.8 514.7 346.7 512.3 C346.9 514.6 351.7 515.3 350.8 518.3 Z" fill="#ffe07a" opacity="0.95"/>
<path d="M351.2 518.3 C350.6 514.4 353.5 514.1 352.8 511.3 C353.1 513.9 356.5 514.8 355.8 518.3 Z" fill="#ffe07a" opacity="0.95"/>
<path d="M356.0 518.3 C355.4 515.0 358.4 514.7 357.3 512.3 C357.5 514.6 361.2 515.3 360.5 518.3 Z" fill="#ffe07a" opacity="0.95"/>
<path d="M360.6 518.3 C360.0 515.0 362.6 514.7 363.8 512.3 C364.3 514.6 366.7 515.3 365.9 518.3 Z" fill="#ffe07a" opacity="0.95"/>
<path d="M366.1 518.3 C365.3 515.0 368.4 514.7 369.7 512.3 C370.2 514.6 373.3 515.3 372.3 518.3 Z" fill="#ffe07a" opacity="0.95"/>
<path d="M372.7 518.3 C372.2 514.3 374.9 513.9 374.4 511.0 C374.7 513.8 377.7 514.7 377.1 518.3 Z" fill="#ffe07a" opacity="0.95"/>
<path d="M377.2 518.3 C376.6 515.0 379.6 514.7 379.0 512.3 C379.3 514.6 382.8 515.3 382.0 518.3 Z" fill="#ffe07a" opacity="0.95"/>
<path d="M382.1 518.3 C381.3 515.7 385.2 515.5 384.9 513.6 C385.2 515.4 389.7 516.0 388.7 518.3 Z" fill="#ffe07a" opacity="0.95"/>
<path d="M389.0 518.3 C388.2 515.0 391.5 514.7 392.9 512.3 C393.5 514.6 396.6 515.3 395.6 518.3 Z" fill="#ffe07a" opacity="0.95"/>
<path d="M396.0 518.3 C395.4 515.0 398.6 514.7 398.0 512.3 C398.3 514.6 402.0 515.3 401.2 518.3 Z" fill="#ffe07a" opacity="0.95"/>
<path d="M401.4 518.3 C400.8 514.3 404.1 513.9 403.2 511.0 C403.4 513.8 407.3 514.7 406.6 518.3 Z" fill="#ffe07a" opacity="0.95"/>
<path d="M406.7 518.3 C406.0 515.4 408.9 515.2 410.4 513.1 C410.9 515.1 413.6 515.7 412.7 518.3 Z" fill="#ffe07a" opacity="0.95"/>
<path d="M413.1 518.3 C412.4 514.9 414.9 514.6 416.1 512.1 C416.6 514.4 418.9 515.2 418.1 518.3 Z" fill="#ffe07a" opacity="0.95"/>
<path d="M418.3 518.3 C417.6 515.0 421.0 514.7 420.4 512.3 C420.7 514.6 424.6 515.3 423.7 518.3 Z" fill="#ffe07a" opacity="0.95"/>
<path d="M423.9 518.3 C423.1 514.9 426.1 514.6 428.2 512.1 C428.7 514.4 431.4 515.2 430.4 518.3 Z" fill="#ffe07a" opacity="0.95"/>
<path d="M430.9 518.3 C430.4 514.3 432.4 513.9 433.7 511.0 C434.3 513.8 435.9 514.7 435.3 518.3 Z" fill="#ffe07a" opacity="0.95"/>
<path d="M435.3 518.3 C434.6 515.4 437.5 515.2 438.6 513.1 C439.1 515.1 441.9 515.7 441.0 518.3 Z" fill="#ffe07a" opacity="0.95"/>
<path d="M438.3 518.3 C437.7 515.0 440.9 514.7 439.8 512.3 C440.0 514.6 443.8 515.3 443.1 518.3 Z" fill="#ffe07a" opacity="0.95"/>
<path d="M369.3 518.3 C368.5 512.7 371.4 512.2 373.3 508.1 C373.9 512.0 376.5 513.2 375.5 518.3 Z" fill="#ffe07a" opacity="0.95"/>
<path d="M391.7 518.3 C390.9 512.6 393.8 512.1 395.7 508.0 C396.3 511.9 398.9 513.2 397.9 518.3 Z" fill="#ffe07a" opacity="0.95"/>
<path d="M348.1 518.3 C347.3 513.7 350.2 513.3 352.1 510.0 C352.7 513.1 355.3 514.1 354.3 518.3 Z" fill="#ffe07a" opacity="0.95"/>
<path d="M417.1 518.3 C416.3 513.9 419.2 513.5 421.1 510.2 C421.7 513.3 424.3 514.3 423.3 518.3 Z" fill="#ffe07a" opacity="0.95"/>
<path d="M434.1 518.3 C433.3 514.0 436.2 513.6 438.1 510.5 C438.7 513.5 441.3 514.4 440.3 518.3 Z" fill="#ffe07a" opacity="0.95"/>
<path d="M380.1 518.3 C379.3 514.0 383.3 513.6 382.3 510.5 C382.5 513.5 387.3 514.4 386.3 518.3 Z" fill="#ffe07a" opacity="0.95"/>
<path d="M405.1 518.3 C404.3 514.2 407.2 513.8 409.1 510.8 C409.7 513.6 412.3 514.5 411.3 518.3 Z" fill="#ffe07a" opacity="0.95"/>
<path d="M338.1 518.3 C337.3 514.3 340.2 513.9 342.1 511.0 C342.7 513.8 345.3 514.7 344.3 518.3 Z" fill="#ffe07a" opacity="0.95"/>
<path d="M332.4 518.3 C331.9 516.3 334.3 516.1 334.6 514.7 C335.0 516.1 337.5 516.5 336.8 518.3 Z" fill="#fff6cf" opacity="0.95"/>
<path d="M345.4 518.3 C344.8 516.4 347.3 516.2 347.7 514.8 C348.1 516.2 350.7 516.6 350.0 518.3 Z" fill="#fff6cf" opacity="0.95"/>
<path d="M356.5 518.3 C356.1 516.4 358.0 516.2 358.2 514.8 C358.6 516.2 360.5 516.6 360.0 518.3 Z" fill="#fff6cf" opacity="0.95"/>
<path d="M366.9 518.3 C366.3 516.4 368.9 516.2 369.2 514.8 C369.6 516.2 372.2 516.6 371.5 518.3 Z" fill="#fff6cf" opacity="0.95"/>
<path d="M377.8 518.3 C377.4 516.4 379.4 516.2 379.6 514.8 C380.0 516.2 382.0 516.6 381.4 518.3 Z" fill="#fff6cf" opacity="0.95"/>
<path d="M389.8 518.3 C389.2 516.4 391.9 516.2 392.3 514.8 C392.7 516.2 395.6 516.6 394.8 518.3 Z" fill="#fff6cf" opacity="0.95"/>
<path d="M402.1 518.3 C401.6 516.0 403.7 515.8 404.0 514.1 C404.4 515.7 406.5 516.2 405.9 518.3 Z" fill="#fff6cf" opacity="0.95"/>
<path d="M413.7 518.3 C413.2 516.3 415.3 516.1 415.6 514.7 C416.0 516.1 418.0 516.5 417.5 518.3 Z" fill="#fff6cf" opacity="0.95"/>
<path d="M424.7 518.3 C424.1 516.3 426.8 516.1 427.2 514.7 C427.6 516.1 430.4 516.5 429.6 518.3 Z" fill="#fff6cf" opacity="0.95"/>
<path d="M436.1 518.3 C435.5 516.6 437.9 516.5 438.2 515.3 C438.6 516.4 441.0 516.8 440.3 518.3 Z" fill="#fff6cf" opacity="0.95"/>
<path d="M370.1 518.3 C369.5 515.1 372.0 514.8 372.4 512.4 C372.8 514.7 375.4 515.4 374.7 518.3 Z" fill="#fff6cf" opacity="0.95"/>
<path d="M348.9 518.3 C348.3 515.7 350.8 515.4 351.2 513.5 C351.6 515.3 354.2 515.9 353.5 518.3 Z" fill="#fff6cf" opacity="0.95"/>
<path d="M434.9 518.3 C434.3 515.8 436.8 515.6 437.2 513.8 C437.6 515.5 440.2 516.0 439.5 518.3 Z" fill="#fff6cf" opacity="0.95"/>
<path d="M405.9 518.3 C405.3 515.9 407.8 515.7 408.2 513.9 C408.6 515.6 411.2 516.1 410.5 518.3 Z" fill="#fff6cf" opacity="0.95"/>
<rect x="330.6" y="514.8" width="113.8" height="3.2" rx="1.5" fill="#fff3c0" opacity="0.9"/>
<rect x="370.4" y="405.3" width="77.8" height="92" fill="#ffffff" stroke="#555" stroke-width="0.6" stroke-dasharray="1.6 1.2"/>
<rect x="377.8" y="407.2" width="22.8" height="28" fill="url(#hot)"/>
<rect x="421.2" y="407.2" width="22.6" height="28" fill="url(#cold)"/>
<path d="M389 415.2H432.7M389 427.8H432.7" stroke="#111" stroke-width="0.7"/>
<path d="M389 421 C402 424 418 424 432.7 408" stroke="#e8d38a" stroke-width="0.4" fill="none"/>
<circle cx="389" cy="415.2" r="2.5" fill="#f01212"/><circle cx="389" cy="427.8" r="2.5" fill="#f01212"/>
<circle cx="432.7" cy="415.2" r="2.5" fill="#1212e8"/><circle cx="432.7" cy="427.8" r="2.5" fill="#1212e8"/>
<text transform="translate(376.4 421.2) rotate(-90)" font-size="4" font-weight="bold" fill="#e8242e" text-anchor="middle">environment</text>
<text transform="translate(444.6 421.2) rotate(90)" font-size="4.4" font-weight="bold" fill="#1a2ee0" text-anchor="middle">Skin</text>
<rect x="373.5" y="437" width="36.4" height="59.5" fill="url(#mesh2)"/>
<rect x="409.9" y="437" width="38.2" height="59.5" fill="url(#mesh)"/>
<rect x="373.5" y="437" width="74.6" height="59.5" fill="#2038c8" opacity="0.25"/>
<path d="M400.8 446.6 L420.4 492" stroke="#b9a489" stroke-width="0.8"/>
<path d="M400.2 445.2l2.9 2.4l-2.2 0.9z M421 493.4l-2.9 -2.4l2.2 -0.9z" fill="#b9a489"/>
<path d="M387.5 465 L391.6 470.6 M390.6 486.4 L386.6 481" stroke="#b9a489" stroke-width="0.8"/>
<path d="M392.4 471.8l-2.7 -1.2l1.6 -1.3z M385.8 479.8l2.7 1.2l-1.6 1.3z" fill="#b9a489"/>
<circle cx="382.3" cy="444.2" r="1.7" fill="#9aa3b8"/><rect x="397.6" y="441.4" width="3" height="3.6" fill="#c9cbd4"/>
<rect x="419.4" y="489.6" width="3" height="5" fill="#aab0c4"/><rect x="434.2" y="489.6" width="3" height="5" fill="#c6cad8"/>
<text class="serif" x="387.2" y="451.2" font-size="5.4" fill="#63dbe9" textLength="8.8" lengthAdjust="spacingAndGlyphs">skin</text>
<text class="serif" x="381.6" y="463.8" font-size="5.4" fill="#63dbe9" textLength="17.6" lengthAdjust="spacingAndGlyphs">Cu wire</text>
<text class="serif" x="404.4" y="472.8" font-size="5.4" fill="#63dbe9" textLength="24.6" lengthAdjust="spacingAndGlyphs">silver paste</text>
<text class="serif" x="418.9" y="485" font-size="5.4" fill="#63dbe9" textLength="28.6" lengthAdjust="spacingAndGlyphs">environment</text>
<text class="serif" x="377.1" y="492" font-size="5.2" fill="#63dbe9" textLength="37.9" lengthAdjust="spacingAndGlyphs">Ge<tspan font-size="3.2" dy="0.9">2</tspan><tspan dy="-0.9">As</tspan><tspan font-size="3.2" dy="0.9">15</tspan><tspan dy="-0.9">Te</tspan><tspan font-size="3.2" dy="0.9">68</tspan><tspan dy="-0.9"> fiber</tspan></text>
<rect x="484.8" y="349.6" width="173.0" height="147.2" fill="url(#dbg)"/>
<rect x="606" y="413.6" width="43.1" height="80.4" fill="#c9c9c7"/>
<rect x="606" y="471.5" width="43.1" height="22.5" fill="#1b1b1d"/>
<rect x="630.4" y="413.6" width="1.3" height="62" fill="#5c5c5e"/>
<path d="M624 427.6H643 M626 425v5 M636 424v5" stroke="#3a3a3c" stroke-width="1"/>
<rect x="640" y="426.2" width="4.4" height="1.4" fill="#b58a3a"/>
<path d="M634.3 469.5 C632.4 465 633.4 460 634.4 455.6 C635.6 460 636.4 465 634.3 469.5 Z" fill="#f6a45e"/>
<path d="M627.2 492.5 C624.6 484 628.4 478 632.2 476.4 L632.2 471.5 L636.6 471.5 L636.6 476.4 C640.6 478 644.2 484 641.8 492.5 Z" fill="#b6bcbc" stroke="#7a8080" stroke-width="0.5"/>
<path d="M629 486 C633 483 637 488 640.6 484" stroke="#eef2f2" stroke-width="0.9" fill="none"/>
<rect x="607.2" y="446.2" width="14.4" height="27.4" rx="1.4" fill="#8e2a22"/>
<rect x="609" y="448.4" width="10.8" height="6" fill="#9aa69a"/>
<rect x="608.8" y="457.5" width="11.2" height="14" rx="1" fill="#2a2423"/>
<circle cx="614.4" cy="463.6" r="3" fill="#4a3f3d"/>
<path d="M612 473 C614 480 624 478 632 477 M616.6 473 C618 476 622 474 620 470" stroke="#a3262a" stroke-width="0.7" fill="none"/>
<path d="M606.4 477.8 C612 476 618 480 627.6 477.4" stroke="#222" stroke-width="0.7" fill="none"/>
<ellipse cx="615.4" cy="450.6" rx="9.3" ry="5.4" fill="none" stroke="#35c24a" stroke-width="0.7"/>
<line x1="607.6" y1="446.6" x2="606.6" y2="434.2" stroke="#35c24a" stroke-width="0.5"/>
<rect x="583.6" y="413.6" width="36.6" height="26.6" rx="3.4" fill="#8a2f25"/>
<rect x="583.6" y="436.2" width="36.6" height="4" fill="#3a2a28"/>
<rect x="587.6" y="416.6" width="28.4" height="17.6" rx="0.8" fill="#a4ab9c" stroke="#3f3a36" stroke-width="1"/>
<rect x="588.4" y="417.4" width="26.8" height="3.2" fill="#8f968a"/>
<text x="590.2" y="431.8" font-size="10.6" font-style="italic" fill="#2c302b" textLength="23.6" lengthAdjust="spacingAndGlyphs" font-family="'Liberation Mono', monospace">0294</text>
<path d="M503.8 399.5 L540.8 399.5 L542 408.2 C534 413.8 511 413.8 502.8 408.2 Z" fill="url(#sbase)" stroke="#8a8a8a" stroke-width="0.4"/>
<ellipse cx="522.3" cy="399.6" rx="18.6" ry="3.4" fill="#d9d9d9" stroke="#9a9a9a" stroke-width="0.4"/>
<path d="M510 402.5v7.4 M521.4 403.6v7.8 M534 402.5v7.4" stroke="#8c8c8c" stroke-width="0.7"/>
<path d="M506.4 398.6 C505.6 382 511 374 522.3 374 C533.6 374 539 382 538.2 398.6 C532 402 513 402 506.4 398.6 Z" fill="url(#dome)"/>
<path d="M516 380.6 L524 385.6 L524 394 L516 398 Z" fill="#ff5a52" opacity="0.85"/>
<path d="M519 394.2 C522 392 526.4 392.6 528.6 395.4 C526 398.6 521 398.8 519 394.2 Z" fill="#8e1410" opacity="0.85"/>
<path d="M525.6 377.6 C531 379 533.4 386 533.6 394.6 C530 396 528.6 388 525.6 377.6 Z" fill="#ffffff" opacity="0.75"/>
<text x="487.6" y="360" font-size="7.7" font-weight="bold" fill="#141414" textLength="56.6" lengthAdjust="spacingAndGlyphs">Distance=30cm</text>
<text x="487.6" y="421.4" font-size="7.7" font-weight="bold" fill="#f02020" textLength="76.2" lengthAdjust="spacingAndGlyphs">Alarm voltage:20 mV</text>
<polyline points="484.8,485.7 657.8,361.3" fill="none" stroke="#f42a2a" stroke-width="1.25"/>
<polyline points="485.0,490.2 489.0,488.6 496.0,483.6 500.0,482.2 507.0,477.4 511.0,475.8 514.0,472.2 519.0,470.2 526.0,465.0 533.4,458.4 538.0,453.6 542.5,448.4 548.0,443.2 552.7,439.0 558.0,432.4 564.0,424.4 568.0,420.0 574.3,414.2 580.0,408.2 585.0,403.4 590.0,400.2 596.0,396.4 602.0,393.2 605.8,391.4 611.0,387.2 618.0,383.0 624.8,379.4 632.0,374.0 641.0,367.8 646.0,365.8 650.0,365.0 654.0,364.4 657.8,364.2" fill="none" stroke="#2424f0" stroke-width="1.25" stroke-linejoin="round"/>
<line x1="484.8" y1="349.6" x2="657.8" y2="349.6" stroke="#4a4a4a" stroke-width="1.2"/>
<line x1="484.8" y1="496.8" x2="657.8" y2="496.8" stroke="#222" stroke-width="1.1"/>
<line x1="484.8" y1="349.1" x2="484.8" y2="497.3" stroke="#f42a2a" stroke-width="1.3"/>
<line x1="657.8" y1="349.1" x2="657.8" y2="497.3" stroke="#2424f0" stroke-width="1.3"/>
<line x1="484.8" y1="496.6" x2="487.6" y2="496.6" stroke="#f42a2a" stroke-width="1"/>
<text x="482.7" y="500.1" font-size="9.5" fill="#f42a2a" text-anchor="end">290</text>
<line x1="484.8" y1="475.7" x2="487.6" y2="475.7" stroke="#f42a2a" stroke-width="1"/>
<text x="482.7" y="479.1" font-size="9.5" fill="#f42a2a" text-anchor="end">300</text>
<line x1="484.8" y1="454.7" x2="487.6" y2="454.7" stroke="#f42a2a" stroke-width="1"/>
<text x="482.7" y="458.1" font-size="9.5" fill="#f42a2a" text-anchor="end">310</text>
<line x1="484.8" y1="433.7" x2="487.6" y2="433.7" stroke="#f42a2a" stroke-width="1"/>
<text x="482.7" y="437.2" font-size="9.5" fill="#f42a2a" text-anchor="end">320</text>
<line x1="484.8" y1="412.8" x2="487.6" y2="412.8" stroke="#f42a2a" stroke-width="1"/>
<text x="482.7" y="416.2" font-size="9.5" fill="#f42a2a" text-anchor="end">330</text>
<line x1="484.8" y1="391.8" x2="487.6" y2="391.8" stroke="#f42a2a" stroke-width="1"/>
<text x="482.7" y="395.3" font-size="9.5" fill="#f42a2a" text-anchor="end">340</text>
<line x1="484.8" y1="370.9" x2="487.6" y2="370.9" stroke="#f42a2a" stroke-width="1"/>
<text x="482.7" y="374.3" font-size="9.5" fill="#f42a2a" text-anchor="end">350</text>
<line x1="484.8" y1="349.9" x2="487.6" y2="349.9" stroke="#f42a2a" stroke-width="1"/>
<text x="482.7" y="353.3" font-size="9.5" fill="#f42a2a" text-anchor="end">360</text>
<line x1="484.8" y1="486.1" x2="486.5" y2="486.1" stroke="#f42a2a" stroke-width="0.9"/>
<line x1="484.8" y1="465.2" x2="486.5" y2="465.2" stroke="#f42a2a" stroke-width="0.9"/>
<line x1="484.8" y1="444.2" x2="486.5" y2="444.2" stroke="#f42a2a" stroke-width="0.9"/>
<line x1="484.8" y1="423.3" x2="486.5" y2="423.3" stroke="#f42a2a" stroke-width="0.9"/>
<line x1="484.8" y1="402.3" x2="486.5" y2="402.3" stroke="#f42a2a" stroke-width="0.9"/>
<line x1="484.8" y1="381.3" x2="486.5" y2="381.3" stroke="#f42a2a" stroke-width="0.9"/>
<line x1="484.8" y1="360.4" x2="486.5" y2="360.4" stroke="#f42a2a" stroke-width="0.9"/>
<line x1="657.8" y1="496.6" x2="655.0" y2="496.6" stroke="#2424f0" stroke-width="1"/>
<text x="660.3" y="500.0" font-size="9.5" fill="#2424f0">0</text>
<line x1="657.8" y1="475.7" x2="655.0" y2="475.7" stroke="#2424f0" stroke-width="1"/>
<text x="660.3" y="479.2" font-size="9.5" fill="#2424f0">5</text>
<line x1="657.8" y1="454.8" x2="655.0" y2="454.8" stroke="#2424f0" stroke-width="1"/>
<text x="660.3" y="458.3" font-size="9.5" fill="#2424f0">10</text>
<line x1="657.8" y1="433.9" x2="655.0" y2="433.9" stroke="#2424f0" stroke-width="1"/>
<text x="660.3" y="437.4" font-size="9.5" fill="#2424f0">15</text>
<line x1="657.8" y1="413.1" x2="655.0" y2="413.1" stroke="#2424f0" stroke-width="1"/>
<text x="660.3" y="416.5" font-size="9.5" fill="#2424f0">20</text>
<line x1="657.8" y1="392.2" x2="655.0" y2="392.2" stroke="#2424f0" stroke-width="1"/>
<text x="660.3" y="395.6" font-size="9.5" fill="#2424f0">25</text>
<line x1="657.8" y1="371.3" x2="655.0" y2="371.3" stroke="#2424f0" stroke-width="1"/>
<text x="660.3" y="374.7" font-size="9.5" fill="#2424f0">30</text>
<line x1="657.8" y1="350.4" x2="655.0" y2="350.4" stroke="#2424f0" stroke-width="1"/>
<text x="660.3" y="353.8" font-size="9.5" fill="#2424f0">35</text>
<line x1="657.8" y1="486.2" x2="656.1" y2="486.2" stroke="#2424f0" stroke-width="0.9"/>
<line x1="657.8" y1="465.3" x2="656.1" y2="465.3" stroke="#2424f0" stroke-width="0.9"/>
<line x1="657.8" y1="444.4" x2="656.1" y2="444.4" stroke="#2424f0" stroke-width="0.9"/>
<line x1="657.8" y1="423.5" x2="656.1" y2="423.5" stroke="#2424f0" stroke-width="0.9"/>
<line x1="657.8" y1="402.6" x2="656.1" y2="402.6" stroke="#2424f0" stroke-width="0.9"/>
<line x1="657.8" y1="381.7" x2="656.1" y2="381.7" stroke="#2424f0" stroke-width="0.9"/>
<line x1="657.8" y1="360.8" x2="656.1" y2="360.8" stroke="#2424f0" stroke-width="0.9"/>
<text x="484.8" y="508.5" font-size="9.5" fill="#111" text-anchor="middle">0</text>
<line x1="513.6" y1="496.8" x2="513.6" y2="494.0" stroke="#222" stroke-width="1"/>
<text x="513.6" y="508.5" font-size="9.5" fill="#111" text-anchor="middle">40</text>
<line x1="542.5" y1="496.8" x2="542.5" y2="494.0" stroke="#222" stroke-width="1"/>
<text x="542.5" y="508.5" font-size="9.5" fill="#111" text-anchor="middle">80</text>
<line x1="571.3" y1="496.8" x2="571.3" y2="494.0" stroke="#222" stroke-width="1"/>
<text x="571.3" y="508.5" font-size="9.5" fill="#111" text-anchor="middle">120</text>
<line x1="600.1" y1="496.8" x2="600.1" y2="494.0" stroke="#222" stroke-width="1"/>
<text x="600.1" y="508.5" font-size="9.5" fill="#111" text-anchor="middle">160</text>
<line x1="629.0" y1="496.8" x2="629.0" y2="494.0" stroke="#222" stroke-width="1"/>
<text x="629.0" y="508.5" font-size="9.5" fill="#111" text-anchor="middle">200</text>
<text x="657.8" y="508.5" font-size="9.5" fill="#111" text-anchor="middle">240</text>
<line x1="499.2" y1="496.8" x2="499.2" y2="495.1" stroke="#222" stroke-width="0.9"/>
<line x1="528.0" y1="496.8" x2="528.0" y2="495.1" stroke="#222" stroke-width="0.9"/>
<line x1="556.9" y1="496.8" x2="556.9" y2="495.1" stroke="#222" stroke-width="0.9"/>
<line x1="585.7" y1="496.8" x2="585.7" y2="495.1" stroke="#222" stroke-width="0.9"/>
<line x1="614.5" y1="496.8" x2="614.5" y2="495.1" stroke="#222" stroke-width="0.9"/>
<line x1="643.4" y1="496.8" x2="643.4" y2="495.1" stroke="#222" stroke-width="0.9"/>
<text transform="translate(463 420) rotate(-90)" font-size="10.45" fill="#f42a2a" text-anchor="middle">Temperature (K)</text>
<text transform="translate(681.6 419.5) rotate(-90)" font-size="10.3" fill="#2424f0" text-anchor="middle">Voltage (mV)</text>
<text x="574.2" y="519.9" font-size="9.9" fill="#111" text-anchor="middle">Time (s)</text>
</g>
</svg>
</body>
</html>
